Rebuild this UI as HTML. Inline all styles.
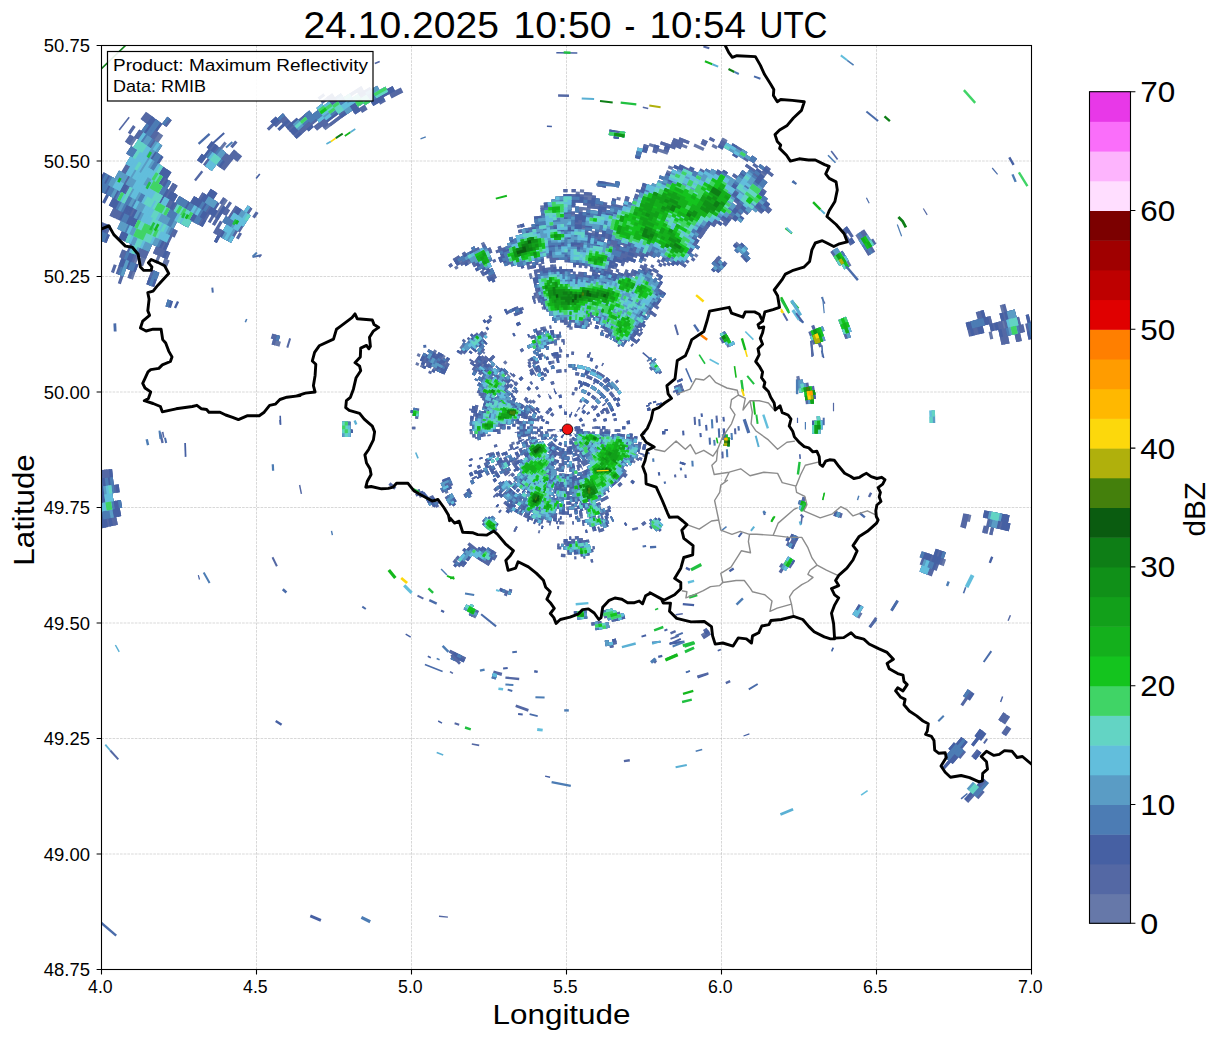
<!DOCTYPE html>
<html><head><meta charset="utf-8"><title>Radar</title>
<style>html,body{margin:0;padding:0;background:#fff;overflow:hidden}body{width:1219px;height:1040px;position:relative}</style></head>
<body>
<svg width="1219" height="1040" viewBox="0 0 1219 1040" style="position:absolute;left:0;top:0;display:block" font-family="Liberation Sans, sans-serif">
<rect x="0" y="0" width="1219" height="1040" fill="#fff"/>
<clipPath id="ax"><rect x="101.5" y="45.5" width="930.0" height="924.0"/></clipPath>
<g clip-path="url(#ax)">
<path d="M256.5,45.5V969.5M411.5,45.5V969.5M566.5,45.5V969.5M721.5,45.5V969.5M876.5,45.5V969.5M101.5,854.0H1031.5M101.5,738.5H1031.5M101.5,623.0H1031.5M101.5,507.5H1031.5M101.5,392.0H1031.5M101.5,276.5H1031.5M101.5,161.0H1031.5" stroke="#b0b0b0" stroke-opacity="0.7" stroke-width="0.7" stroke-dasharray="2.6,1.1" fill="none"/>
<g transform="translate(567.5,429.3)" fill="none" stroke-width="3.2">
<g stroke="#6678A9"><circle r="11.25" pathLength="360" stroke-dasharray="0 0 42 9 13 2 14 265 15 0"/><circle r="21.25" pathLength="360" stroke-dasharray="0 6 69 3 14 7 6 1 37 9 1 6 15 21 7 18 8 69 2 61"/><circle r="26.25" pathLength="360" stroke-dasharray="0 5 57 6 10 14 45 20 18 6 5 12 5 14 7 1 7 73 2 13 4 30 5 1"/><circle r="28.75" pathLength="360" stroke-dasharray="0 10 60 10 1 5 21 6 41 11 5 5 6 21 6 96 3 31 6 10 5 1"/><circle r="36.25" pathLength="360" stroke-dasharray="0 4 52 2 10 2 4 5 12 4 9 4 60 5 35 3 5 24 3 34 4 39 4 31 5 0"/><circle r="38.75" pathLength="360" stroke-dasharray="0 0 67 2 7 3 8 8 8 8 52 2 19 4 12 7 6 28 1 9 2 78 5 8 4 12"/><circle r="41.25" pathLength="360" stroke-dasharray="0 0 57 12 1 3 3 4 7 8 11 3 48 7 2 4 10 8 3 4 4 4 3 1 6 38 1 28 4 6 7 2 4 3 7 1 7 9 3 27"/><circle r="43.75" pathLength="360" stroke-dasharray="0 10 53 14 7 21 50 1 9 5 21 3 19 4 4 7 3 55 1 38 2 4 8 21"/><circle r="46.25" pathLength="360" stroke-dasharray="0 6 65 1 6 3 20 3 50 3 7 2 1 4 19 4 17 4 4 67 3 27 1 8 1 34"/><circle r="48.75" pathLength="360" stroke-dasharray="0 0 3 3 69 4 12 1 63 2 1 7 2 1 9 3 3 3 4 6 7 3 3 4 3 34 4 29 4 1 9 2 7 2 3 1 8 2 3 2 11 3 3 3 3 10"/><circle r="51.25" pathLength="360" stroke-dasharray="0 0 3 2 141 4 8 5 3 10 1 9 23 5 4 14 3 125"/><circle r="56.25" pathLength="360" stroke-dasharray="0 5 142 3 6 3 1 4 3 19 22 17 3 14 3 33 4 2 4 2 6 2 6 1 4 1 7 2 6 1 3 3 4 21 3 0"/><circle r="58.75" pathLength="360" stroke-dasharray="0 10 78 3 53 1 3 1 2 9 5 15 3 2 22 24 2 13 3 10 5 3 2 18 3 21 3 14 3 29"/><circle r="61.25" pathLength="360" stroke-dasharray="0 5 83 3 12 1 37 4 7 8 1 24 26 30 6 3 2 23 4 8 4 1 6 1 5 2 4 1 7 34 3 5"/><circle r="63.75" pathLength="360" stroke-dasharray="0 4 99 2 33 2 16 24 27 3 2 3 3 21 1 3 2 3 3 4 3 13 6 2 7 1 4 1 4 1 8 2 4 2 9 1 3 34"/><circle r="68.75" pathLength="360" stroke-dasharray="0 6 5 2 16 2 1 3 64 2 1 2 33 11 8 2 2 16 4 2 31 7 3 3 3 8 3 1 5 8 5 2 2 31 2 19 2 43"/><circle r="71.25" pathLength="360" stroke-dasharray="0 12 18 5 18 2 33 5 45 1 3 2 3 1 6 24 2 2 31 3 3 2 1 19 2 18 2 97"/><circle r="73.75" pathLength="360" stroke-dasharray="0 10 8 2 3 2 2 10 3 16 1 2 21 2 2 3 4 2 2 2 26 2 8 2 1 5 1 1 14 1 4 4 2 10 40 3 1 16 2 2 5 6 2 4 6 4 2 17 2 8 1 61"/><circle r="76.25" pathLength="360" stroke-dasharray="0 2 2 2 2 10 1 3 2 21 3 16 9 2 6 2 4 5 30 2 2 5 4 8 15 20 38 1 4 3 2 13 2 2 4 1 2 2 1 5 5 10 2 10 2 73"/><circle r="78.75" pathLength="360" stroke-dasharray="0 11 4 3 1 2 2 36 6 4 14 2 6 1 28 1 4 3 2 1 8 7 2 5 1 5 4 12 1 2 26 2 17 1 1 15 6 2 4 12 2 20 1 73"/><circle r="81.25" pathLength="360" stroke-dasharray="0 18 2 46 12 1 2 2 2 4 1 2 4 2 29 8 5 16 2 1 4 14 43 2 1 24 2 15 1 95"/><circle r="83.75" pathLength="360" stroke-dasharray="0 16 1 21 2 27 10 3 2 1 2 4 7 2 24 1 18 4 5 1 3 4 2 2 1 12 49 22 2 1 2 4 2 86 1 1 2 13"/><circle r="86.25" pathLength="360" stroke-dasharray="0 67 10 3 2 5 2 8 38 1 6 5 1 1 6 1 4 15 17 1 31 24 8 5 2 4 1 74 1 17"/><circle r="88.75" pathLength="360" stroke-dasharray="0 61 2 2 3 1 8 3 2 1 2 9 1 2 38 1 5 3 2 8 4 15 19 7 19 2 3 24 16 3 2 92"/><circle r="91.25" pathLength="360" stroke-dasharray="0 62 8 2 4 6 2 11 1 1 2 1 12 2 8 3 10 1 2 1 2 9 5 6 1 12 1 2 13 10 15 1 6 4 2 11 2 3 17 2 2 77 1 17"/><circle r="93.75" pathLength="360" stroke-dasharray="0 64 2 2 1 1 1 1 9 5 1 5 3 1 1 3 3 2 8 1 3 1 2 1 1 2 4 1 1 4 3 2 2 12 1 21 2 2 6 3 7 6 19 1 1 26 18 78 1 15"/><circle r="96.25" pathLength="360" stroke-dasharray="0 1 2 62 2 1 10 2 1 19 1 4 5 1 6 1 13 5 2 15 2 1 2 19 3 2 6 2 4 8 17 31 12 3 1 78 1 15"/><circle r="98.75" pathLength="360" stroke-dasharray="0 0 1 62 1 2 11 18 1 10 1 2 1 3 1 10 4 9 1 13 4 36 1 14 2 1 13 26 3 1 4 1 2 1 2 39 1 58"/><circle r="101.25" pathLength="360" stroke-dasharray="0 63 1 2 5 3 2 28 1 20 2 24 1 2 2 6 1 46 2 2 7 1 1 25 1 4 3 1 2 13 2 16 2 1 2 1 1 1 7 56"/><circle r="103.75" pathLength="360" stroke-dasharray="0 67 3 2 1 1 2 3 1 52 1 19 1 6 1 48 1 3 7 2 4 26 2 2 3 2 1 9 2 2 7 8 1 3 9 1 1 19 2 35"/><circle r="106.25" pathLength="360" stroke-dasharray="0 70 3 32 1 23 1 22 1 1 2 57 9 46 4 2 8 3 2 3 14 3 1 11 1 1 7 32"/><circle r="108.75" pathLength="360" stroke-dasharray="0 84 2 2 1 61 2 58 12 18 1 22 1 2 4 1 10 1 1 5 17 14 1 1 8 31"/><circle r="111.25" pathLength="360" stroke-dasharray="0 58 1 23 3 1 2 2 2 25 1 94 9 41 20 3 24 12 1 38"/><circle r="113.75" pathLength="360" stroke-dasharray="0 79 13 25 1 96 1 1 4 2 1 40 19 1 23 2 1 31 1 19"/><circle r="116.25" pathLength="360" stroke-dasharray="0 80 11 1 1 1 1 34 2 15 3 65 2 4 4 20 2 15 22 1 22 32 5 17"/><circle r="121.25" pathLength="360" stroke-dasharray="0 16 1 33 2 25 1 1 11 36 7 13 2 72 1 2 4 33 46 1 1 28 1 1 4 18"/><circle r="123.75" pathLength="360" stroke-dasharray="0 47 1 30 9 1 2 35 8 85 1 1 7 1 1 29 47 1 1 29 1 23"/><circle r="126.25" pathLength="360" stroke-dasharray="0 45 4 31 4 7 2 34 5 88 10 15 4 10 47 54"/><circle r="133.75" pathLength="360" stroke-dasharray="0 45 4 30 1 67 4 2 5 57 1 1 3 2 1 1 1 8 2 7 1 12 1 1 48 55"/><circle r="136.25" pathLength="360" stroke-dasharray="0 47 1 98 5 1 5 47 5 11 1 11 1 2 1 19 51 54"/><circle r="138.75" pathLength="360" stroke-dasharray="0 147 4 2 2 49 7 45 48 1 1 54"/><circle r="141.25" pathLength="360" stroke-dasharray="0 204 6 47 49 54"/><circle r="143.75" pathLength="360" stroke-dasharray="0 120 4 80 7 46 51 52"/><circle r="146.25" pathLength="360" stroke-dasharray="0 119 7 77 8 46 48 55"/><circle r="153.75" pathLength="360" stroke-dasharray="0 120 10 20 4 26 1 4 3 16 7 46 49 54"/><circle r="156.25" pathLength="360" stroke-dasharray="0 2 2 116 10 21 3 32 1 16 1 1 5 46 1 1 13 1 1 1 3 2 27 54"/><circle r="158.75" pathLength="360" stroke-dasharray="0 2 4 121 4 24 2 46 5 1 1 46 1 1 1 1 12 7 2 1 24 54"/><circle r="161.25" pathLength="360" stroke-dasharray="0 3 3 121 3 25 1 1 1 47 3 50 8 1 1 10 27 55"/><circle r="163.75" pathLength="360" stroke-dasharray="0 127 3 26 1 46 1 56 2 2 2 6 1 1 1 1 1 1 8 2 18 54"/><circle r="166.25" pathLength="360" stroke-dasharray="0 128 2 76 1 36 1 12 3 1 1 11 13 2 1 2 3 1 12 54"/><circle r="168.75" pathLength="360" stroke-dasharray="0 127 4 111 3 9 1 1 1 1 2 1 1 2 2 3 18 3 1 1 11 57"/><circle r="171.25" pathLength="360" stroke-dasharray="0 109 1 17 2 1 1 111 3 8 5 1 3 2 23 5 11 57"/><circle r="178.75" pathLength="360" stroke-dasharray="0 241 1 1 1 5 41 4 4 2 2 27 2 29"/><circle r="181.25" pathLength="360" stroke-dasharray="0 242 3 3 44 3 1 2 2 28 5 27"/><circle r="186.25" pathLength="360" stroke-dasharray="0 76 3 5 3 154 5 3 43 1 2 37 1 27"/><circle r="188.75" pathLength="360" stroke-dasharray="0 75 4 5 3 153 6 3 45 5 1 60"/><circle r="193.75" pathLength="360" stroke-dasharray="0 73 5 160 9 2 1 2 29 1 15 2 1 1 1 58"/><circle r="196.25" pathLength="360" stroke-dasharray="0 73 4 3 3 152 1 1 10 6 45 1 2 1 1 57"/><circle r="198.75" pathLength="360" stroke-dasharray="0 78 4 154 10 7 1 1 21 1 2 1 24 56"/><circle r="201.25" pathLength="360" stroke-dasharray="0 78 4 36 1 115 1 1 8 1 1 11 20 1 28 54"/><circle r="203.75" pathLength="360" stroke-dasharray="0 116 4 116 2 1 1 2 1 2 1 10 49 55"/><circle r="208.75" pathLength="360" stroke-dasharray="0 116 2 138 2 3 44 55"/><circle r="213.75" pathLength="360" stroke-dasharray="0 261 45 54"/><circle r="216.25" pathLength="360" stroke-dasharray="0 77 1 1 1 99 1 83 9 1 32 1 1 5 1 47"/><circle r="218.75" pathLength="360" stroke-dasharray="0 77 3 98 4 81 8 1 2 1 30 7 2 46"/><circle r="221.25" pathLength="360" stroke-dasharray="0 78 1 99 4 81 8 1 4 2 27 6 3 46"/><circle r="223.75" pathLength="360" stroke-dasharray="0 178 4 81 9 3 5 1 25 5 3 46"/><circle r="226.25" pathLength="360" stroke-dasharray="0 264 8 2 31 6 3 46"/><circle r="231.25" pathLength="360" stroke-dasharray="0 267 11 3 1 2 20 56"/><circle r="233.75" pathLength="360" stroke-dasharray="0 269 8 4 1 2 21 55"/><circle r="236.25" pathLength="360" stroke-dasharray="0 272 1 1 2 6 1 1 1 1 19 42 4 9"/><circle r="238.75" pathLength="360" stroke-dasharray="0 269 1 1 1 1 1 10 1 1 19 43 3 9"/><circle r="246.25" pathLength="360" stroke-dasharray="0 0 1 15 3 7 1 28 2 220 2 8 18 8 1 1 2 33 4 4 2 0"/><circle r="251.25" pathLength="360" stroke-dasharray="0 0 1 24 3 86 4 163 1 5 19 6 4 41 3 0"/><circle r="268.75" pathLength="360" stroke-dasharray="0 290 19 29 3 19"/><circle r="276.25" pathLength="360" stroke-dasharray="0 291 18 51"/><circle r="281.25" pathLength="360" stroke-dasharray="0 17 1 266 1 6 1 1 13 1 3 50"/><circle r="293.75" pathLength="360" stroke-dasharray="0 285 1 1 3 8 14 26 4 18"/><circle r="296.25" pathLength="360" stroke-dasharray="0 279 1 6 2 1 1 9 14 25 4 18"/><circle r="301.25" pathLength="360" stroke-dasharray="0 196 1 81 3 7 3 10 1 2 8 48"/><circle r="303.75" pathLength="360" stroke-dasharray="0 196 2 92 2 11 8 49"/><circle r="306.25" pathLength="360" stroke-dasharray="0 196 2 92 3 11 6 50"/><circle r="311.25" pathLength="360" stroke-dasharray="0 291 2 1 2 8 5 51"/><circle r="318.75" pathLength="360" stroke-dasharray="0 295 1 1 1 6 4 18 3 31"/><circle r="321.25" pathLength="360" stroke-dasharray="0 298 1 2 1 4 2 18 4 30"/><circle r="326.25" pathLength="360" stroke-dasharray="0 298 7 1 3 18 3 30"/><circle r="328.75" pathLength="360" stroke-dasharray="0 298 1 1 3 1 1 2 1 52"/><circle r="346.25" pathLength="360" stroke-dasharray="0 32 1 327"/><circle r="348.75" pathLength="360" stroke-dasharray="0 326 4 30"/><circle r="386.25" pathLength="360" stroke-dasharray="0 19 3 187 6 16 11 118"/><circle r="398.75" pathLength="360" stroke-dasharray="0 19 1 188 2 1 3 13 12 121"/><circle r="408.75" pathLength="360" stroke-dasharray="0 12 2 196 3 14 4 2 2 125"/><circle r="411.25" pathLength="360" stroke-dasharray="0 12 1 198 3 13 2 131"/><circle r="433.75" pathLength="360" stroke-dasharray="0 11 2 189 1 5 5 4 3 125 1 1 1 12"/><circle r="436.25" pathLength="360" stroke-dasharray="0 11 3 188 2 4 4 5 2 126 2 13"/><circle r="443.75" pathLength="360" stroke-dasharray="0 11 2 186 2 1 9 5 3 127 3 11"/><circle r="446.25" pathLength="360" stroke-dasharray="0 11 2 190 8 5 4 126 3 11"/><circle r="448.75" pathLength="360" stroke-dasharray="0 11 2 190 8 5 3 126 4 11"/><circle r="451.25" pathLength="360" stroke-dasharray="0 12 1 191 7 6 2 125 4 12"/><circle r="456.25" pathLength="360" stroke-dasharray="0 169 2 1 1 28 10 5 1 1 1 126 3 12"/><circle r="458.75" pathLength="360" stroke-dasharray="0 169 2 1 3 26 10 134 4 11"/><circle r="461.25" pathLength="360" stroke-dasharray="0 168 7 24 2 1 10 133 4 11"/><circle r="463.75" pathLength="360" stroke-dasharray="0 168 7 24 13 134 2 12"/><circle r="501.25" pathLength="360" stroke-dasharray="0 38 3 161 2 1 11 144"/><circle r="503.75" pathLength="360" stroke-dasharray="0 38 3 161 2 1 11 1 1 142"/><circle r="521.25" pathLength="360" stroke-dasharray="0 33 1 4 1 168 2 4 2 1 1 143"/></g>
<g stroke="#5468A4"><circle r="1.25" pathLength="360" stroke-dasharray="0 124 70 166"/><circle r="3.75" pathLength="360" stroke-dasharray="0 142 10 208"/><circle r="6.25" pathLength="360" stroke-dasharray="0 52 20 50 6 33 22 177"/><circle r="8.75" pathLength="360" stroke-dasharray="0 0 15 19 2 85 11 33 1 175 19 0"/><circle r="11.25" pathLength="360" stroke-dasharray="0 0 42 9 13 281 15 0"/><circle r="13.75" pathLength="360" stroke-dasharray="0 0 45 2 12 8 15 11 11 40 15 16 6 97 7 74 1 0"/><circle r="16.25" pathLength="360" stroke-dasharray="0 8 66 18 10 9 11 11 14 6 9 10 9 77 10 14 4 10 9 14 11 10 10 10"/><circle r="18.75" pathLength="360" stroke-dasharray="0 7 85 58 6 17 8 79 1 99"/><circle r="21.25" pathLength="360" stroke-dasharray="0 6 57 7 5 3 14 7 6 1 37 9 1 6 15 21 7 18 8 69 2 61"/><circle r="23.75" pathLength="360" stroke-dasharray="0 8 65 4 34 7 25 12 13 81 7 41 4 8 8 43"/><circle r="26.25" pathLength="360" stroke-dasharray="0 7 55 6 10 14 45 20 18 6 5 12 5 14 7 1 7 73 2 13 4 36"/><circle r="28.75" pathLength="360" stroke-dasharray="0 10 60 10 1 5 16 11 41 21 6 21 6 96 3 31 6 10 5 1"/><circle r="31.25" pathLength="360" stroke-dasharray="0 9 56 2 14 6 4 5 5 14 12 5 24 4 1 10 5 5 4 10 10 88 5 57 4 1"/><circle r="33.75" pathLength="360" stroke-dasharray="0 0 57 2 5 2 7 10 4 4 9 5 62 5 4 5 4 9 5 11 3 42 5 35 4 1 8 8 5 1 3 7 6 21 1 0"/><circle r="36.25" pathLength="360" stroke-dasharray="0 4 52 2 10 11 12 4 9 4 60 5 14 2 19 3 5 24 3 34 4 39 4 31 5 0"/><circle r="38.75" pathLength="360" stroke-dasharray="0 0 67 2 7 3 8 8 8 8 52 2 4 2 13 4 8 1 3 7 2 32 1 9 2 78 5 8 4 12"/><circle r="41.25" pathLength="360" stroke-dasharray="0 3 54 12 1 3 3 4 7 8 11 3 48 7 2 5 9 8 3 4 1 7 3 1 6 38 1 28 4 6 7 2 4 3 7 1 7 9 3 27"/><circle r="43.75" pathLength="360" stroke-dasharray="0 10 53 14 7 21 50 1 9 5 21 3 19 5 3 7 3 55 1 38 2 4 8 21"/><circle r="46.25" pathLength="360" stroke-dasharray="0 6 65 1 6 6 16 4 50 3 7 2 1 4 19 4 17 4 2 69 3 27 1 8 1 34"/><circle r="48.75" pathLength="360" stroke-dasharray="0 0 3 3 69 4 12 1 63 2 1 7 2 1 9 3 3 3 4 6 7 10 3 34 4 29 4 1 9 2 7 2 3 1 8 2 3 2 11 3 3 3 3 10"/><circle r="51.25" pathLength="360" stroke-dasharray="0 0 3 2 141 4 8 5 3 23 20 5 4 14 3 125"/><circle r="53.75" pathLength="360" stroke-dasharray="0 5 140 6 1 7 2 22 3 3 20 90 2 59"/><circle r="56.25" pathLength="360" stroke-dasharray="0 5 142 3 6 3 1 26 22 17 3 14 3 33 4 2 4 2 6 2 6 1 4 1 7 2 6 1 3 3 4 21 3 0"/><circle r="58.75" pathLength="360" stroke-dasharray="0 10 78 3 2 3 48 1 3 1 2 9 5 15 3 2 22 24 2 13 3 10 5 3 2 18 3 21 3 14 3 29"/><circle r="61.25" pathLength="360" stroke-dasharray="0 5 83 3 2 1 9 1 37 4 4 1 2 8 1 24 26 30 6 3 2 23 4 8 4 1 6 1 5 2 4 1 7 34 3 5"/><circle r="63.75" pathLength="360" stroke-dasharray="0 4 99 2 33 2 8 2 6 24 27 3 2 3 3 21 1 3 2 3 3 4 3 13 6 2 7 1 4 1 4 1 8 2 4 2 9 1 3 34"/><circle r="66.25" pathLength="360" stroke-dasharray="0 7 79 2 12 2 36 3 2 7 2 3 1 1 3 20 29 2 2 1 2 1 2 17 4 1 5 114"/><circle r="68.75" pathLength="360" stroke-dasharray="0 6 5 2 16 2 1 3 64 2 1 4 31 11 8 2 2 16 4 5 28 7 3 3 3 8 3 1 5 8 2 5 2 31 2 19 2 43"/><circle r="71.25" pathLength="360" stroke-dasharray="0 12 18 8 15 2 33 5 45 1 2 3 3 1 6 24 2 2 31 3 3 2 1 19 2 18 2 97"/><circle r="73.75" pathLength="360" stroke-dasharray="0 10 8 2 3 14 3 16 1 2 21 2 2 3 4 2 2 2 26 2 8 2 1 7 3 2 9 3 2 4 2 10 39 4 1 16 2 2 5 6 2 4 6 4 2 17 2 8 1 61"/><circle r="76.25" pathLength="360" stroke-dasharray="0 2 2 2 2 10 1 3 2 21 3 16 9 2 6 2 4 5 30 2 2 5 4 8 15 20 38 2 3 3 2 13 2 2 4 1 2 2 1 5 5 10 2 10 2 73"/><circle r="78.75" pathLength="360" stroke-dasharray="0 11 4 3 1 2 2 36 6 4 14 2 4 3 28 1 4 3 2 1 7 8 2 5 1 5 3 13 1 2 26 2 16 2 1 17 4 2 4 12 2 20 1 73"/><circle r="81.25" pathLength="360" stroke-dasharray="0 66 11 2 2 2 2 4 1 2 4 2 29 8 5 16 2 1 4 14 43 27 2 15 1 95"/><circle r="83.75" pathLength="360" stroke-dasharray="0 16 1 21 2 27 9 4 2 1 2 4 7 2 24 1 18 4 5 1 3 4 2 2 1 12 49 22 2 1 2 4 2 86 1 1 2 13"/><circle r="86.25" pathLength="360" stroke-dasharray="0 67 10 3 2 5 2 8 38 1 6 5 1 1 6 1 4 15 17 1 31 24 8 11 1 74 1 17"/><circle r="88.75" pathLength="360" stroke-dasharray="0 61 2 2 3 1 8 6 2 9 1 2 28 1 9 1 4 4 2 8 4 15 19 7 19 2 3 24 16 3 2 92"/><circle r="91.25" pathLength="360" stroke-dasharray="0 62 3 2 3 2 4 6 2 11 1 1 2 1 4 1 7 2 8 3 10 1 2 1 2 9 5 6 1 12 1 2 13 10 15 1 6 17 2 3 17 81 1 17"/><circle r="93.75" pathLength="360" stroke-dasharray="0 64 2 2 1 1 1 1 9 5 1 7 1 1 1 3 2 3 8 1 3 1 2 1 1 2 4 1 1 4 3 2 2 12 1 21 2 2 6 3 7 6 19 1 1 26 18 78 1 15"/><circle r="96.25" pathLength="360" stroke-dasharray="0 1 2 62 2 1 10 2 1 24 5 1 6 1 13 5 2 15 2 1 2 21 1 3 5 2 4 8 17 31 12 3 1 78 1 15"/><circle r="98.75" pathLength="360" stroke-dasharray="0 0 1 62 1 2 11 18 1 10 1 2 1 3 1 10 2 11 1 13 4 36 1 14 2 1 6 1 6 26 3 1 4 1 2 1 2 39 1 58"/><circle r="101.25" pathLength="360" stroke-dasharray="0 63 1 2 5 3 2 28 1 20 2 24 1 2 2 6 1 46 2 2 7 1 1 25 1 4 3 1 2 31 2 1 2 1 1 1 7 56"/><circle r="103.75" pathLength="360" stroke-dasharray="0 67 3 2 1 1 2 3 1 52 1 19 1 6 1 48 1 3 7 2 4 26 2 2 2 3 1 9 2 2 7 8 1 3 8 2 1 19 2 35"/><circle r="106.25" pathLength="360" stroke-dasharray="0 70 3 56 1 22 1 1 2 57 3 2 4 46 2 1 1 2 8 3 2 4 13 3 1 14 6 32"/><circle r="108.75" pathLength="360" stroke-dasharray="0 84 2 2 1 61 2 58 4 1 7 18 1 22 1 2 4 1 5 2 3 7 17 14 1 1 8 31"/><circle r="111.25" pathLength="360" stroke-dasharray="0 58 1 23 3 1 2 2 2 25 1 94 9 41 20 3 1 1 22 12 1 38"/><circle r="113.75" pathLength="360" stroke-dasharray="0 79 13 25 1 96 1 1 4 43 19 1 23 2 1 31 1 19"/><circle r="116.25" pathLength="360" stroke-dasharray="0 80 11 1 1 1 1 34 2 15 3 65 2 4 4 20 2 15 22 1 22 32 4 18"/><circle r="118.75" pathLength="360" stroke-dasharray="0 16 1 62 13 1 2 31 6 13 3 67 1 5 4 1 1 34 47 30 4 18"/><circle r="121.25" pathLength="360" stroke-dasharray="0 16 1 33 2 25 1 1 11 36 7 13 2 72 1 2 4 33 46 1 1 28 1 1 2 1 1 18"/><circle r="123.75" pathLength="360" stroke-dasharray="0 47 1 30 9 1 2 35 8 85 1 1 7 1 1 30 46 1 1 29 1 23"/><circle r="126.25" pathLength="360" stroke-dasharray="0 45 4 31 4 7 2 34 5 88 9 16 4 10 47 54"/><circle r="128.75" pathLength="360" stroke-dasharray="0 44 6 32 1 3 1 67 4 58 13 2 1 14 4 8 49 53"/><circle r="131.25" pathLength="360" stroke-dasharray="0 45 4 104 5 57 12 15 6 7 1 1 49 54"/><circle r="133.75" pathLength="360" stroke-dasharray="0 45 4 30 1 67 4 2 5 57 1 3 1 2 1 1 1 8 2 7 1 12 1 1 48 55"/><circle r="136.25" pathLength="360" stroke-dasharray="0 47 1 98 5 2 4 47 5 11 1 11 1 2 1 19 1 2 48 54"/><circle r="138.75" pathLength="360" stroke-dasharray="0 147 4 2 2 49 4 1 2 45 1 1 46 1 1 54"/><circle r="141.25" pathLength="360" stroke-dasharray="0 204 6 47 47 56"/><circle r="143.75" pathLength="360" stroke-dasharray="0 120 4 80 5 48 47 1 3 52"/><circle r="146.25" pathLength="360" stroke-dasharray="0 119 7 77 1 1 6 46 48 55"/><circle r="148.75" pathLength="360" stroke-dasharray="0 119 8 23 1 51 1 2 6 46 1 1 46 55"/><circle r="151.25" pathLength="360" stroke-dasharray="0 120 11 18 5 30 4 16 6 47 50 53"/><circle r="153.75" pathLength="360" stroke-dasharray="0 120 10 20 3 27 1 4 3 16 6 47 49 54"/><circle r="156.25" pathLength="360" stroke-dasharray="0 2 1 117 10 21 3 32 1 16 1 1 5 48 13 1 1 1 3 2 27 54"/><circle r="158.75" pathLength="360" stroke-dasharray="0 2 4 121 4 24 2 47 4 1 1 48 1 1 12 7 2 1 24 54"/><circle r="161.25" pathLength="360" stroke-dasharray="0 3 3 121 3 27 1 47 3 50 8 1 1 10 27 55"/><circle r="163.75" pathLength="360" stroke-dasharray="0 127 3 26 1 103 2 2 1 7 1 1 1 1 1 1 5 1 2 2 2 1 15 54"/><circle r="166.25" pathLength="360" stroke-dasharray="0 128 2 113 1 12 3 1 1 11 13 2 1 2 3 1 12 54"/><circle r="168.75" pathLength="360" stroke-dasharray="0 127 4 111 3 9 1 1 1 1 2 1 1 2 2 3 17 4 1 1 11 57"/><circle r="171.25" pathLength="360" stroke-dasharray="0 109 1 17 2 113 3 8 5 1 3 2 23 5 11 57"/><circle r="173.75" pathLength="360" stroke-dasharray="0 109 4 15 3 112 2 6 11 1 23 2 1 5 5 1 1 1 1 57"/><circle r="176.25" pathLength="360" stroke-dasharray="0 110 1 18 1 111 4 4 40 6 4 2 1 58"/><circle r="178.75" pathLength="360" stroke-dasharray="0 241 1 1 1 5 41 4 2 1 1 2 2 27 2 29"/><circle r="181.25" pathLength="360" stroke-dasharray="0 242 3 3 44 3 1 2 2 28 4 28"/><circle r="183.75" pathLength="360" stroke-dasharray="0 84 4 152 5 1 1 1 43 2 1 3 1 30 5 27"/><circle r="186.25" pathLength="360" stroke-dasharray="0 76 3 5 3 154 5 3 43 1 1 38 1 27"/><circle r="188.75" pathLength="360" stroke-dasharray="0 75 4 5 3 153 6 3 34 1 10 5 1 60"/><circle r="191.25" pathLength="360" stroke-dasharray="0 74 5 161 6 2 33 1 4 1 8 3 1 1 1 59"/><circle r="193.75" pathLength="360" stroke-dasharray="0 73 5 160 1 1 7 2 1 2 29 1 15 2 1 1 1 58"/><circle r="196.25" pathLength="360" stroke-dasharray="0 73 4 3 3 154 10 6 45 1 2 1 1 57"/><circle r="198.75" pathLength="360" stroke-dasharray="0 78 4 154 1 1 8 7 1 1 21 2 1 1 24 56"/><circle r="201.25" pathLength="360" stroke-dasharray="0 78 4 36 1 115 1 1 8 1 1 11 17 1 2 1 1 1 26 54"/><circle r="203.75" pathLength="360" stroke-dasharray="0 116 4 116 2 1 1 2 1 13 49 55"/><circle r="206.25" pathLength="360" stroke-dasharray="0 116 4 140 46 54"/><circle r="208.75" pathLength="360" stroke-dasharray="0 117 1 139 1 3 44 55"/><circle r="211.25" pathLength="360" stroke-dasharray="0 261 44 1 1 53"/><circle r="216.25" pathLength="360" stroke-dasharray="0 77 1 1 1 99 1 83 9 1 32 7 1 47"/><circle r="218.75" pathLength="360" stroke-dasharray="0 77 3 98 4 81 8 1 1 2 30 7 2 46"/><circle r="221.25" pathLength="360" stroke-dasharray="0 78 1 99 4 81 8 1 1 5 27 6 3 46"/><circle r="223.75" pathLength="360" stroke-dasharray="0 178 4 82 8 3 5 1 25 5 3 46"/><circle r="226.25" pathLength="360" stroke-dasharray="0 264 8 2 3 1 27 6 3 46"/><circle r="228.75" pathLength="360" stroke-dasharray="0 266 14 1 24 6 1 1 1 46"/><circle r="231.25" pathLength="360" stroke-dasharray="0 267 8 1 2 3 1 2 20 56"/><circle r="233.75" pathLength="360" stroke-dasharray="0 269 5 2 1 4 1 2 21 55"/><circle r="236.25" pathLength="360" stroke-dasharray="0 274 2 8 1 1 19 43 3 9"/><circle r="238.75" pathLength="360" stroke-dasharray="0 269 1 1 1 12 1 1 19 43 3 9"/><circle r="241.25" pathLength="360" stroke-dasharray="0 286 19 44 5 6"/><circle r="243.75" pathLength="360" stroke-dasharray="0 17 1 37 1 230 19 44 5 6"/><circle r="246.25" pathLength="360" stroke-dasharray="0 0 1 15 3 7 1 28 1 221 2 8 18 8 1 1 2 33 4 4 2 0"/><circle r="248.75" pathLength="360" stroke-dasharray="0 0 1 16 2 6 1 1 1 27 2 220 5 4 19 7 5 33 3 5 2 0"/><circle r="251.25" pathLength="360" stroke-dasharray="0 0 1 24 3 86 4 163 1 5 19 7 3 41 3 0"/><circle r="253.75" pathLength="360" stroke-dasharray="0 25 3 4 1 72 2 7 3 170 19 7 2 43 2 0"/><circle r="256.25" pathLength="360" stroke-dasharray="0 30 4 72 1 8 2 170 20 53"/><circle r="258.75" pathLength="360" stroke-dasharray="0 30 3 73 1 182 17 1 1 52"/><circle r="261.25" pathLength="360" stroke-dasharray="0 30 2 258 18 30 3 19"/><circle r="266.25" pathLength="360" stroke-dasharray="0 291 17 29 5 18"/><circle r="276.25" pathLength="360" stroke-dasharray="0 292 17 51"/><circle r="278.75" pathLength="360" stroke-dasharray="0 292 17 51"/><circle r="281.25" pathLength="360" stroke-dasharray="0 17 1 266 1 8 13 1 3 50"/><circle r="283.75" pathLength="360" stroke-dasharray="0 17 1 266 1 7 18 50"/><circle r="286.25" pathLength="360" stroke-dasharray="0 17 1 266 1 8 17 50"/><circle r="291.25" pathLength="360" stroke-dasharray="0 285 1 1 1 9 15 48"/><circle r="293.75" pathLength="360" stroke-dasharray="0 285 1 1 1 10 14 26 4 18"/><circle r="296.25" pathLength="360" stroke-dasharray="0 279 1 7 1 1 1 9 14 25 4 18"/><circle r="298.75" pathLength="360" stroke-dasharray="0 278 3 8 1 10 13 25 3 19"/><circle r="301.25" pathLength="360" stroke-dasharray="0 278 3 7 3 10 1 2 8 48"/><circle r="303.75" pathLength="360" stroke-dasharray="0 197 1 92 2 11 8 49"/><circle r="306.25" pathLength="360" stroke-dasharray="0 196 2 92 2 12 6 50"/><circle r="308.75" pathLength="360" stroke-dasharray="0 197 1 92 2 12 6 50"/><circle r="311.25" pathLength="360" stroke-dasharray="0 291 2 11 5 51"/><circle r="316.25" pathLength="360" stroke-dasharray="0 295 1 9 4 51"/><circle r="318.75" pathLength="360" stroke-dasharray="0 295 1 8 4 18 3 31"/><circle r="323.75" pathLength="360" stroke-dasharray="0 296 1 1 6 1 1 1 1 18 4 30"/><circle r="326.25" pathLength="360" stroke-dasharray="0 298 7 1 3 18 2 31"/><circle r="328.75" pathLength="360" stroke-dasharray="0 300 3 1 1 2 1 52"/><circle r="338.75" pathLength="360" stroke-dasharray="0 325 2 33"/><circle r="341.25" pathLength="360" stroke-dasharray="0 31 2 291 1 1 1 33"/><circle r="343.75" pathLength="360" stroke-dasharray="0 31 2 291 2 34"/><circle r="348.75" pathLength="360" stroke-dasharray="0 327 3 30"/><circle r="353.75" pathLength="360" stroke-dasharray="0 326 4 30"/><circle r="356.25" pathLength="360" stroke-dasharray="0 326 3 31"/><circle r="358.75" pathLength="360" stroke-dasharray="0 328 1 31"/><circle r="376.25" pathLength="360" stroke-dasharray="0 19 1 220 1 1 2 116"/><circle r="378.75" pathLength="360" stroke-dasharray="0 19 2 193 1 22 1 1 2 1 2 116"/><circle r="381.25" pathLength="360" stroke-dasharray="0 19 3 188 1 25 2 1 4 117"/><circle r="383.75" pathLength="360" stroke-dasharray="0 19 3 189 3 22 1 1 5 117"/><circle r="386.25" pathLength="360" stroke-dasharray="0 19 3 187 6 17 10 118"/><circle r="388.75" pathLength="360" stroke-dasharray="0 18 4 187 6 16 1 2 7 119"/><circle r="391.25" pathLength="360" stroke-dasharray="0 18 4 187 5 16 11 119"/><circle r="393.75" pathLength="360" stroke-dasharray="0 18 3 188 5 16 10 120"/><circle r="396.25" pathLength="360" stroke-dasharray="0 18 2 189 5 15 1 1 6 1 1 121"/><circle r="398.75" pathLength="360" stroke-dasharray="0 208 2 1 3 13 12 121"/><circle r="401.25" pathLength="360" stroke-dasharray="0 209 1 1 1 15 9 124"/><circle r="403.75" pathLength="360" stroke-dasharray="0 209 2 1 1 14 9 124"/><circle r="406.25" pathLength="360" stroke-dasharray="0 12 2 198 2 13 4 1 1 1 1 125"/><circle r="408.75" pathLength="360" stroke-dasharray="0 12 2 196 3 14 4 3 1 125"/><circle r="413.75" pathLength="360" stroke-dasharray="0 210 2 1 1 13 1 5 1 111 2 13"/><circle r="418.75" pathLength="360" stroke-dasharray="0 197 1 11 4 14 1 117 2 13"/><circle r="421.25" pathLength="360" stroke-dasharray="0 209 4 13 2 117 2 13"/><circle r="423.75" pathLength="360" stroke-dasharray="0 209 5 11 3 117 2 13"/><circle r="426.25" pathLength="360" stroke-dasharray="0 11 1 197 5 5 1 6 1 117 3 13"/><circle r="428.75" pathLength="360" stroke-dasharray="0 11 1 1 1 195 5 5 1 124 2 14"/><circle r="431.25" pathLength="360" stroke-dasharray="0 11 3 194 5 4 3 124 2 14"/><circle r="433.75" pathLength="360" stroke-dasharray="0 11 2 195 5 4 3 125 1 14"/><circle r="436.25" pathLength="360" stroke-dasharray="0 11 3 189 1 4 4 5 2 126 2 13"/><circle r="438.75" pathLength="360" stroke-dasharray="0 11 2 186 2 2 1 2 1 1 4 5 2 1 1 125 1 13"/><circle r="441.25" pathLength="360" stroke-dasharray="0 11 2 186 2 2 4 1 3 5 3 127 1 13"/><circle r="443.75" pathLength="360" stroke-dasharray="0 11 2 186 2 2 8 5 3 127 3 11"/><circle r="446.25" pathLength="360" stroke-dasharray="0 11 2 190 8 5 3 127 3 11"/><circle r="448.75" pathLength="360" stroke-dasharray="0 11 2 190 8 5 3 126 1 1 2 11"/><circle r="451.25" pathLength="360" stroke-dasharray="0 12 1 191 7 6 2 126 3 12"/><circle r="453.75" pathLength="360" stroke-dasharray="0 170 1 1 1 31 6 6 3 125 4 12"/><circle r="456.25" pathLength="360" stroke-dasharray="0 169 2 1 1 29 9 5 1 1 1 126 3 12"/><circle r="458.75" pathLength="360" stroke-dasharray="0 169 2 1 3 27 9 134 4 11"/><circle r="461.25" pathLength="360" stroke-dasharray="0 168 7 25 1 1 10 133 4 11"/><circle r="463.75" pathLength="360" stroke-dasharray="0 168 7 24 2 1 10 134 2 12"/><circle r="466.25" pathLength="360" stroke-dasharray="0 168 7 25 11 136 1 12"/><circle r="468.75" pathLength="360" stroke-dasharray="0 168 7 25 12 148"/><circle r="471.25" pathLength="360" stroke-dasharray="0 168 5 25 14 135 2 11"/><circle r="473.75" pathLength="360" stroke-dasharray="0 168 3 28 14 133 3 11"/><circle r="476.25" pathLength="360" stroke-dasharray="0 168 1 30 3 1 10 134 1 12"/><circle r="478.75" pathLength="360" stroke-dasharray="0 33 1 167 1 1 10 147"/><circle r="481.25" pathLength="360" stroke-dasharray="0 33 2 164 1 3 10 147"/><circle r="486.25" pathLength="360" stroke-dasharray="0 203 10 147"/><circle r="496.25" pathLength="360" stroke-dasharray="0 205 10 145"/><circle r="498.75" pathLength="360" stroke-dasharray="0 39 1 162 1 2 10 145"/><circle r="501.25" pathLength="360" stroke-dasharray="0 38 3 161 2 1 10 145"/><circle r="503.75" pathLength="360" stroke-dasharray="0 38 3 161 2 1 10 2 1 142"/><circle r="506.25" pathLength="360" stroke-dasharray="0 38 4 161 1 2 10 1 1 142"/><circle r="508.75" pathLength="360" stroke-dasharray="0 39 2 162 1 2 11 143"/><circle r="511.25" pathLength="360" stroke-dasharray="0 36 1 2 1 167 10 143"/><circle r="513.75" pathLength="360" stroke-dasharray="0 36 2 169 10 143"/><circle r="518.75" pathLength="360" stroke-dasharray="0 207 2 3 1 1 3 143"/><circle r="521.25" pathLength="360" stroke-dasharray="0 33 1 4 1 168 2 5 1 1 1 143"/><circle r="523.75" pathLength="360" stroke-dasharray="0 33 1 4 1 168 2 4 1 2 1 143"/><circle r="526.25" pathLength="360" stroke-dasharray="0 33 1 173 2 4 1 2 1 143"/><circle r="528.75" pathLength="360" stroke-dasharray="0 208 1 5 1 145"/><circle r="531.25" pathLength="360" stroke-dasharray="0 34 1 325"/><circle r="533.75" pathLength="360" stroke-dasharray="0 34 1 325"/><circle r="546.25" pathLength="360" stroke-dasharray="0 40 3 317"/><circle r="551.25" pathLength="360" stroke-dasharray="0 41 1 318"/></g>
<g stroke="#4660A3"><circle r="6.25" pathLength="360" stroke-dasharray="0 122 6 33 22 177"/><circle r="8.75" pathLength="360" stroke-dasharray="0 34 2 85 11 33 1 175 17 2"/><circle r="11.25" pathLength="360" stroke-dasharray="0 0 42 9 13 294 2 0"/><circle r="13.75" pathLength="360" stroke-dasharray="0 0 45 2 12 8 15 11 11 40 3 131 7 74 1 0"/><circle r="16.25" pathLength="360" stroke-dasharray="0 8 62 41 11 11 14 111 10 14 4 33 11 30"/><circle r="18.75" pathLength="360" stroke-dasharray="0 7 52 14 11 66 6 104 1 99"/><circle r="21.25" pathLength="360" stroke-dasharray="0 11 52 7 5 3 14 7 6 1 17 7 4 6 3 9 1 6 8 28 7 158"/><circle r="23.75" pathLength="360" stroke-dasharray="0 10 50 17 8 7 6 5 1 14 25 12 13 81 7 53 8 43"/><circle r="26.25" pathLength="360" stroke-dasharray="0 9 53 12 4 19 5 16 10 1 8 20 6 18 5 12 5 22 7 88 4 36"/><circle r="28.75" pathLength="360" stroke-dasharray="0 10 49 4 2 21 11 3 2 11 4 8 2 4 23 21 6 179"/><circle r="31.25" pathLength="360" stroke-dasharray="0 9 56 2 10 10 4 24 12 5 24 4 1 194 4 1"/><circle r="33.75" pathLength="360" stroke-dasharray="0 8 24 2 23 2 5 19 4 4 5 9 4 5 49 9 4 22 1 11 3 42 5 35 4 1 8 14 3 7 6 22"/><circle r="36.25" pathLength="360" stroke-dasharray="0 4 17 3 9 1 22 27 2 2 4 17 49 2 9 8 9 4 4 5 10 3 5 139 5 0"/><circle r="38.75" pathLength="360" stroke-dasharray="0 3 56 20 4 12 4 12 46 4 2 2 4 3 12 4 8 11 2 42 2 91 4 12"/><circle r="41.25" pathLength="360" stroke-dasharray="0 3 54 23 7 8 7 7 47 15 9 15 1 15 2 38 1 38 7 2 4 11 7 9 3 27"/><circle r="43.75" pathLength="360" stroke-dasharray="0 10 52 15 7 21 50 5 3 9 2 3 3 4 7 4 3 3 8 3 1 73 1 73"/><circle r="46.25" pathLength="360" stroke-dasharray="0 6 55 2 5 4 6 6 7 1 5 7 50 3 7 2 1 4 16 10 14 75 3 27 1 43"/><circle r="48.75" pathLength="360" stroke-dasharray="0 6 63 3 1 6 12 2 12 1 4 6 34 2 3 10 2 4 6 3 3 3 4 6 7 80 4 1 9 2 7 2 3 1 8 2 3 2 11 3 3 16"/><circle r="51.25" pathLength="360" stroke-dasharray="0 5 74 3 23 1 40 5 2 36 6 3 3 1 7 151"/><circle r="53.75" pathLength="360" stroke-dasharray="0 5 77 3 15 2 6 3 34 6 1 7 2 22 3 3 20 151"/><circle r="56.25" pathLength="360" stroke-dasharray="0 8 75 2 62 6 3 3 1 26 22 17 3 14 3 39 4 10 6 1 4 1 7 9 3 3 4 21 3 0"/><circle r="58.75" pathLength="360" stroke-dasharray="0 10 76 5 2 3 2 5 41 1 3 32 3 2 22 80 3 38 3 29"/><circle r="61.25" pathLength="360" stroke-dasharray="0 5 83 3 2 1 3 1 3 3 37 4 2 3 2 33 18 2 6 30 6 3 2 23 4 8 4 1 6 1 5 7 7 34 3 5"/><circle r="63.75" pathLength="360" stroke-dasharray="0 4 3 2 75 2 17 2 33 2 3 7 6 24 3 2 22 3 2 32 1 5 1 4 3 13 6 2 7 1 4 1 4 11 4 2 9 1 3 34"/><circle r="66.25" pathLength="360" stroke-dasharray="0 9 77 5 9 2 36 3 2 7 1 4 1 1 3 23 26 2 2 4 2 17 3 5 2 114"/><circle r="68.75" pathLength="360" stroke-dasharray="0 6 5 2 16 2 1 3 64 2 1 4 31 11 3 7 2 25 28 13 3 13 4 8 2 5 2 97"/><circle r="71.25" pathLength="360" stroke-dasharray="0 13 17 14 9 2 33 5 6 2 29 2 3 1 2 7 2 1 4 26 2 2 20 1 8 1 1 29 1 18 1 98"/><circle r="73.75" pathLength="360" stroke-dasharray="0 14 4 2 3 16 1 16 1 4 19 2 2 3 2 4 2 2 26 2 8 15 9 3 2 16 24 1 8 4 2 36 2 7 1 25 2 70"/><circle r="76.25" pathLength="360" stroke-dasharray="0 64 9 2 2 2 2 2 2 7 30 2 2 5 4 11 1 2 1 4 4 20 36 4 3 24 2 1 2 2 1 5 5 97"/><circle r="78.75" pathLength="360" stroke-dasharray="0 11 4 54 4 2 8 2 4 3 4 2 22 1 4 3 2 1 1 1 2 2 1 8 2 11 3 16 10 2 14 2 11 2 3 20 4 2 2 110"/><circle r="81.25" pathLength="360" stroke-dasharray="0 68 9 2 2 2 2 7 4 2 29 8 5 16 2 1 1 17 39 2 2 27 2 111"/><circle r="83.75" pathLength="360" stroke-dasharray="0 16 1 21 2 27 9 7 2 4 1 2 2 4 24 3 16 4 3 3 3 4 2 17 44 2 1 22 2 1 2 4 2 86 1 1 2 13"/><circle r="86.25" pathLength="360" stroke-dasharray="0 67 10 22 27 2 4 2 1 1 6 5 1 1 4 3 1 2 1 15 17 1 1 2 19 3 6 24 8 86 1 17"/><circle r="88.75" pathLength="360" stroke-dasharray="0 65 3 1 8 6 1 10 1 6 19 2 3 1 7 3 2 1 1 4 2 8 2 17 19 9 2 1 12 4 3 24 13 1 2 97"/><circle r="91.25" pathLength="360" stroke-dasharray="0 62 1 6 1 4 1 7 2 13 2 1 4 1 7 2 5 2 1 3 9 2 1 2 2 10 4 6 1 15 10 1 2 14 9 4 5 22 17 81 1 17"/><circle r="93.75" pathLength="360" stroke-dasharray="0 64 2 6 7 28 6 1 1 3 2 1 1 2 3 2 1 4 3 16 1 25 6 5 2 11 17 1 1 26 18 78 1 15"/><circle r="96.25" pathLength="360" stroke-dasharray="0 1 2 63 1 2 9 28 2 1 1 3 1 6 5 1 3 24 1 25 1 3 2 1 2 2 1 1 2 10 15 32 11 82 1 15"/><circle r="98.75" pathLength="360" stroke-dasharray="0 0 1 62 1 2 11 32 1 3 1 10 2 25 4 51 2 1 1 2 3 1 3 1 2 30 1 1 2 1 2 1 2 98"/><circle r="101.25" pathLength="360" stroke-dasharray="0 63 1 2 5 3 2 28 1 20 2 24 1 2 1 7 1 46 2 3 3 1 1 2 1 25 1 4 1 3 2 31 2 4 1 1 7 56"/><circle r="103.75" pathLength="360" stroke-dasharray="0 67 3 4 1 4 1 52 1 26 1 48 1 5 5 2 2 28 2 17 1 3 6 13 8 2 1 56"/><circle r="106.25" pathLength="360" stroke-dasharray="0 154 2 57 3 2 2 51 1 3 2 1 3 4 2 6 11 18 6 32"/><circle r="108.75" pathLength="360" stroke-dasharray="0 88 1 61 2 58 2 1 1 1 2 23 1 22 1 3 1 3 1 2 2 3 2 7 3 1 13 14 1 1 7 32"/><circle r="111.25" pathLength="360" stroke-dasharray="0 58 1 25 1 5 2 125 2 43 6 2 12 3 1 1 20 14 1 38"/><circle r="113.75" pathLength="360" stroke-dasharray="0 80 1 2 4 1 2 124 1 3 2 43 19 1 3 1 17 4 1 51"/><circle r="116.25" pathLength="360" stroke-dasharray="0 80 10 2 1 36 2 15 1 1 1 72 1 22 2 15 22 1 1 2 17 1 1 33 3 18"/><circle r="118.75" pathLength="360" stroke-dasharray="0 16 1 62 13 34 6 13 3 73 4 1 1 34 45 33 3 18"/><circle r="121.25" pathLength="360" stroke-dasharray="0 16 1 62 11 36 7 13 1 73 1 2 4 33 46 30 1 4 1 18"/><circle r="123.75" pathLength="360" stroke-dasharray="0 47 1 31 8 1 1 37 6 86 1 1 4 1 2 1 1 30 44 1 1 31 1 23"/><circle r="126.25" pathLength="360" stroke-dasharray="0 45 4 31 4 43 4 89 7 19 1 1 1 10 47 54"/><circle r="128.75" pathLength="360" stroke-dasharray="0 44 6 105 3 59 10 1 1 2 1 14 3 10 45 1 2 53"/><circle r="131.25" pathLength="360" stroke-dasharray="0 45 4 104 1 2 2 59 9 16 1 1 3 11 48 54"/><circle r="133.75" pathLength="360" stroke-dasharray="0 45 4 98 4 2 2 1 2 57 1 3 1 4 1 8 1 8 1 15 47 55"/><circle r="136.25" pathLength="360" stroke-dasharray="0 47 1 98 5 2 4 47 3 25 1 25 48 54"/><circle r="138.75" pathLength="360" stroke-dasharray="0 147 3 4 1 49 3 3 1 47 46 1 1 54"/><circle r="141.25" pathLength="360" stroke-dasharray="0 204 1 1 1 1 2 49 45 56"/><circle r="143.75" pathLength="360" stroke-dasharray="0 121 1 1 1 81 4 49 46 1 1 54"/><circle r="146.25" pathLength="360" stroke-dasharray="0 120 6 77 1 1 2 1 1 1 1 46 16 1 31 55"/><circle r="148.75" pathLength="360" stroke-dasharray="0 120 7 78 6 46 1 1 14 1 3 1 27 55"/><circle r="151.25" pathLength="360" stroke-dasharray="0 120 7 23 1 1 1 32 2 17 5 48 48 55"/><circle r="153.75" pathLength="360" stroke-dasharray="0 122 7 22 2 32 3 18 1 1 2 47 16 3 1 1 27 55"/><circle r="156.25" pathLength="360" stroke-dasharray="0 2 1 120 7 21 3 32 1 16 1 2 4 49 9 1 2 5 1 2 27 54"/><circle r="158.75" pathLength="360" stroke-dasharray="0 2 4 121 4 25 1 47 1 2 1 1 1 50 10 1 1 10 23 55"/><circle r="161.25" pathLength="360" stroke-dasharray="0 3 3 121 3 75 3 53 1 3 1 13 7 1 18 55"/><circle r="163.75" pathLength="360" stroke-dasharray="0 127 3 148 5 6 1 1 15 54"/><circle r="166.25" pathLength="360" stroke-dasharray="0 128 2 113 1 14 1 13 2 1 9 7 1 2 9 2 1 54"/><circle r="168.75" pathLength="360" stroke-dasharray="0 127 3 112 2 10 1 3 1 11 16 8 9 57"/><circle r="171.25" pathLength="360" stroke-dasharray="0 128 1 124 4 2 3 5 3 1 14 1 1 6 1 1 7 58"/><circle r="173.75" pathLength="360" stroke-dasharray="0 109 1 1 2 16 1 113 2 6 11 3 21 8 5 1 1 1 1 57"/><circle r="176.25" pathLength="360" stroke-dasharray="0 129 1 112 3 4 1 2 36 7 1 1 1 62"/><circle r="178.75" pathLength="360" stroke-dasharray="0 243 1 5 37 2 1 8 1 3 1 58"/><circle r="181.25" pathLength="360" stroke-dasharray="0 242 3 3 39 2 3 36 4 28"/><circle r="183.75" pathLength="360" stroke-dasharray="0 84 4 152 5 3 20 1 3 3 12 6 1 34 5 27"/><circle r="186.25" pathLength="360" stroke-dasharray="0 76 3 5 3 154 5 3 25 1 10 2 1 1 2 2 1 38 1 27"/><circle r="188.75" pathLength="360" stroke-dasharray="0 75 4 5 3 154 5 3 33 4 3 4 1 66"/><circle r="191.25" pathLength="360" stroke-dasharray="0 75 3 163 5 5 30 1 1 2 1 2 2 1 1 2 1 65"/><circle r="193.75" pathLength="360" stroke-dasharray="0 73 5 160 1 1 6 6 26 2 1 1 1 2 1 2 2 1 3 2 1 63"/><circle r="196.25" pathLength="360" stroke-dasharray="0 73 3 5 1 158 6 7 24 1 1 1 1 1 6 1 6 1 2 1 2 1 1 57"/><circle r="198.75" pathLength="360" stroke-dasharray="0 78 4 154 1 1 8 7 1 1 20 3 1 1 1 1 18 1 3 56"/><circle r="201.25" pathLength="360" stroke-dasharray="0 78 4 36 1 117 6 15 17 1 2 1 1 1 23 57"/><circle r="203.75" pathLength="360" stroke-dasharray="0 117 3 122 1 14 2 1 6 1 7 1 30 55"/><circle r="206.25" pathLength="360" stroke-dasharray="0 116 4 140 12 2 31 55"/><circle r="208.75" pathLength="360" stroke-dasharray="0 117 1 139 1 3 12 1 31 55"/><circle r="211.25" pathLength="360" stroke-dasharray="0 261 44 55"/><circle r="213.75" pathLength="360" stroke-dasharray="0 261 10 1 34 54"/><circle r="216.25" pathLength="360" stroke-dasharray="0 77 1 1 1 99 1 84 6 3 32 7 1 47"/><circle r="218.75" pathLength="360" stroke-dasharray="0 78 2 98 4 81 8 1 1 2 30 7 2 46"/><circle r="221.25" pathLength="360" stroke-dasharray="0 178 4 82 7 1 1 5 1 1 25 6 3 46"/><circle r="223.75" pathLength="360" stroke-dasharray="0 178 4 82 8 6 2 1 23 1 1 6 2 46"/><circle r="226.25" pathLength="360" stroke-dasharray="0 264 8 4 1 4 23 8 2 46"/><circle r="228.75" pathLength="360" stroke-dasharray="0 266 13 5 19 1 1 55"/><circle r="231.25" pathLength="360" stroke-dasharray="0 267 7 2 2 3 1 3 19 56"/><circle r="233.75" pathLength="360" stroke-dasharray="0 269 2 1 1 8 1 2 20 56"/><circle r="238.75" pathLength="360" stroke-dasharray="0 286 18 44 3 9"/><circle r="241.25" pathLength="360" stroke-dasharray="0 287 17 45 4 7"/><circle r="246.25" pathLength="360" stroke-dasharray="0 0 1 16 2 7 1 28 1 222 1 8 17 9 1 2 1 33 4 4 2 0"/><circle r="248.75" pathLength="360" stroke-dasharray="0 0 1 16 2 6 1 251 2 2 1 5 18 7 5 34 2 5 2 0"/><circle r="251.25" pathLength="360" stroke-dasharray="0 0 1 24 1 1 1 87 2 164 1 5 18 8 3 41 3 0"/><circle r="253.75" pathLength="360" stroke-dasharray="0 25 1 1 1 86 3 171 17 8 2 43 2 0"/><circle r="256.25" pathLength="360" stroke-dasharray="0 30 3 73 1 9 1 170 18 1 1 53"/><circle r="261.25" pathLength="360" stroke-dasharray="0 30 1 259 16 33 1 20"/><circle r="263.75" pathLength="360" stroke-dasharray="0 290 18 30 3 19"/><circle r="268.75" pathLength="360" stroke-dasharray="0 290 17 1 1 29 3 19"/><circle r="271.25" pathLength="360" stroke-dasharray="0 291 19 28 3 19"/><circle r="273.75" pathLength="360" stroke-dasharray="0 291 19 28 1 21"/><circle r="276.25" pathLength="360" stroke-dasharray="0 292 16 52"/><circle r="281.25" pathLength="360" stroke-dasharray="0 17 1 266 1 8 13 2 1 51"/><circle r="283.75" pathLength="360" stroke-dasharray="0 17 1 266 1 7 14 2 2 50"/><circle r="286.25" pathLength="360" stroke-dasharray="0 284 1 8 1 2 9 1 4 50"/><circle r="288.75" pathLength="360" stroke-dasharray="0 284 2 9 1 1 14 49"/><circle r="291.25" pathLength="360" stroke-dasharray="0 285 1 12 7 1 4 50"/><circle r="293.75" pathLength="360" stroke-dasharray="0 298 14 26 3 19"/><circle r="296.25" pathLength="360" stroke-dasharray="0 279 1 7 1 11 1 1 9 1 1 26 4 18"/><circle r="298.75" pathLength="360" stroke-dasharray="0 278 3 8 1 10 12 26 3 19"/><circle r="301.25" pathLength="360" stroke-dasharray="0 278 1 1 1 20 1 2 8 48"/><circle r="303.75" pathLength="360" stroke-dasharray="0 197 1 106 7 49"/><circle r="306.25" pathLength="360" stroke-dasharray="0 304 6 50"/><circle r="308.75" pathLength="360" stroke-dasharray="0 304 5 51"/><circle r="311.25" pathLength="360" stroke-dasharray="0 304 5 51"/><circle r="313.75" pathLength="360" stroke-dasharray="0 305 4 51"/><circle r="316.25" pathLength="360" stroke-dasharray="0 305 1 1 2 51"/><circle r="318.75" pathLength="360" stroke-dasharray="0 306 2 19 2 31"/><circle r="321.25" pathLength="360" stroke-dasharray="0 298 1 2 1 4 1 19 4 30"/><circle r="326.25" pathLength="360" stroke-dasharray="0 299 6 1 2 19 2 31"/><circle r="328.75" pathLength="360" stroke-dasharray="0 300 1 1 1 1 1 55"/><circle r="341.25" pathLength="360" stroke-dasharray="0 31 2 293 1 33"/><circle r="343.75" pathLength="360" stroke-dasharray="0 31 2 291 1 35"/><circle r="378.75" pathLength="360" stroke-dasharray="0 19 1 219 2 119"/><circle r="381.25" pathLength="360" stroke-dasharray="0 19 3 214 1 2 4 117"/><circle r="383.75" pathLength="360" stroke-dasharray="0 19 3 190 2 22 1 1 5 117"/><circle r="386.25" pathLength="360" stroke-dasharray="0 20 2 187 1 1 3 20 8 118"/><circle r="388.75" pathLength="360" stroke-dasharray="0 18 3 188 6 20 6 119"/><circle r="391.25" pathLength="360" stroke-dasharray="0 19 2 188 5 18 6 1 2 119"/><circle r="393.75" pathLength="360" stroke-dasharray="0 18 2 189 5 18 8 120"/><circle r="396.25" pathLength="360" stroke-dasharray="0 18 1 190 5 15 1 1 6 123"/><circle r="398.75" pathLength="360" stroke-dasharray="0 208 1 2 1 15 1 3 6 123"/><circle r="403.75" pathLength="360" stroke-dasharray="0 227 7 1 1 124"/><circle r="406.25" pathLength="360" stroke-dasharray="0 227 4 1 1 127"/><circle r="408.75" pathLength="360" stroke-dasharray="0 211 2 15 1 1 1 129"/><circle r="411.25" pathLength="360" stroke-dasharray="0 227 2 131"/><circle r="413.75" pathLength="360" stroke-dasharray="0 211 1 133 1 14"/><circle r="416.25" pathLength="360" stroke-dasharray="0 197 1 13 2 13 2 117 2 13"/><circle r="418.75" pathLength="360" stroke-dasharray="0 197 1 11 1 1 2 132 1 14"/><circle r="421.25" pathLength="360" stroke-dasharray="0 210 1 1 1 132 1 14"/><circle r="423.75" pathLength="360" stroke-dasharray="0 209 5 12 2 117 2 13"/><circle r="426.25" pathLength="360" stroke-dasharray="0 11 1 197 5 12 1 118 2 13"/><circle r="428.75" pathLength="360" stroke-dasharray="0 11 1 197 5 131 1 14"/><circle r="431.25" pathLength="360" stroke-dasharray="0 11 1 196 5 131 2 14"/><circle r="433.75" pathLength="360" stroke-dasharray="0 11 2 195 4 133 1 14"/><circle r="436.25" pathLength="360" stroke-dasharray="0 11 2 195 4 5 1 128 1 13"/><circle r="438.75" pathLength="360" stroke-dasharray="0 11 2 186 2 2 1 4 4 5 1 142"/><circle r="441.25" pathLength="360" stroke-dasharray="0 11 2 186 2 3 1 3 3 5 3 127 1 13"/><circle r="443.75" pathLength="360" stroke-dasharray="0 11 1 187 1 5 6 5 3 128 1 12"/><circle r="446.25" pathLength="360" stroke-dasharray="0 11 2 191 7 5 3 141"/><circle r="448.75" pathLength="360" stroke-dasharray="0 11 2 191 7 6 1 127 1 14"/><circle r="451.25" pathLength="360" stroke-dasharray="0 12 1 191 5 1 1 6 2 128 1 12"/><circle r="453.75" pathLength="360" stroke-dasharray="0 170 1 1 1 31 6 6 2 127 3 12"/><circle r="456.25" pathLength="360" stroke-dasharray="0 169 2 32 6 1 1 5 1 1 1 126 3 12"/><circle r="458.75" pathLength="360" stroke-dasharray="0 169 2 1 3 28 6 1 1 134 3 12"/><circle r="461.25" pathLength="360" stroke-dasharray="0 169 5 26 1 2 8 134 3 12"/><circle r="466.25" pathLength="360" stroke-dasharray="0 168 6 26 1 1 9 149"/><circle r="468.75" pathLength="360" stroke-dasharray="0 169 4 27 12 148"/><circle r="471.25" pathLength="360" stroke-dasharray="0 168 5 26 13 136 1 11"/><circle r="473.75" pathLength="360" stroke-dasharray="0 168 3 28 3 1 8 1 1 133 3 11"/><circle r="476.25" pathLength="360" stroke-dasharray="0 168 1 31 1 2 10 147"/><circle r="478.75" pathLength="360" stroke-dasharray="0 33 1 169 10 147"/><circle r="481.25" pathLength="360" stroke-dasharray="0 203 10 147"/><circle r="483.75" pathLength="360" stroke-dasharray="0 33 1 169 10 147"/><circle r="486.25" pathLength="360" stroke-dasharray="0 203 3 1 6 147"/><circle r="488.75" pathLength="360" stroke-dasharray="0 204 10 146"/><circle r="491.25" pathLength="360" stroke-dasharray="0 204 10 146"/><circle r="493.75" pathLength="360" stroke-dasharray="0 205 9 146"/><circle r="496.25" pathLength="360" stroke-dasharray="0 206 9 145"/><circle r="498.75" pathLength="360" stroke-dasharray="0 39 1 162 1 3 9 145"/><circle r="501.25" pathLength="360" stroke-dasharray="0 38 3 161 1 3 2 1 6 145"/><circle r="503.75" pathLength="360" stroke-dasharray="0 38 3 161 2 2 8 146"/><circle r="506.25" pathLength="360" stroke-dasharray="0 38 4 164 3 1 5 2 1 142"/><circle r="508.75" pathLength="360" stroke-dasharray="0 39 2 165 9 1 1 143"/><circle r="511.25" pathLength="360" stroke-dasharray="0 36 1 170 3 1 6 143"/><circle r="513.75" pathLength="360" stroke-dasharray="0 36 2 169 3 1 6 143"/><circle r="516.25" pathLength="360" stroke-dasharray="0 36 1 169 4 2 5 143"/><circle r="518.75" pathLength="360" stroke-dasharray="0 207 2 3 1 2 2 143"/><circle r="523.75" pathLength="360" stroke-dasharray="0 38 1 168 2 151"/><circle r="528.75" pathLength="360" stroke-dasharray="0 208 1 151"/><circle r="543.75" pathLength="360" stroke-dasharray="0 40 3 317"/></g>
<g stroke="#4C7CB4"><circle r="8.75" pathLength="360" stroke-dasharray="0 34 2 324"/><circle r="11.25" pathLength="360" stroke-dasharray="0 26 16 318"/><circle r="13.75" pathLength="360" stroke-dasharray="0 10 35 2 12 34 11 40 3 213"/><circle r="18.75" pathLength="360" stroke-dasharray="0 7 48 18 3 74 6 204"/><circle r="21.25" pathLength="360" stroke-dasharray="0 13 42 2 6 7 5 31 8 7 2 17 3 9 1 6 8 193"/><circle r="23.75" pathLength="360" stroke-dasharray="0 10 50 17 2 13 6 22 11 9 3 19 6 192"/><circle r="26.25" pathLength="360" stroke-dasharray="0 9 46 19 4 19 5 34 1 20 6 197"/><circle r="28.75" pathLength="360" stroke-dasharray="0 10 18 4 7 6 14 4 2 21 11 3 2 23 2 4 23 206"/><circle r="31.25" pathLength="360" stroke-dasharray="0 9 47 6 3 51 5 4 2 5 24 4 1 199"/><circle r="33.75" pathLength="360" stroke-dasharray="0 11 2 4 15 2 23 2 5 19 4 4 5 18 9 1 33 1 5 9 4 22 1 96 4 1 8 52"/><circle r="36.25" pathLength="360" stroke-dasharray="0 8 2 2 9 3 9 1 22 27 2 2 4 17 4 5 39 3 5 12 9 4 4 5 8 154"/><circle r="38.75" pathLength="360" stroke-dasharray="0 7 52 36 4 16 42 4 2 2 4 4 7 8 4 168"/><circle r="41.25" pathLength="360" stroke-dasharray="0 7 50 23 7 11 4 7 45 19 4 34 2 77 7 17 7 39"/><circle r="43.75" pathLength="360" stroke-dasharray="0 10 52 15 7 21 50 32 4 10 8 3 1 147"/><circle r="46.25" pathLength="360" stroke-dasharray="0 9 52 2 1 8 6 6 4 6 3 7 7 3 32 4 4 3 7 9 4 3 7 17 7 149"/><circle r="48.75" pathLength="360" stroke-dasharray="0 6 60 6 1 15 3 2 1 3 7 2 4 6 24 1 4 7 3 16 3 28 1 96 7 2 3 1 8 2 3 2 7 26"/><circle r="51.25" pathLength="360" stroke-dasharray="0 8 65 12 20 2 33 1 5 5 2 39 3 3 3 1 2 156"/><circle r="53.75" pathLength="360" stroke-dasharray="0 8 74 3 9 4 1 3 4 5 34 6 1 37 13 1 5 152"/><circle r="56.25" pathLength="360" stroke-dasharray="0 8 69 3 3 2 3 3 2 6 2 3 43 39 17 2 3 34 3 39 4 17 4 1 7 43"/><circle r="58.75" pathLength="360" stroke-dasharray="0 10 73 8 2 10 41 41 19 2 1 153"/><circle r="61.25" pathLength="360" stroke-dasharray="0 5 2 2 3 2 74 16 37 9 2 33 18 2 3 33 3 31 4 13 6 1 5 7 7 42"/><circle r="63.75" pathLength="360" stroke-dasharray="0 9 7 3 10 3 52 2 2 4 8 2 1 2 15 2 7 1 8 13 5 24 3 2 22 37 1 10 3 13 6 2 7 1 4 1 4 17 9 1 3 34"/><circle r="66.25" pathLength="360" stroke-dasharray="0 9 77 5 9 2 22 1 4 1 8 17 1 29 24 8 2 25 1 115"/><circle r="68.75" pathLength="360" stroke-dasharray="0 8 3 2 9 2 5 2 1 3 49 2 2 3 7 3 1 4 18 1 6 3 3 48 28 147"/><circle r="71.25" pathLength="360" stroke-dasharray="0 13 13 2 2 14 3 5 1 2 25 2 2 2 2 5 6 2 26 5 3 1 2 7 2 1 4 30 20 1 8 1 1 29 1 117"/><circle r="73.75" pathLength="360" stroke-dasharray="0 14 2 4 3 38 2 3 6 2 5 14 2 2 23 6 7 15 5 27 22 1 8 149"/><circle r="76.25" pathLength="360" stroke-dasharray="0 64 9 2 2 3 1 2 2 9 28 2 1 6 4 11 1 2 1 6 2 20 36 31 2 5 1 107"/><circle r="78.75" pathLength="360" stroke-dasharray="0 69 4 2 2 2 2 4 4 3 4 2 22 1 4 6 1 2 1 11 2 11 2 17 10 2 14 2 11 2 3 22 2 114"/><circle r="81.25" pathLength="360" stroke-dasharray="0 69 8 17 2 2 29 8 5 16 2 1 1 17 16 1 7 2 13 2 2 27 2 111"/><circle r="83.75" pathLength="360" stroke-dasharray="0 67 9 7 2 13 12 2 10 3 4 2 1 2 6 12 2 5 1 18 13 2 1 2 2 2 21 2 1 22 2 1 2 4 2 103"/><circle r="86.25" pathLength="360" stroke-dasharray="0 67 10 22 12 1 5 2 7 2 4 2 1 1 6 5 1 8 1 20 14 2 1 4 17 3 4 1 1 24 6 106"/><circle r="88.75" pathLength="360" stroke-dasharray="0 65 3 1 8 6 1 17 17 4 2 2 7 3 2 35 16 1 2 9 2 1 12 31 2 1 7 1 1 2 2 97"/><circle r="91.25" pathLength="360" stroke-dasharray="0 69 1 4 1 7 2 16 4 1 7 3 3 3 1 3 2 2 5 5 2 10 4 22 10 17 9 4 5 22 17 99"/><circle r="93.75" pathLength="360" stroke-dasharray="0 72 7 29 5 5 1 2 1 7 1 49 6 18 13 2 2 1 1 26 13 1 1 2 1 94"/><circle r="96.25" pathLength="360" stroke-dasharray="0 69 9 28 2 12 1 2 2 58 2 19 15 32 9 100"/><circle r="98.75" pathLength="360" stroke-dasharray="0 63 1 3 2 1 7 47 2 80 1 2 1 2 3 2 2 1 2 32 2 1 2 101"/><circle r="101.25" pathLength="360" stroke-dasharray="0 63 1 2 1 1 3 138 2 3 1 1 1 4 1 67 2 4 1 1 2 1 4 56"/><circle r="103.75" pathLength="360" stroke-dasharray="0 68 2 138 1 6 2 34 1 26 2 15 5 60"/><circle r="106.25" pathLength="360" stroke-dasharray="0 214 2 55 1 3 2 2 2 12 1 1 8 19 6 32"/><circle r="108.75" pathLength="360" stroke-dasharray="0 150 2 58 2 1 1 49 1 10 2 3 2 7 1 3 13 14 1 1 7 32"/><circle r="111.25" pathLength="360" stroke-dasharray="0 84 1 132 1 44 6 2 10 7 17 17 1 38"/><circle r="113.75" pathLength="360" stroke-dasharray="0 84 2 177 19 1 3 1 3 1 13 56"/><circle r="116.25" pathLength="360" stroke-dasharray="0 80 9 3 1 36 2 90 1 39 20 6 17 35 1 20"/><circle r="118.75" pathLength="360" stroke-dasharray="0 79 13 35 4 14 3 73 4 36 20 1 22 35 3 18"/><circle r="121.25" pathLength="360" stroke-dasharray="0 79 7 1 2 37 7 13 1 78 1 34 45 55"/><circle r="123.75" pathLength="360" stroke-dasharray="0 47 1 31 6 3 1 37 6 89 3 2 1 1 1 31 43 57"/><circle r="126.25" pathLength="360" stroke-dasharray="0 46 3 32 2 44 4 89 7 33 44 56"/><circle r="128.75" pathLength="360" stroke-dasharray="0 45 4 106 2 61 9 19 2 11 45 56"/><circle r="131.25" pathLength="360" stroke-dasharray="0 45 4 107 1 60 6 1 1 19 1 13 1 2 44 55"/><circle r="133.75" pathLength="360" stroke-dasharray="0 45 4 100 2 3 1 1 1 62 1 40 45 55"/><circle r="136.25" pathLength="360" stroke-dasharray="0 147 4 2 4 102 43 3 1 54"/><circle r="138.75" pathLength="360" stroke-dasharray="0 148 2 4 1 51 1 51 44 1 1 1 1 54"/><circle r="141.25" pathLength="360" stroke-dasharray="0 204 1 1 1 2 1 49 45 56"/><circle r="143.75" pathLength="360" stroke-dasharray="0 123 1 82 1 52 45 56"/><circle r="146.25" pathLength="360" stroke-dasharray="0 120 1 1 2 81 2 1 1 48 16 1 30 56"/><circle r="148.75" pathLength="360" stroke-dasharray="0 121 4 80 3 51 12 1 1 1 3 1 27 55"/><circle r="151.25" pathLength="360" stroke-dasharray="0 121 6 23 1 34 2 19 2 51 14 1 10 1 19 56"/><circle r="153.75" pathLength="360" stroke-dasharray="0 122 7 22 2 32 3 18 1 52 14 6 1 1 23 56"/><circle r="156.25" pathLength="360" stroke-dasharray="0 2 1 122 4 22 1 1 1 53 3 49 8 2 2 5 1 5 3 1 1 1 17 55"/><circle r="158.75" pathLength="360" stroke-dasharray="0 2 4 121 3 79 1 50 1 2 1 20 2 2 17 55"/><circle r="161.25" pathLength="360" stroke-dasharray="0 3 3 122 2 77 1 72 1 1 1 5 15 1 1 55"/><circle r="163.75" pathLength="360" stroke-dasharray="0 128 2 149 1 1 1 10 12 1 1 54"/><circle r="166.25" pathLength="360" stroke-dasharray="0 128 2 146 8 10 9 57"/><circle r="168.75" pathLength="360" stroke-dasharray="0 129 1 128 1 12 13 10 8 58"/><circle r="171.25" pathLength="360" stroke-dasharray="0 253 3 3 2 6 3 1 13 11 7 58"/><circle r="173.75" pathLength="360" stroke-dasharray="0 109 1 1 1 17 1 113 2 6 11 3 4 1 13 11 2 1 2 1 1 59"/><circle r="176.25" pathLength="360" stroke-dasharray="0 244 1 4 1 2 12 1 20 12 1 62"/><circle r="178.75" pathLength="360" stroke-dasharray="0 250 14 1 20 75"/><circle r="181.25" pathLength="360" stroke-dasharray="0 243 2 4 24 1 13 41 4 28"/><circle r="183.75" pathLength="360" stroke-dasharray="0 84 3 154 4 5 14 2 1 2 2 4 12 6 1 34 5 27"/><circle r="186.25" pathLength="360" stroke-dasharray="0 76 3 5 3 155 4 4 18 1 2 4 4 1 5 47 1 27"/><circle r="188.75" pathLength="360" stroke-dasharray="0 75 4 5 3 155 4 3 1 2 24 1 1 1 3 4 3 71"/><circle r="191.25" pathLength="360" stroke-dasharray="0 75 3 163 5 5 19 1 5 1 2 3 1 5 1 2 1 68"/><circle r="193.75" pathLength="360" stroke-dasharray="0 73 5 162 6 6 24 1 1 2 1 4 1 3 1 1 3 2 1 63"/><circle r="196.25" pathLength="360" stroke-dasharray="0 74 1 6 1 158 6 8 21 8 5 1 6 1 2 2 1 59"/><circle r="198.75" pathLength="360" stroke-dasharray="0 78 4 156 8 7 1 1 13 1 1 2 3 8 17 1 1 58"/><circle r="201.25" pathLength="360" stroke-dasharray="0 78 4 36 1 118 2 1 1 16 1 1 7 1 3 1 1 3 2 1 1 2 22 57"/><circle r="203.75" pathLength="360" stroke-dasharray="0 117 3 122 1 14 2 2 5 1 5 5 28 55"/><circle r="206.25" pathLength="360" stroke-dasharray="0 116 4 140 1 1 10 2 31 55"/><circle r="208.75" pathLength="360" stroke-dasharray="0 117 1 143 11 3 30 55"/><circle r="211.25" pathLength="360" stroke-dasharray="0 261 8 1 2 3 30 55"/><circle r="213.75" pathLength="360" stroke-dasharray="0 263 8 4 29 1 1 54"/><circle r="216.25" pathLength="360" stroke-dasharray="0 79 1 184 5 5 1 1 2 1 25 56"/><circle r="218.75" pathLength="360" stroke-dasharray="0 78 2 98 4 81 8 1 1 2 3 1 1 2 22 8 1 47"/><circle r="221.25" pathLength="360" stroke-dasharray="0 178 4 82 7 1 1 7 2 1 22 6 3 46"/><circle r="223.75" pathLength="360" stroke-dasharray="0 178 4 83 6 10 23 1 1 7 1 46"/><circle r="226.25" pathLength="360" stroke-dasharray="0 265 6 10 23 8 1 47"/><circle r="228.75" pathLength="360" stroke-dasharray="0 266 5 3 1 2 2 5 19 57"/><circle r="231.25" pathLength="360" stroke-dasharray="0 267 6 4 1 3 1 3 19 56"/><circle r="233.75" pathLength="360" stroke-dasharray="0 284 20 56"/><circle r="236.25" pathLength="360" stroke-dasharray="0 286 17 45 3 9"/><circle r="243.75" pathLength="360" stroke-dasharray="0 17 1 269 17 46 4 6"/><circle r="246.25" pathLength="360" stroke-dasharray="0 0 1 16 2 268 17 9 1 36 4 5 1 0"/><circle r="248.75" pathLength="360" stroke-dasharray="0 0 1 16 2 262 1 6 16 9 4 34 1 6 2 0"/><circle r="251.25" pathLength="360" stroke-dasharray="0 0 1 24 1 1 1 87 1 165 1 6 16 9 3 41 3 0"/><circle r="256.25" pathLength="360" stroke-dasharray="0 30 3 73 1 9 1 171 17 55"/><circle r="258.75" pathLength="360" stroke-dasharray="0 30 3 73 1 182 17 54"/><circle r="261.25" pathLength="360" stroke-dasharray="0 290 16 33 1 20"/><circle r="263.75" pathLength="360" stroke-dasharray="0 290 16 32 3 19"/><circle r="266.25" pathLength="360" stroke-dasharray="0 291 16 31 3 19"/><circle r="268.75" pathLength="360" stroke-dasharray="0 290 2 1 14 31 3 19"/><circle r="271.25" pathLength="360" stroke-dasharray="0 291 17 1 1 28 3 19"/><circle r="273.75" pathLength="360" stroke-dasharray="0 292 15 1 1 29 1 21"/><circle r="278.75" pathLength="360" stroke-dasharray="0 292 15 1 1 51"/><circle r="283.75" pathLength="360" stroke-dasharray="0 17 1 266 1 9 12 3 1 50"/><circle r="286.25" pathLength="360" stroke-dasharray="0 284 1 11 9 2 3 50"/><circle r="293.75" pathLength="360" stroke-dasharray="0 298 6 1 5 28 3 19"/><circle r="296.25" pathLength="360" stroke-dasharray="0 299 1 1 3 1 5 1 1 26 4 18"/><circle r="298.75" pathLength="360" stroke-dasharray="0 278 3 20 10 27 3 19"/><circle r="301.25" pathLength="360" stroke-dasharray="0 280 1 23 7 49"/><circle r="303.75" pathLength="360" stroke-dasharray="0 197 1 106 5 1 1 49"/><circle r="306.25" pathLength="360" stroke-dasharray="0 304 5 51"/><circle r="308.75" pathLength="360" stroke-dasharray="0 305 4 51"/><circle r="311.25" pathLength="360" stroke-dasharray="0 304 3 1 1 51"/><circle r="313.75" pathLength="360" stroke-dasharray="0 305 2 1 1 51"/><circle r="316.25" pathLength="360" stroke-dasharray="0 305 1 2 1 51"/><circle r="318.75" pathLength="360" stroke-dasharray="0 306 1 20 2 31"/><circle r="326.25" pathLength="360" stroke-dasharray="0 299 6 1 1 20 2 31"/><circle r="328.75" pathLength="360" stroke-dasharray="0 302 1 1 1 55"/><circle r="348.75" pathLength="360" stroke-dasharray="0 327 2 31"/><circle r="351.25" pathLength="360" stroke-dasharray="0 326 4 30"/><circle r="376.25" pathLength="360" stroke-dasharray="0 19 1 340"/><circle r="383.75" pathLength="360" stroke-dasharray="0 20 2 190 2 24 4 118"/><circle r="386.25" pathLength="360" stroke-dasharray="0 20 2 187 1 1 3 21 1 1 5 118"/><circle r="388.75" pathLength="360" stroke-dasharray="0 20 1 188 6 20 1 1 4 119"/><circle r="393.75" pathLength="360" stroke-dasharray="0 209 4 19 6 122"/><circle r="396.25" pathLength="360" stroke-dasharray="0 18 1 191 3 18 6 123"/><circle r="398.75" pathLength="360" stroke-dasharray="0 211 1 19 6 123"/><circle r="401.25" pathLength="360" stroke-dasharray="0 211 1 18 4 1 1 124"/><circle r="403.75" pathLength="360" stroke-dasharray="0 228 6 1 1 124"/><circle r="406.25" pathLength="360" stroke-dasharray="0 228 3 1 1 127"/><circle r="408.75" pathLength="360" stroke-dasharray="0 228 1 1 1 129"/><circle r="418.75" pathLength="360" stroke-dasharray="0 197 1 14 1 132 1 14"/><circle r="421.25" pathLength="360" stroke-dasharray="0 212 1 132 1 14"/><circle r="423.75" pathLength="360" stroke-dasharray="0 209 1 1 2 14 1 117 1 14"/><circle r="426.25" pathLength="360" stroke-dasharray="0 209 2 1 1 132 1 14"/><circle r="428.75" pathLength="360" stroke-dasharray="0 210 2 133 1 14"/><circle r="433.75" pathLength="360" stroke-dasharray="0 11 2 195 3 149"/><circle r="436.25" pathLength="360" stroke-dasharray="0 11 2 195 3 149"/><circle r="438.75" pathLength="360" stroke-dasharray="0 11 2 187 1 7 3 6 1 142"/><circle r="441.25" pathLength="360" stroke-dasharray="0 11 1 187 2 7 2 6 3 141"/><circle r="443.75" pathLength="360" stroke-dasharray="0 205 6 5 3 141"/><circle r="446.25" pathLength="360" stroke-dasharray="0 205 6 5 3 141"/><circle r="448.75" pathLength="360" stroke-dasharray="0 204 7 6 1 142"/><circle r="451.25" pathLength="360" stroke-dasharray="0 204 5 1 1 6 1 129 1 12"/><circle r="453.75" pathLength="360" stroke-dasharray="0 170 1 33 5 137 2 12"/><circle r="458.75" pathLength="360" stroke-dasharray="0 172 2 29 6 136 3 12"/><circle r="461.25" pathLength="360" stroke-dasharray="0 170 3 30 7 135 3 12"/><circle r="463.75" pathLength="360" stroke-dasharray="0 169 5 26 1 2 7 150"/><circle r="466.25" pathLength="360" stroke-dasharray="0 169 4 27 1 1 7 151"/><circle r="468.75" pathLength="360" stroke-dasharray="0 169 2 31 10 148"/><circle r="471.25" pathLength="360" stroke-dasharray="0 169 2 28 2 1 9 149"/><circle r="473.75" pathLength="360" stroke-dasharray="0 170 1 28 1 1 1 1 8 136 2 11"/><circle r="478.75" pathLength="360" stroke-dasharray="0 33 1 169 2 1 6 148"/><circle r="483.75" pathLength="360" stroke-dasharray="0 204 1 2 6 147"/><circle r="486.25" pathLength="360" stroke-dasharray="0 204 1 2 6 147"/><circle r="488.75" pathLength="360" stroke-dasharray="0 204 2 1 6 147"/><circle r="491.25" pathLength="360" stroke-dasharray="0 204 2 1 7 146"/><circle r="493.75" pathLength="360" stroke-dasharray="0 207 7 146"/><circle r="496.25" pathLength="360" stroke-dasharray="0 206 7 1 1 145"/><circle r="501.25" pathLength="360" stroke-dasharray="0 39 2 161 1 3 2 1 6 145"/><circle r="503.75" pathLength="360" stroke-dasharray="0 38 3 161 1 4 1 1 5 146"/><circle r="506.25" pathLength="360" stroke-dasharray="0 39 1 167 1 2 5 2 1 142"/><circle r="508.75" pathLength="360" stroke-dasharray="0 39 1 168 7 145"/><circle r="511.25" pathLength="360" stroke-dasharray="0 207 3 1 6 143"/><circle r="513.75" pathLength="360" stroke-dasharray="0 207 3 1 6 143"/><circle r="516.25" pathLength="360" stroke-dasharray="0 207 3 2 3 145"/><circle r="518.75" pathLength="360" stroke-dasharray="0 208 1 3 1 2 1 144"/><circle r="521.25" pathLength="360" stroke-dasharray="0 207 2 151"/><circle r="523.75" pathLength="360" stroke-dasharray="0 207 1 152"/><circle r="526.25" pathLength="360" stroke-dasharray="0 207 2 151"/><circle r="546.25" pathLength="360" stroke-dasharray="0 41 1 318"/><circle r="548.75" pathLength="360" stroke-dasharray="0 40 2 318"/></g>
<g stroke="#5A9CC5"><circle r="13.75" pathLength="360" stroke-dasharray="0 21 24 48 11 40 3 213"/><circle r="16.25" pathLength="360" stroke-dasharray="0 18 46 78 5 213"/><circle r="18.75" pathLength="360" stroke-dasharray="0 7 48 305"/><circle r="21.25" pathLength="360" stroke-dasharray="0 13 42 2 6 96 8 193"/><circle r="23.75" pathLength="360" stroke-dasharray="0 12 48 65 6 31 6 192"/><circle r="26.25" pathLength="360" stroke-dasharray="0 11 18 1 25 81 1 223"/><circle r="28.75" pathLength="360" stroke-dasharray="0 10 18 4 7 7 13 4 2 60 2 4 23 206"/><circle r="31.25" pathLength="360" stroke-dasharray="0 9 34 19 3 51 5 4 2 5 23 205"/><circle r="33.75" pathLength="360" stroke-dasharray="0 11 2 4 15 2 14 35 4 27 5 5 33 4 2 35 1 96 4 61"/><circle r="36.25" pathLength="360" stroke-dasharray="0 12 4 8 9 1 22 27 2 2 4 26 39 3 5 16 5 4 4 5 8 154"/><circle r="38.75" pathLength="360" stroke-dasharray="0 7 2 2 43 41 4 20 38 4 2 11 6 8 4 168"/><circle r="41.25" pathLength="360" stroke-dasharray="0 7 15 4 31 23 4 25 8 2 14 2 19 20 3 34 2 77 7 17 7 39"/><circle r="43.75" pathLength="360" stroke-dasharray="0 10 52 15 4 24 7 7 36 32 4 14 4 3 1 147"/><circle r="46.25" pathLength="360" stroke-dasharray="0 13 48 23 4 6 3 7 7 3 3 1 28 11 4 19 4 176"/><circle r="48.75" pathLength="360" stroke-dasharray="0 6 56 26 3 6 6 3 4 6 24 32 2 28 1 96 7 2 3 49"/><circle r="51.25" pathLength="360" stroke-dasharray="0 8 56 1 2 18 3 3 13 3 2 3 28 1 5 46 3 3 3 1 2 156"/><circle r="53.75" pathLength="360" stroke-dasharray="0 8 69 3 2 6 6 4 1 3 4 5 34 46 10 2 5 152"/><circle r="56.25" pathLength="360" stroke-dasharray="0 8 69 3 3 8 2 11 3 3 32 44 2 3 11 3 3 152"/><circle r="58.75" pathLength="360" stroke-dasharray="0 10 68 2 3 20 14 1 26 41 16 5 1 153"/><circle r="61.25" pathLength="360" stroke-dasharray="0 5 2 2 3 2 64 3 5 18 4 3 7 1 11 1 10 46 16 38 3 48 6 1 5 56"/><circle r="63.75" pathLength="360" stroke-dasharray="0 9 7 3 7 2 1 3 52 8 8 2 1 2 15 2 7 3 1 2 1 19 1 29 19 70 2 3 7 1 4 22 9 1 3 34"/><circle r="66.25" pathLength="360" stroke-dasharray="0 11 2 1 13 1 2 1 2 3 50 5 9 2 22 1 4 3 6 17 1 29 19 2 3 151"/><circle r="68.75" pathLength="360" stroke-dasharray="0 8 3 4 7 4 3 9 42 11 2 4 1 8 18 1 6 3 3 48 22 1 2 2 1 147"/><circle r="71.25" pathLength="360" stroke-dasharray="0 13 10 5 2 15 2 5 1 2 25 2 2 2 2 7 2 6 24 5 3 13 4 30 20 1 5 1 2 1 1 29 1 117"/><circle r="73.75" pathLength="360" stroke-dasharray="0 20 3 38 2 3 6 2 5 14 2 2 23 6 7 15 3 29 22 1 8 149"/><circle r="76.25" pathLength="360" stroke-dasharray="0 64 9 7 1 2 2 9 2 2 10 2 12 2 1 9 1 14 1 6 2 20 26 2 1 2 5 31 2 5 1 107"/><circle r="78.75" pathLength="360" stroke-dasharray="0 69 3 3 2 2 2 4 4 5 2 2 22 1 4 9 1 43 10 4 6 2 2 4 11 3 2 22 2 114"/><circle r="81.25" pathLength="360" stroke-dasharray="0 69 6 23 22 6 1 8 5 16 2 1 1 17 16 1 5 4 13 2 1 141"/><circle r="83.75" pathLength="360" stroke-dasharray="0 67 1 1 7 22 12 2 8 7 2 5 6 19 1 18 13 2 1 2 2 2 2 2 10 1 6 139"/><circle r="86.25" pathLength="360" stroke-dasharray="0 68 9 26 5 4 5 4 2 11 1 1 3 38 7 1 2 6 1 6 15 3 4 28 4 106"/><circle r="88.75" pathLength="360" stroke-dasharray="0 65 1 1 1 1 8 24 12 2 3 4 2 2 2 1 4 46 8 17 12 31 2 2 5 104"/><circle r="91.25" pathLength="360" stroke-dasharray="0 69 1 4 1 25 4 3 5 3 3 12 4 19 2 22 8 19 9 4 4 23 6 1 4 1 5 99"/><circle r="93.75" pathLength="360" stroke-dasharray="0 72 7 29 5 5 1 60 1 3 2 18 2 2 6 5 2 28 13 1 1 97"/><circle r="96.25" pathLength="360" stroke-dasharray="0 69 9 28 2 12 1 2 2 79 2 2 3 1 5 1 1 32 9 100"/><circle r="98.75" pathLength="360" stroke-dasharray="0 67 2 1 7 137 1 5 2 33 1 1 1 102"/><circle r="101.25" pathLength="360" stroke-dasharray="0 68 3 143 1 6 1 73 1 4 2 58"/><circle r="103.75" pathLength="360" stroke-dasharray="0 68 2 145 1 62 2 15 1 1 3 60"/><circle r="106.25" pathLength="360" stroke-dasharray="0 214 2 59 2 2 2 14 8 19 3 1 1 33"/><circle r="108.75" pathLength="360" stroke-dasharray="0 274 2 3 2 13 11 14 1 1 7 32"/><circle r="111.25" pathLength="360" stroke-dasharray="0 264 2 1 1 2 8 9 2 1 14 56"/><circle r="113.75" pathLength="360" stroke-dasharray="0 85 1 177 1 2 14 4 2 1 3 1 12 57"/><circle r="116.25" pathLength="360" stroke-dasharray="0 80 9 3 1 36 1 131 20 6 1 1 15 35 1 20"/><circle r="118.75" pathLength="360" stroke-dasharray="0 79 3 2 8 35 4 90 2 38 20 1 5 2 14 36 3 18"/><circle r="121.25" pathLength="360" stroke-dasharray="0 79 6 2 2 37 7 92 1 35 34 1 8 56"/><circle r="123.75" pathLength="360" stroke-dasharray="0 79 6 41 6 89 1 1 1 4 1 31 43 57"/><circle r="126.25" pathLength="360" stroke-dasharray="0 46 3 32 2 44 4 90 6 33 44 56"/><circle r="128.75" pathLength="360" stroke-dasharray="0 45 4 169 9 33 42 1 1 56"/><circle r="131.25" pathLength="360" stroke-dasharray="0 45 4 107 1 60 4 1 1 38 44 55"/><circle r="133.75" pathLength="360" stroke-dasharray="0 45 4 100 2 3 1 1 1 103 41 2 2 55"/><circle r="136.25" pathLength="360" stroke-dasharray="0 147 1 1 1 4 3 102 39 1 3 58"/><circle r="138.75" pathLength="360" stroke-dasharray="0 148 2 108 1 1 39 1 2 1 1 1 1 54"/><circle r="141.25" pathLength="360" stroke-dasharray="0 206 1 52 45 56"/><circle r="143.75" pathLength="360" stroke-dasharray="0 206 1 52 36 2 2 1 4 56"/><circle r="146.25" pathLength="360" stroke-dasharray="0 122 2 81 2 51 15 1 25 1 2 58"/><circle r="148.75" pathLength="360" stroke-dasharray="0 122 2 81 1 53 10 3 1 1 1 1 1 2 25 56"/><circle r="151.25" pathLength="360" stroke-dasharray="0 121 5 59 2 19 2 51 9 1 2 5 2 2 3 2 10 1 7 57"/><circle r="153.75" pathLength="360" stroke-dasharray="0 122 6 57 2 73 8 1 1 12 22 56"/><circle r="156.25" pathLength="360" stroke-dasharray="0 2 1 122 4 22 1 55 2 54 2 1 1 2 1 12 2 4 15 1 1 55"/><circle r="158.75" pathLength="360" stroke-dasharray="0 2 4 121 3 155 1 3 15 56"/><circle r="161.25" pathLength="360" stroke-dasharray="0 3 3 122 1 161 13 1 1 55"/><circle r="163.75" pathLength="360" stroke-dasharray="0 128 2 149 1 1 1 10 10 58"/><circle r="166.25" pathLength="360" stroke-dasharray="0 128 2 148 6 10 8 58"/><circle r="168.75" pathLength="360" stroke-dasharray="0 129 1 141 2 1 10 10 4 1 3 58"/><circle r="171.25" pathLength="360" stroke-dasharray="0 255 1 15 13 11 2 2 1 1 1 58"/><circle r="173.75" pathLength="360" stroke-dasharray="0 109 1 142 1 3 3 1 1 4 4 2 12 14 2 61"/><circle r="176.25" pathLength="360" stroke-dasharray="0 252 11 2 3 2 13 1 1 75"/><circle r="178.75" pathLength="360" stroke-dasharray="0 251 13 2 4 1 2 1 1 1 9 75"/><circle r="181.25" pathLength="360" stroke-dasharray="0 243 2 6 13 2 1 1 5 2 9 44 4 28"/><circle r="183.75" pathLength="360" stroke-dasharray="0 85 2 156 2 6 13 6 1 4 1 1 7 45 4 27"/><circle r="186.25" pathLength="360" stroke-dasharray="0 76 2 6 3 156 2 7 12 6 1 4 1 4 2 1 1 48 1 27"/><circle r="188.75" pathLength="360" stroke-dasharray="0 75 4 6 2 155 4 6 12 1 4 1 2 1 1 3 1 1 3 78"/><circle r="191.25" pathLength="360" stroke-dasharray="0 75 3 163 5 7 16 2 5 1 1 13 1 68"/><circle r="193.75" pathLength="360" stroke-dasharray="0 73 5 162 6 6 1 2 17 1 3 15 1 1 1 66"/><circle r="196.25" pathLength="360" stroke-dasharray="0 74 1 6 1 158 6 9 14 1 5 8 1 2 2 2 2 1 2 65"/><circle r="198.75" pathLength="360" stroke-dasharray="0 78 4 157 6 10 6 1 5 5 3 8 12 1 1 1 2 1 1 58"/><circle r="201.25" pathLength="360" stroke-dasharray="0 78 3 37 1 138 1 2 3 1 1 2 3 1 1 11 12 2 4 1 1 57"/><circle r="203.75" pathLength="360" stroke-dasharray="0 117 3 137 1 4 3 2 3 7 2 1 1 2 21 56"/><circle r="206.25" pathLength="360" stroke-dasharray="0 116 4 144 7 4 4 1 25 55"/><circle r="208.75" pathLength="360" stroke-dasharray="0 264 2 2 3 4 5 1 24 55"/><circle r="211.25" pathLength="360" stroke-dasharray="0 262 5 1 1 2 1 3 5 1 24 55"/><circle r="216.25" pathLength="360" stroke-dasharray="0 79 1 184 5 10 25 56"/><circle r="218.75" pathLength="360" stroke-dasharray="0 78 2 98 3 83 6 6 2 4 22 8 1 47"/><circle r="221.25" pathLength="360" stroke-dasharray="0 178 4 83 6 12 22 55"/><circle r="223.75" pathLength="360" stroke-dasharray="0 178 4 83 6 10 1 1 21 9 1 46"/><circle r="226.25" pathLength="360" stroke-dasharray="0 265 6 13 20 8 1 47"/><circle r="228.75" pathLength="360" stroke-dasharray="0 266 2 1 2 13 19 57"/><circle r="231.25" pathLength="360" stroke-dasharray="0 267 4 14 18 57"/><circle r="233.75" pathLength="360" stroke-dasharray="0 284 1 1 16 1 1 56"/><circle r="236.25" pathLength="360" stroke-dasharray="0 286 16 46 3 9"/><circle r="238.75" pathLength="360" stroke-dasharray="0 286 17 45 3 9"/><circle r="241.25" pathLength="360" stroke-dasharray="0 287 16 46 4 7"/><circle r="243.75" pathLength="360" stroke-dasharray="0 287 16 47 4 6"/><circle r="246.25" pathLength="360" stroke-dasharray="0 0 1 16 2 268 17 46 4 5 1 0"/><circle r="248.75" pathLength="360" stroke-dasharray="0 0 1 16 2 269 16 9 2 36 1 6 2 0"/><circle r="251.25" pathLength="360" stroke-dasharray="0 0 1 26 1 261 15 10 1 42 3 0"/><circle r="253.75" pathLength="360" stroke-dasharray="0 288 17 9 1 43 2 0"/><circle r="256.25" pathLength="360" stroke-dasharray="0 30 3 73 1 181 17 55"/><circle r="258.75" pathLength="360" stroke-dasharray="0 30 3 256 17 54"/><circle r="263.75" pathLength="360" stroke-dasharray="0 290 1 1 14 32 3 19"/><circle r="266.25" pathLength="360" stroke-dasharray="0 291 1 1 14 31 3 19"/><circle r="268.75" pathLength="360" stroke-dasharray="0 293 14 31 3 19"/><circle r="271.25" pathLength="360" stroke-dasharray="0 292 15 2 1 28 3 19"/><circle r="273.75" pathLength="360" stroke-dasharray="0 292 14 2 1 29 1 21"/><circle r="276.25" pathLength="360" stroke-dasharray="0 292 15 53"/><circle r="278.75" pathLength="360" stroke-dasharray="0 292 15 53"/><circle r="281.25" pathLength="360" stroke-dasharray="0 293 13 54"/><circle r="283.75" pathLength="360" stroke-dasharray="0 17 1 276 2 1 9 3 1 50"/><circle r="286.25" pathLength="360" stroke-dasharray="0 297 8 3 2 50"/><circle r="288.75" pathLength="360" stroke-dasharray="0 284 1 12 8 1 5 49"/><circle r="291.25" pathLength="360" stroke-dasharray="0 298 7 1 4 50"/><circle r="293.75" pathLength="360" stroke-dasharray="0 299 5 1 5 28 3 19"/><circle r="296.25" pathLength="360" stroke-dasharray="0 299 1 1 3 1 5 28 4 18"/><circle r="298.75" pathLength="360" stroke-dasharray="0 278 3 21 2 1 6 27 3 19"/><circle r="301.25" pathLength="360" stroke-dasharray="0 280 1 23 2 1 3 50"/><circle r="303.75" pathLength="360" stroke-dasharray="0 304 5 51"/><circle r="306.25" pathLength="360" stroke-dasharray="0 305 4 51"/><circle r="308.75" pathLength="360" stroke-dasharray="0 305 2 1 1 51"/><circle r="311.25" pathLength="360" stroke-dasharray="0 305 2 53"/><circle r="313.75" pathLength="360" stroke-dasharray="0 305 1 54"/><circle r="321.25" pathLength="360" stroke-dasharray="0 326 4 30"/><circle r="323.75" pathLength="360" stroke-dasharray="0 299 4 23 4 30"/><circle r="326.25" pathLength="360" stroke-dasharray="0 299 5 24 1 31"/><circle r="328.75" pathLength="360" stroke-dasharray="0 302 1 57"/><circle r="348.75" pathLength="360" stroke-dasharray="0 327 1 32"/><circle r="356.25" pathLength="360" stroke-dasharray="0 327 2 31"/><circle r="366.25" pathLength="360" stroke-dasharray="0 357 2 1"/><circle r="381.25" pathLength="360" stroke-dasharray="0 20 2 338"/><circle r="386.25" pathLength="360" stroke-dasharray="0 21 1 187 1 1 3 21 1 1 2 1 2 118"/><circle r="388.75" pathLength="360" stroke-dasharray="0 209 6 20 1 1 2 1 1 119"/><circle r="391.25" pathLength="360" stroke-dasharray="0 209 5 20 4 1 2 119"/><circle r="393.75" pathLength="360" stroke-dasharray="0 209 2 1 1 19 1 1 4 122"/><circle r="396.25" pathLength="360" stroke-dasharray="0 210 1 1 1 18 4 1 1 123"/><circle r="401.25" pathLength="360" stroke-dasharray="0 232 2 1 1 124"/><circle r="403.75" pathLength="360" stroke-dasharray="0 228 1 3 2 126"/><circle r="408.75" pathLength="360" stroke-dasharray="0 228 1 131"/><circle r="418.75" pathLength="360" stroke-dasharray="0 212 1 147"/><circle r="421.25" pathLength="360" stroke-dasharray="0 212 1 147"/><circle r="423.75" pathLength="360" stroke-dasharray="0 212 1 147"/><circle r="426.25" pathLength="360" stroke-dasharray="0 212 1 147"/><circle r="431.25" pathLength="360" stroke-dasharray="0 11 1 196 1 1 1 149"/><circle r="436.25" pathLength="360" stroke-dasharray="0 11 2 195 2 150"/><circle r="438.75" pathLength="360" stroke-dasharray="0 11 2 195 2 150"/><circle r="441.25" pathLength="360" stroke-dasharray="0 11 1 196 2 6 3 141"/><circle r="443.75" pathLength="360" stroke-dasharray="0 205 1 1 3 6 3 141"/><circle r="446.25" pathLength="360" stroke-dasharray="0 205 2 2 1 6 2 142"/><circle r="451.25" pathLength="360" stroke-dasharray="0 204 4 152"/><circle r="453.75" pathLength="360" stroke-dasharray="0 204 4 138 2 12"/><circle r="456.25" pathLength="360" stroke-dasharray="0 203 6 136 3 12"/><circle r="458.75" pathLength="360" stroke-dasharray="0 203 6 136 3 12"/><circle r="461.25" pathLength="360" stroke-dasharray="0 171 2 30 7 135 2 13"/><circle r="463.75" pathLength="360" stroke-dasharray="0 169 4 30 7 150"/><circle r="466.25" pathLength="360" stroke-dasharray="0 170 3 29 7 151"/><circle r="471.25" pathLength="360" stroke-dasharray="0 170 1 28 2 1 8 150"/><circle r="473.75" pathLength="360" stroke-dasharray="0 170 1 32 8 149"/><circle r="476.25" pathLength="360" stroke-dasharray="0 203 8 149"/><circle r="478.75" pathLength="360" stroke-dasharray="0 203 2 2 5 148"/><circle r="481.25" pathLength="360" stroke-dasharray="0 204 1 1 6 148"/><circle r="483.75" pathLength="360" stroke-dasharray="0 207 1 1 4 147"/><circle r="486.25" pathLength="360" stroke-dasharray="0 204 1 2 1 1 4 147"/><circle r="488.75" pathLength="360" stroke-dasharray="0 204 1 3 4 148"/><circle r="491.25" pathLength="360" stroke-dasharray="0 204 1 2 5 148"/><circle r="493.75" pathLength="360" stroke-dasharray="0 208 5 147"/><circle r="496.25" pathLength="360" stroke-dasharray="0 208 5 1 1 145"/><circle r="498.75" pathLength="360" stroke-dasharray="0 206 9 145"/><circle r="501.25" pathLength="360" stroke-dasharray="0 207 1 1 6 145"/><circle r="503.75" pathLength="360" stroke-dasharray="0 207 1 1 5 146"/><circle r="508.75" pathLength="360" stroke-dasharray="0 208 7 145"/><circle r="511.25" pathLength="360" stroke-dasharray="0 207 3 1 4 145"/><circle r="513.75" pathLength="360" stroke-dasharray="0 208 2 1 1 1 1 146"/><circle r="516.25" pathLength="360" stroke-dasharray="0 208 2 3 2 145"/><circle r="518.75" pathLength="360" stroke-dasharray="0 208 1 151"/><circle r="538.75" pathLength="360" stroke-dasharray="0 41 1 318"/></g>
<g stroke="#62BEDC"><circle r="16.25" pathLength="360" stroke-dasharray="0 18 33 2 11 296"/><circle r="18.75" pathLength="360" stroke-dasharray="0 15 34 311"/><circle r="21.25" pathLength="360" stroke-dasharray="0 13 42 2 6 297"/><circle r="23.75" pathLength="360" stroke-dasharray="0 12 28 9 11 65 6 229"/><circle r="26.25" pathLength="360" stroke-dasharray="0 11 17 2 6 7 8 85 1 223"/><circle r="28.75" pathLength="360" stroke-dasharray="0 13 15 18 13 72 22 207"/><circle r="31.25" pathLength="360" stroke-dasharray="0 9 4 1 21 1 7 89 21 207"/><circle r="33.75" pathLength="360" stroke-dasharray="0 11 2 4 8 2 5 5 6 40 4 27 5 5 31 6 2 132 4 61"/><circle r="36.25" pathLength="360" stroke-dasharray="0 12 4 8 9 7 6 37 2 32 5 4 29 4 3 27 4 167"/><circle r="38.75" pathLength="360" stroke-dasharray="0 11 8 4 26 4 1 65 12 2 24 20 3 180"/><circle r="41.25" pathLength="360" stroke-dasharray="0 10 12 4 31 62 14 3 18 206"/><circle r="43.75" pathLength="360" stroke-dasharray="0 10 52 15 4 39 15 2 16 207"/><circle r="46.25" pathLength="360" stroke-dasharray="0 13 48 53 3 2 19 222"/><circle r="48.75" pathLength="360" stroke-dasharray="0 9 53 26 3 6 2 1 3 3 1 9 24 62 1 157"/><circle r="51.25" pathLength="360" stroke-dasharray="0 8 56 1 2 25 11 4 2 3 3 3 22 3 3 46 3 3 3 1 2 156"/><circle r="53.75" pathLength="360" stroke-dasharray="0 8 69 14 3 8 3 6 14 1 15 1 3 46 10 159"/><circle r="56.25" pathLength="360" stroke-dasharray="0 10 67 14 2 11 1 5 30 53 9 158"/><circle r="58.75" pathLength="360" stroke-dasharray="0 10 68 2 3 20 6 2 6 1 26 41 16 159"/><circle r="61.25" pathLength="360" stroke-dasharray="0 5 2 2 3 3 63 26 1 6 7 1 11 2 5 1 1 50 14 38 3 48 6 1 5 56"/><circle r="63.75" pathLength="360" stroke-dasharray="0 11 3 5 7 2 1 5 47 11 8 7 13 2 7 56 19 75 7 1 4 32 3 34"/><circle r="66.25" pathLength="360" stroke-dasharray="0 18 7 3 2 1 2 3 42 1 3 9 5 1 2 5 20 1 4 4 2 1 2 47 16 2 1 156"/><circle r="68.75" pathLength="360" stroke-dasharray="0 8 3 4 7 5 2 9 8 2 29 1 2 26 11 1 6 1 6 55 19 155"/><circle r="71.25" pathLength="360" stroke-dasharray="0 15 4 1 3 5 2 22 1 7 20 25 19 2 1 21 4 32 2 1 15 1 1 2 2 152"/><circle r="73.75" pathLength="360" stroke-dasharray="0 61 2 3 6 2 5 14 2 2 2 4 17 6 7 15 1 31 8 4 5 2 2 4 6 149"/><circle r="76.25" pathLength="360" stroke-dasharray="0 69 4 7 1 13 2 2 10 2 9 15 1 21 2 20 14 3 7 4 1 2 4 32 2 113"/><circle r="78.75" pathLength="360" stroke-dasharray="0 69 3 3 2 2 2 13 2 2 22 2 3 9 1 43 10 4 3 1 2 3 1 6 5 1 3 143"/><circle r="81.25" pathLength="360" stroke-dasharray="0 70 4 25 20 16 5 16 2 1 1 17 9 2 5 1 1 2 2 4 8 2 3 144"/><circle r="83.75" pathLength="360" stroke-dasharray="0 69 7 23 8 2 1 2 8 7 2 8 2 20 1 18 7 1 5 5 2 2 2 4 8 1 1 3 2 139"/><circle r="86.25" pathLength="360" stroke-dasharray="0 68 8 27 5 4 5 20 2 41 4 16 4 1 10 5 2 30 2 106"/><circle r="88.75" pathLength="360" stroke-dasharray="0 69 8 25 2 5 4 2 2 5 2 7 2 46 8 17 12 31 2 2 1 2 2 104"/><circle r="91.25" pathLength="360" stroke-dasharray="0 69 1 30 2 5 5 65 2 1 5 19 3 2 4 4 2 27 2 3 2 5 3 99"/><circle r="93.75" pathLength="360" stroke-dasharray="0 73 6 31 2 6 1 60 1 3 2 22 5 6 2 28 2 1 9 100"/><circle r="96.25" pathLength="360" stroke-dasharray="0 70 6 30 2 15 2 83 1 6 2 34 4 2 3 100"/><circle r="98.75" pathLength="360" stroke-dasharray="0 68 1 1 6 138 1 42 1 102"/><circle r="101.25" pathLength="360" stroke-dasharray="0 214 1 85 2 58"/><circle r="103.75" pathLength="360" stroke-dasharray="0 215 1 62 2 18 2 60"/><circle r="106.25" pathLength="360" stroke-dasharray="0 215 1 79 7 20 2 2 1 33"/><circle r="108.75" pathLength="360" stroke-dasharray="0 274 2 19 9 15 1 3 4 33"/><circle r="111.25" pathLength="360" stroke-dasharray="0 270 8 9 2 1 14 56"/><circle r="113.75" pathLength="360" stroke-dasharray="0 85 1 177 1 8 7 5 2 1 3 1 1 2 1 1 7 57"/><circle r="116.25" pathLength="360" stroke-dasharray="0 80 1 1 7 174 16 1 1 6 1 2 14 35 1 20"/><circle r="118.75" pathLength="360" stroke-dasharray="0 79 3 2 4 1 2 36 4 132 15 1 1 2 4 4 13 57"/><circle r="121.25" pathLength="360" stroke-dasharray="0 79 5 4 1 37 6 129 18 1 5 2 8 1 7 57"/><circle r="123.75" pathLength="360" stroke-dasharray="0 79 5 42 6 89 1 1 1 4 1 31 16 1 7 2 7 1 9 57"/><circle r="126.25" pathLength="360" stroke-dasharray="0 46 2 34 1 44 4 90 6 33 18 1 12 2 10 57"/><circle r="128.75" pathLength="360" stroke-dasharray="0 45 4 171 3 1 2 34 31 1 1 1 1 1 1 1 3 59"/><circle r="131.25" pathLength="360" stroke-dasharray="0 45 4 168 1 4 1 38 34 2 4 1 3 55"/><circle r="133.75" pathLength="360" stroke-dasharray="0 45 3 106 1 105 36 1 2 4 1 56"/><circle r="136.25" pathLength="360" stroke-dasharray="0 147 1 6 1 105 34 2 1 2 2 59"/><circle r="138.75" pathLength="360" stroke-dasharray="0 258 1 1 38 2 1 2 1 56"/><circle r="141.25" pathLength="360" stroke-dasharray="0 260 32 2 8 58"/><circle r="143.75" pathLength="360" stroke-dasharray="0 260 32 1 2 2 1 3 2 57"/><circle r="146.25" pathLength="360" stroke-dasharray="0 259 11 1 2 1 18 4 3 1 2 58"/><circle r="148.75" pathLength="360" stroke-dasharray="0 122 2 135 8 1 1 3 1 1 1 1 1 2 1 1 2 1 7 1 1 2 4 1 3 57"/><circle r="151.25" pathLength="360" stroke-dasharray="0 121 3 1 1 59 2 72 9 1 1 11 1 3 1 1 1 1 6 1 7 57"/><circle r="153.75" pathLength="360" stroke-dasharray="0 123 5 57 2 73 1 2 3 1 1 19 1 1 14 57"/><circle r="156.25" pathLength="360" stroke-dasharray="0 125 3 135 1 2 1 15 1 5 15 57"/><circle r="158.75" pathLength="360" stroke-dasharray="0 2 4 121 1 157 1 3 15 56"/><circle r="161.25" pathLength="360" stroke-dasharray="0 3 3 284 6 1 5 58"/><circle r="163.75" pathLength="360" stroke-dasharray="0 129 1 163 8 59"/><circle r="166.25" pathLength="360" stroke-dasharray="0 129 1 148 5 11 5 1 2 58"/><circle r="168.75" pathLength="360" stroke-dasharray="0 129 1 145 1 1 6 12 2 63"/><circle r="171.25" pathLength="360" stroke-dasharray="0 271 13 11 1 64"/><circle r="173.75" pathLength="360" stroke-dasharray="0 252 1 3 3 12 12 77"/><circle r="176.25" pathLength="360" stroke-dasharray="0 252 2 1 8 3 2 3 12 77"/><circle r="178.75" pathLength="360" stroke-dasharray="0 251 10 2 1 4 2 1 2 3 6 1 1 76"/><circle r="181.25" pathLength="360" stroke-dasharray="0 244 1 6 13 4 2 6 5 1 2 44 4 28"/><circle r="183.75" pathLength="360" stroke-dasharray="0 85 2 156 2 6 12 7 1 4 1 2 3 1 2 45 4 27"/><circle r="186.25" pathLength="360" stroke-dasharray="0 76 2 7 2 156 2 7 12 19 1 48 1 27"/><circle r="188.75" pathLength="360" stroke-dasharray="0 75 4 6 1 156 3 7 12 3 1 9 1 1 2 79"/><circle r="191.25" pathLength="360" stroke-dasharray="0 75 3 164 4 7 11 1 4 4 3 1 1 82"/><circle r="193.75" pathLength="360" stroke-dasharray="0 73 4 165 4 9 7 2 7 2 2 18 1 66"/><circle r="196.25" pathLength="360" stroke-dasharray="0 74 1 167 3 10 1 1 5 2 4 3 4 11 2 2 2 1 1 66"/><circle r="198.75" pathLength="360" stroke-dasharray="0 79 3 158 2 2 1 10 6 2 4 5 1 1 1 9 10 4 1 61"/><circle r="201.25" pathLength="360" stroke-dasharray="0 79 2 37 1 141 1 3 1 2 3 13 11 5 2 1 1 57"/><circle r="203.75" pathLength="360" stroke-dasharray="0 117 3 142 2 3 2 11 1 2 11 1 3 1 5 56"/><circle r="206.25" pathLength="360" stroke-dasharray="0 117 2 145 2 4 1 9 1 1 23 55"/><circle r="208.75" pathLength="360" stroke-dasharray="0 264 2 10 4 1 24 55"/><circle r="211.25" pathLength="360" stroke-dasharray="0 264 3 8 5 1 24 55"/><circle r="213.75" pathLength="360" stroke-dasharray="0 264 5 8 27 56"/><circle r="216.25" pathLength="360" stroke-dasharray="0 264 5 10 25 56"/><circle r="218.75" pathLength="360" stroke-dasharray="0 78 1 99 3 83 6 13 21 56"/><circle r="221.25" pathLength="360" stroke-dasharray="0 178 4 83 5 13 22 55"/><circle r="223.75" pathLength="360" stroke-dasharray="0 179 3 84 4 13 20 57"/><circle r="226.25" pathLength="360" stroke-dasharray="0 265 6 13 20 56"/><circle r="228.75" pathLength="360" stroke-dasharray="0 269 2 13 18 58"/><circle r="231.25" pathLength="360" stroke-dasharray="0 267 1 1 2 15 9 1 7 57"/><circle r="233.75" pathLength="360" stroke-dasharray="0 284 1 2 15 58"/><circle r="238.75" pathLength="360" stroke-dasharray="0 287 16 46 2 9"/><circle r="243.75" pathLength="360" stroke-dasharray="0 288 15 47 3 7"/><circle r="246.25" pathLength="360" stroke-dasharray="0 0 1 16 2 269 15 47 4 5 1 0"/><circle r="248.75" pathLength="360" stroke-dasharray="0 0 1 16 2 269 15 48 1 6 2 0"/><circle r="251.25" pathLength="360" stroke-dasharray="0 0 1 288 15 10 1 42 3 0"/><circle r="253.75" pathLength="360" stroke-dasharray="0 288 17 53 2 0"/><circle r="256.25" pathLength="360" stroke-dasharray="0 30 2 74 1 181 17 55"/><circle r="258.75" pathLength="360" stroke-dasharray="0 30 3 257 16 54"/><circle r="261.25" pathLength="360" stroke-dasharray="0 290 15 34 1 20"/><circle r="266.25" pathLength="360" stroke-dasharray="0 293 13 32 3 19"/><circle r="271.25" pathLength="360" stroke-dasharray="0 292 3 1 1 1 9 31 2 20"/><circle r="273.75" pathLength="360" stroke-dasharray="0 292 14 54"/><circle r="276.25" pathLength="360" stroke-dasharray="0 293 13 54"/><circle r="278.75" pathLength="360" stroke-dasharray="0 292 3 1 9 55"/><circle r="281.25" pathLength="360" stroke-dasharray="0 294 12 54"/><circle r="283.75" pathLength="360" stroke-dasharray="0 294 2 1 1 1 6 55"/><circle r="286.25" pathLength="360" stroke-dasharray="0 299 5 4 1 51"/><circle r="288.75" pathLength="360" stroke-dasharray="0 284 1 12 1 1 6 1 4 50"/><circle r="291.25" pathLength="360" stroke-dasharray="0 298 7 1 3 51"/><circle r="293.75" pathLength="360" stroke-dasharray="0 300 3 4 3 28 3 19"/><circle r="296.25" pathLength="360" stroke-dasharray="0 301 2 2 5 28 3 19"/><circle r="298.75" pathLength="360" stroke-dasharray="0 278 3 24 5 28 3 19"/><circle r="301.25" pathLength="360" stroke-dasharray="0 280 1 24 1 1 3 50"/><circle r="303.75" pathLength="360" stroke-dasharray="0 305 4 51"/><circle r="306.25" pathLength="360" stroke-dasharray="0 305 1 1 2 51"/><circle r="311.25" pathLength="360" stroke-dasharray="0 305 1 54"/><circle r="323.75" pathLength="360" stroke-dasharray="0 299 1 1 1 25 3 30"/><circle r="326.25" pathLength="360" stroke-dasharray="0 299 2 1 1 25 1 31"/><circle r="341.25" pathLength="360" stroke-dasharray="0 32 1 327"/><circle r="343.75" pathLength="360" stroke-dasharray="0 31 2 327"/><circle r="363.75" pathLength="360" stroke-dasharray="0 357 2 1"/><circle r="381.25" pathLength="360" stroke-dasharray="0 21 1 338"/><circle r="383.75" pathLength="360" stroke-dasharray="0 20 2 190 2 24 1 1 2 118"/><circle r="386.25" pathLength="360" stroke-dasharray="0 21 1 187 1 1 3 23 2 1 2 118"/><circle r="388.75" pathLength="360" stroke-dasharray="0 211 2 1 1 22 2 121"/><circle r="391.25" pathLength="360" stroke-dasharray="0 209 2 1 1 21 4 122"/><circle r="393.75" pathLength="360" stroke-dasharray="0 210 1 1 1 19 1 1 2 1 1 122"/><circle r="396.25" pathLength="360" stroke-dasharray="0 210 1 1 1 18 1 1 2 1 1 123"/><circle r="398.75" pathLength="360" stroke-dasharray="0 232 3 1 1 123"/><circle r="403.75" pathLength="360" stroke-dasharray="0 232 2 126"/><circle r="406.25" pathLength="360" stroke-dasharray="0 228 2 2 1 127"/><circle r="428.75" pathLength="360" stroke-dasharray="0 210 1 149"/><circle r="433.75" pathLength="360" stroke-dasharray="0 11 1 196 3 149"/><circle r="438.75" pathLength="360" stroke-dasharray="0 11 1 196 2 150"/><circle r="441.25" pathLength="360" stroke-dasharray="0 208 2 6 2 142"/><circle r="443.75" pathLength="360" stroke-dasharray="0 205 1 2 2 6 2 142"/><circle r="446.25" pathLength="360" stroke-dasharray="0 205 1 3 1 6 2 142"/><circle r="448.75" pathLength="360" stroke-dasharray="0 205 2 2 1 7 1 142"/><circle r="451.25" pathLength="360" stroke-dasharray="0 205 2 153"/><circle r="453.75" pathLength="360" stroke-dasharray="0 205 2 139 1 13"/><circle r="456.25" pathLength="360" stroke-dasharray="0 204 3 1 1 137 2 12"/><circle r="461.25" pathLength="360" stroke-dasharray="0 171 2 31 6 136 1 13"/><circle r="463.75" pathLength="360" stroke-dasharray="0 170 3 30 7 150"/><circle r="466.25" pathLength="360" stroke-dasharray="0 170 2 31 6 151"/><circle r="468.75" pathLength="360" stroke-dasharray="0 170 1 31 8 150"/><circle r="471.25" pathLength="360" stroke-dasharray="0 170 1 31 1 1 6 150"/><circle r="473.75" pathLength="360" stroke-dasharray="0 170 1 33 7 149"/><circle r="476.25" pathLength="360" stroke-dasharray="0 203 1 1 1 1 4 149"/><circle r="478.75" pathLength="360" stroke-dasharray="0 203 1 4 4 148"/><circle r="481.25" pathLength="360" stroke-dasharray="0 204 1 3 4 148"/><circle r="483.75" pathLength="360" stroke-dasharray="0 209 4 147"/><circle r="486.25" pathLength="360" stroke-dasharray="0 207 1 1 1 1 2 147"/><circle r="488.75" pathLength="360" stroke-dasharray="0 209 1 1 1 148"/><circle r="491.25" pathLength="360" stroke-dasharray="0 208 4 148"/><circle r="493.75" pathLength="360" stroke-dasharray="0 208 4 148"/><circle r="496.25" pathLength="360" stroke-dasharray="0 209 4 147"/><circle r="498.75" pathLength="360" stroke-dasharray="0 207 2 1 1 3 1 145"/><circle r="501.25" pathLength="360" stroke-dasharray="0 207 1 2 3 147"/><circle r="503.75" pathLength="360" stroke-dasharray="0 207 1 3 3 146"/><circle r="506.25" pathLength="360" stroke-dasharray="0 210 4 146"/><circle r="508.75" pathLength="360" stroke-dasharray="0 208 1 1 4 146"/><circle r="511.25" pathLength="360" stroke-dasharray="0 208 1 2 3 146"/><circle r="513.75" pathLength="360" stroke-dasharray="0 208 1 2 1 1 1 146"/><circle r="516.25" pathLength="360" stroke-dasharray="0 213 2 145"/></g>
<g stroke="#63D4C4"><circle r="11.25" pathLength="360" stroke-dasharray="0 26 4 330"/><circle r="13.75" pathLength="360" stroke-dasharray="0 21 24 315"/><circle r="16.25" pathLength="360" stroke-dasharray="0 18 9 14 10 2 11 296"/><circle r="21.25" pathLength="360" stroke-dasharray="0 13 19 3 20 305"/><circle r="26.25" pathLength="360" stroke-dasharray="0 11 17 15 8 309"/><circle r="28.75" pathLength="360" stroke-dasharray="0 14 11 1 2 18 13 72 4 2 14 209"/><circle r="31.25" pathLength="360" stroke-dasharray="0 9 4 1 10 3 2 103 21 207"/><circle r="33.75" pathLength="360" stroke-dasharray="0 11 2 4 5 5 5 82 5 11 25 205"/><circle r="36.25" pathLength="360" stroke-dasharray="0 12 4 9 8 7 6 75 1 7 26 205"/><circle r="38.75" pathLength="360" stroke-dasharray="0 11 8 4 9 5 12 4 1 65 11 3 24 203"/><circle r="41.25" pathLength="360" stroke-dasharray="0 10 4 4 4 4 23 3 5 62 14 4 17 206"/><circle r="43.75" pathLength="360" stroke-dasharray="0 10 46 21 4 39 15 2 3 1 7 1 2 209"/><circle r="46.25" pathLength="360" stroke-dasharray="0 13 48 53 3 4 17 222"/><circle r="48.75" pathLength="360" stroke-dasharray="0 12 50 38 3 13 24 220"/><circle r="51.25" pathLength="360" stroke-dasharray="0 8 52 32 8 12 3 3 21 4 3 52 3 159"/><circle r="53.75" pathLength="360" stroke-dasharray="0 11 54 1 5 3 3 14 3 17 14 1 15 50 10 159"/><circle r="56.25" pathLength="360" stroke-dasharray="0 13 64 27 1 8 5 1 6 3 12 53 9 158"/><circle r="58.75" pathLength="360" stroke-dasharray="0 10 68 2 3 21 2 5 1 8 6 2 14 48 11 159"/><circle r="61.25" pathLength="360" stroke-dasharray="0 15 2 3 16 1 41 33 7 4 8 4 3 53 11 159"/><circle r="63.75" pathLength="360" stroke-dasharray="0 11 3 5 7 8 2 4 41 11 1 1 1 3 2 7 8 70 2 2 15 156"/><circle r="66.25" pathLength="360" stroke-dasharray="0 18 2 1 4 16 37 1 3 9 4 2 1 11 2 3 10 12 2 48 15 159"/><circle r="68.75" pathLength="360" stroke-dasharray="0 17 4 6 2 13 4 2 4 1 3 3 1 1 16 29 11 3 3 2 6 56 7 2 4 2 1 157"/><circle r="71.25" pathLength="360" stroke-dasharray="0 15 2 3 1 41 16 1 1 29 12 27 4 32 2 1 15 1 1 156"/><circle r="73.75" pathLength="360" stroke-dasharray="0 61 2 3 6 2 5 18 2 4 2 2 13 8 2 18 1 32 1 2 4 7 2 13 1 149"/><circle r="76.25" pathLength="360" stroke-dasharray="0 71 1 8 1 13 2 2 2 1 1 2 4 2 9 37 2 22 6 9 1 2 4 8 1 149"/><circle r="78.75" pathLength="360" stroke-dasharray="0 69 2 8 2 17 2 1 6 3 10 2 3 9 1 44 9 4 2 2 2 3 1 6 2 4 3 143"/><circle r="81.25" pathLength="360" stroke-dasharray="0 72 2 25 8 4 8 16 1 20 2 22 6 2 5 4 2 4 8 2 2 145"/><circle r="83.75" pathLength="360" stroke-dasharray="0 69 2 1 4 24 1 2 2 4 1 3 5 62 4 2 1 2 2 5 2 8 2 2 4 5 2 139"/><circle r="86.25" pathLength="360" stroke-dasharray="0 68 7 31 2 6 3 63 2 21 1 1 3 1 6 145"/><circle r="88.75" pathLength="360" stroke-dasharray="0 69 5 1 2 32 4 2 2 5 2 55 5 20 8 35 2 2 1 108"/><circle r="91.25" pathLength="360" stroke-dasharray="0 107 2 68 2 1 5 19 2 3 4 38 2 5 3 99"/><circle r="93.75" pathLength="360" stroke-dasharray="0 73 1 1 2 33 2 98 2 36 2 1 2 5 2 100"/><circle r="96.25" pathLength="360" stroke-dasharray="0 70 6 139 2 34 4 2 2 101"/><circle r="98.75" pathLength="360" stroke-dasharray="0 68 1 1 1 3 2 284"/><circle r="101.25" pathLength="360" stroke-dasharray="0 300 2 58"/><circle r="106.25" pathLength="360" stroke-dasharray="0 295 7 20 1 37"/><circle r="108.75" pathLength="360" stroke-dasharray="0 295 9 19 4 33"/><circle r="111.25" pathLength="360" stroke-dasharray="0 271 7 12 2 1 10 57"/><circle r="113.75" pathLength="360" stroke-dasharray="0 85 1 188 5 9 2 1 1 4 7 57"/><circle r="116.25" pathLength="360" stroke-dasharray="0 80 1 1 2 1 1 2 1 174 2 1 1 1 6 2 3 1 1 9 13 57"/><circle r="118.75" pathLength="360" stroke-dasharray="0 84 3 2 1 37 2 134 2 1 5 2 3 1 1 1 1 2 3 5 3 1 9 57"/><circle r="121.25" pathLength="360" stroke-dasharray="0 79 5 43 5 129 17 2 2 1 2 2 1 2 5 1 7 57"/><circle r="123.75" pathLength="360" stroke-dasharray="0 80 4 42 6 129 15 1 1 1 5 2 7 1 8 58"/><circle r="126.25" pathLength="360" stroke-dasharray="0 46 2 79 3 92 4 34 18 1 12 2 2 1 6 58"/><circle r="128.75" pathLength="360" stroke-dasharray="0 45 4 173 1 1 2 34 31 1 1 1 1 1 1 3 1 59"/><circle r="131.25" pathLength="360" stroke-dasharray="0 46 3 212 24 2 1 1 4 4 2 3 3 55"/><circle r="133.75" pathLength="360" stroke-dasharray="0 46 2 213 35 1 2 61"/><circle r="136.25" pathLength="360" stroke-dasharray="0 260 31 1 2 2 1 63"/><circle r="138.75" pathLength="360" stroke-dasharray="0 260 34 2 2 5 1 56"/><circle r="141.25" pathLength="360" stroke-dasharray="0 260 32 2 1 2 2 1 1 59"/><circle r="143.75" pathLength="360" stroke-dasharray="0 260 11 2 1 3 15 1 2 2 1 3 1 58"/><circle r="146.25" pathLength="360" stroke-dasharray="0 259 9 9 1 1 6 1 5 5 3 2 1 58"/><circle r="148.75" pathLength="360" stroke-dasharray="0 122 2 135 1 1 6 14 1 2 1 2 2 8 2 61"/><circle r="151.25" pathLength="360" stroke-dasharray="0 121 3 61 2 72 8 23 5 2 3 60"/><circle r="153.75" pathLength="360" stroke-dasharray="0 127 1 57 2 76 3 23 6 1 6 58"/><circle r="156.25" pathLength="360" stroke-dasharray="0 288 14 58"/><circle r="158.75" pathLength="360" stroke-dasharray="0 2 4 283 6 1 7 57"/><circle r="163.75" pathLength="360" stroke-dasharray="0 293 2 2 4 59"/><circle r="166.25" pathLength="360" stroke-dasharray="0 279 1 2 1 11 1 1 3 61"/><circle r="168.75" pathLength="360" stroke-dasharray="0 129 1 147 6 13 1 63"/><circle r="171.25" pathLength="360" stroke-dasharray="0 272 2 1 9 76"/><circle r="173.75" pathLength="360" stroke-dasharray="0 256 2 16 1 1 7 77"/><circle r="176.25" pathLength="360" stroke-dasharray="0 252 2 1 6 1 1 9 2 2 7 77"/><circle r="178.75" pathLength="360" stroke-dasharray="0 251 10 8 1 2 1 4 5 78"/><circle r="181.25" pathLength="360" stroke-dasharray="0 251 12 14 1 1 1 2 1 45 3 29"/><circle r="183.75" pathLength="360" stroke-dasharray="0 85 2 156 1 7 12 15 3 1 2 45 3 28"/><circle r="186.25" pathLength="360" stroke-dasharray="0 76 2 7 2 156 2 7 11 20 1 76"/><circle r="188.75" pathLength="360" stroke-dasharray="0 75 4 6 1 157 2 7 2 1 9 96"/><circle r="191.25" pathLength="360" stroke-dasharray="0 75 3 164 4 9 8 2 4 91"/><circle r="193.75" pathLength="360" stroke-dasharray="0 74 3 165 4 10 5 4 4 5 1 18 1 66"/><circle r="196.25" pathLength="360" stroke-dasharray="0 242 3 13 3 4 3 4 3 11 1 6 1 66"/><circle r="198.75" pathLength="360" stroke-dasharray="0 79 3 158 1 16 3 5 2 17 2 1 3 3 1 66"/><circle r="201.25" pathLength="360" stroke-dasharray="0 79 1 38 1 141 1 22 8 1 1 6 2 1 1 57"/><circle r="203.75" pathLength="360" stroke-dasharray="0 117 3 142 2 4 1 14 11 5 4 57"/><circle r="206.25" pathLength="360" stroke-dasharray="0 117 2 146 1 14 1 1 13 1 2 1 4 57"/><circle r="208.75" pathLength="360" stroke-dasharray="0 276 1 5 22 56"/><circle r="211.25" pathLength="360" stroke-dasharray="0 266 1 9 3 3 23 55"/><circle r="213.75" pathLength="360" stroke-dasharray="0 265 1 1 2 8 3 1 23 56"/><circle r="216.25" pathLength="360" stroke-dasharray="0 264 5 12 1 1 21 56"/><circle r="218.75" pathLength="360" stroke-dasharray="0 179 1 84 5 14 21 56"/><circle r="221.25" pathLength="360" stroke-dasharray="0 178 4 83 4 14 20 57"/><circle r="223.75" pathLength="360" stroke-dasharray="0 179 3 84 4 14 19 57"/><circle r="226.25" pathLength="360" stroke-dasharray="0 266 3 16 12 1 3 59"/><circle r="228.75" pathLength="360" stroke-dasharray="0 269 1 16 11 1 2 1 1 58"/><circle r="231.25" pathLength="360" stroke-dasharray="0 269 2 15 9 1 1 1 4 58"/><circle r="233.75" pathLength="360" stroke-dasharray="0 287 15 58"/><circle r="236.25" pathLength="360" stroke-dasharray="0 286 16 48 1 9"/><circle r="238.75" pathLength="360" stroke-dasharray="0 288 14 47 2 9"/><circle r="241.25" pathLength="360" stroke-dasharray="0 287 15 48 3 7"/><circle r="246.25" pathLength="360" stroke-dasharray="0 0 1 16 1 270 15 47 4 5 1 0"/><circle r="248.75" pathLength="360" stroke-dasharray="0 0 1 16 2 270 14 48 1 6 2 0"/><circle r="251.25" pathLength="360" stroke-dasharray="0 0 1 289 14 53 3 0"/><circle r="253.75" pathLength="360" stroke-dasharray="0 290 14 56"/><circle r="256.25" pathLength="360" stroke-dasharray="0 31 1 258 14 56"/><circle r="258.75" pathLength="360" stroke-dasharray="0 30 2 259 14 55"/><circle r="261.25" pathLength="360" stroke-dasharray="0 290 1 1 13 34 1 20"/><circle r="268.75" pathLength="360" stroke-dasharray="0 294 12 32 3 19"/><circle r="271.25" pathLength="360" stroke-dasharray="0 294 1 3 9 31 2 20"/><circle r="273.75" pathLength="360" stroke-dasharray="0 292 3 1 10 54"/><circle r="276.25" pathLength="360" stroke-dasharray="0 293 2 1 1 1 8 54"/><circle r="278.75" pathLength="360" stroke-dasharray="0 294 1 2 1 1 6 55"/><circle r="281.25" pathLength="360" stroke-dasharray="0 294 1 4 7 54"/><circle r="283.75" pathLength="360" stroke-dasharray="0 294 2 1 1 2 5 55"/><circle r="286.25" pathLength="360" stroke-dasharray="0 299 5 56"/><circle r="288.75" pathLength="360" stroke-dasharray="0 300 3 4 3 50"/><circle r="291.25" pathLength="360" stroke-dasharray="0 301 2 4 2 51"/><circle r="293.75" pathLength="360" stroke-dasharray="0 301 1 5 3 28 3 19"/><circle r="296.25" pathLength="360" stroke-dasharray="0 301 1 3 5 28 3 19"/><circle r="298.75" pathLength="360" stroke-dasharray="0 278 3 24 1 1 3 28 2 20"/><circle r="301.25" pathLength="360" stroke-dasharray="0 280 1 26 3 50"/><circle r="308.75" pathLength="360" stroke-dasharray="0 305 1 54"/><circle r="318.75" pathLength="360" stroke-dasharray="0 327 2 31"/><circle r="321.25" pathLength="360" stroke-dasharray="0 327 3 30"/><circle r="323.75" pathLength="360" stroke-dasharray="0 299 1 27 3 30"/><circle r="356.25" pathLength="360" stroke-dasharray="0 328 1 31"/><circle r="363.75" pathLength="360" stroke-dasharray="0 358 1 1"/><circle r="366.25" pathLength="360" stroke-dasharray="0 357 1 2"/><circle r="383.75" pathLength="360" stroke-dasharray="0 213 1 24 1 1 2 118"/><circle r="386.25" pathLength="360" stroke-dasharray="0 237 2 1 2 118"/><circle r="388.75" pathLength="360" stroke-dasharray="0 237 2 121"/><circle r="391.25" pathLength="360" stroke-dasharray="0 234 1 2 1 122"/><circle r="393.75" pathLength="360" stroke-dasharray="0 234 1 2 1 122"/><circle r="396.25" pathLength="360" stroke-dasharray="0 233 2 125"/><circle r="398.75" pathLength="360" stroke-dasharray="0 233 2 1 1 123"/><circle r="406.25" pathLength="360" stroke-dasharray="0 228 2 130"/><circle r="431.25" pathLength="360" stroke-dasharray="0 208 1 151"/><circle r="433.75" pathLength="360" stroke-dasharray="0 11 1 196 2 150"/><circle r="436.25" pathLength="360" stroke-dasharray="0 11 1 196 2 150"/><circle r="438.75" pathLength="360" stroke-dasharray="0 11 1 197 1 150"/><circle r="441.25" pathLength="360" stroke-dasharray="0 208 2 7 1 142"/><circle r="443.75" pathLength="360" stroke-dasharray="0 209 1 7 1 142"/><circle r="446.25" pathLength="360" stroke-dasharray="0 209 1 7 1 142"/><circle r="448.75" pathLength="360" stroke-dasharray="0 209 1 150"/><circle r="451.25" pathLength="360" stroke-dasharray="0 206 1 153"/><circle r="453.75" pathLength="360" stroke-dasharray="0 205 1 154"/><circle r="456.25" pathLength="360" stroke-dasharray="0 205 2 1 1 137 2 12"/><circle r="458.75" pathLength="360" stroke-dasharray="0 204 3 1 1 137 2 12"/><circle r="461.25" pathLength="360" stroke-dasharray="0 172 1 31 3 1 1 137 1 13"/><circle r="463.75" pathLength="360" stroke-dasharray="0 170 1 33 5 151"/><circle r="466.25" pathLength="360" stroke-dasharray="0 170 1 32 3 1 2 151"/><circle r="468.75" pathLength="360" stroke-dasharray="0 202 4 2 2 150"/><circle r="471.25" pathLength="360" stroke-dasharray="0 204 2 3 1 150"/><circle r="473.75" pathLength="360" stroke-dasharray="0 204 2 2 3 149"/><circle r="476.25" pathLength="360" stroke-dasharray="0 205 1 2 1 1 1 149"/><circle r="478.75" pathLength="360" stroke-dasharray="0 203 1 4 1 1 2 148"/><circle r="481.25" pathLength="360" stroke-dasharray="0 210 2 148"/><circle r="483.75" pathLength="360" stroke-dasharray="0 211 2 147"/><circle r="498.75" pathLength="360" stroke-dasharray="0 207 2 151"/><circle r="503.75" pathLength="360" stroke-dasharray="0 207 1 3 1 148"/><circle r="508.75" pathLength="360" stroke-dasharray="0 213 1 146"/><circle r="511.25" pathLength="360" stroke-dasharray="0 212 2 146"/><circle r="513.75" pathLength="360" stroke-dasharray="0 213 1 146"/><circle r="516.25" pathLength="360" stroke-dasharray="0 213 1 146"/><circle r="541.25" pathLength="360" stroke-dasharray="0 41 1 318"/><circle r="543.75" pathLength="360" stroke-dasharray="0 41 1 318"/></g>
<g stroke="#40D466"><circle r="16.25" pathLength="360" stroke-dasharray="0 24 3 26 11 296"/><circle r="18.75" pathLength="360" stroke-dasharray="0 21 16 6 6 311"/><circle r="21.25" pathLength="360" stroke-dasharray="0 14 18 3 20 305"/><circle r="23.75" pathLength="360" stroke-dasharray="0 12 28 9 2 309"/><circle r="26.25" pathLength="360" stroke-dasharray="0 13 12 18 8 309"/><circle r="28.75" pathLength="360" stroke-dasharray="0 14 11 1 2 18 7 87 8 212"/><circle r="31.25" pathLength="360" stroke-dasharray="0 11 2 2 8 110 18 209"/><circle r="33.75" pathLength="360" stroke-dasharray="0 136 17 207"/><circle r="36.25" pathLength="360" stroke-dasharray="0 12 4 14 3 12 1 83 3 4 18 206"/><circle r="38.75" pathLength="360" stroke-dasharray="0 23 5 3 1 5 5 2 5 70 10 5 23 203"/><circle r="41.25" pathLength="360" stroke-dasharray="0 10 4 12 16 1 6 70 10 1 1 6 17 206"/><circle r="43.75" pathLength="360" stroke-dasharray="0 17 29 31 4 40 13 8 6 212"/><circle r="46.25" pathLength="360" stroke-dasharray="0 13 48 61 14 224"/><circle r="48.75" pathLength="360" stroke-dasharray="0 15 44 41 3 13 6 1 17 220"/><circle r="51.25" pathLength="360" stroke-dasharray="0 8 52 33 1 3 3 12 3 3 21 221"/><circle r="53.75" pathLength="360" stroke-dasharray="0 11 54 3 3 40 6 9 15 50 3 2 5 159"/><circle r="56.25" pathLength="360" stroke-dasharray="0 13 53 1 5 3 2 27 1 8 2 6 3 4 12 53 8 159"/><circle r="58.75" pathLength="360" stroke-dasharray="0 15 63 2 3 21 2 5 1 8 3 8 10 49 11 159"/><circle r="61.25" pathLength="360" stroke-dasharray="0 15 2 3 10 3 3 3 9 3 27 33 2 9 2 10 3 53 10 160"/><circle r="63.75" pathLength="360" stroke-dasharray="0 19 2 1 4 8 2 5 6 6 24 21 1 11 2 78 10 160"/><circle r="66.25" pathLength="360" stroke-dasharray="0 23 2 17 6 1 3 3 4 1 17 2 3 9 2 17 1 3 5 68 12 161"/><circle r="68.75" pathLength="360" stroke-dasharray="0 20 1 21 4 3 3 12 13 31 2 1 6 3 3 2 3 59 7 2 2 4 1 157"/><circle r="71.25" pathLength="360" stroke-dasharray="0 20 1 41 3 2 9 33 9 71 2 4 2 6 1 156"/><circle r="73.75" pathLength="360" stroke-dasharray="0 66 6 2 4 19 2 4 2 2 2 1 10 8 2 54 1 10 2 13 1 149"/><circle r="76.25" pathLength="360" stroke-dasharray="0 71 1 22 2 2 2 4 4 2 9 62 5 9 1 14 1 149"/><circle r="78.75" pathLength="360" stroke-dasharray="0 99 1 1 6 3 10 60 7 21 2 150"/><circle r="81.25" pathLength="360" stroke-dasharray="0 72 2 26 2 1 4 4 8 61 5 3 1 2 2 12 4 4 2 145"/><circle r="83.75" pathLength="360" stroke-dasharray="0 72 1 1 2 27 2 4 1 3 5 62 4 2 1 19 2 2 4 5 2 139"/><circle r="86.25" pathLength="360" stroke-dasharray="0 71 2 1 1 39 2 89 2 2 2 1 3 145"/><circle r="88.75" pathLength="360" stroke-dasharray="0 69 4 2 1 39 2 62 3 22 2 2 3 36 2 111"/><circle r="91.25" pathLength="360" stroke-dasharray="0 177 2 25 2 4 3 38 2 7 1 99"/><circle r="93.75" pathLength="360" stroke-dasharray="0 73 1 136 2 36 2 1 1 6 2 100"/><circle r="96.25" pathLength="360" stroke-dasharray="0 70 3 142 2 35 2 3 2 101"/><circle r="98.75" pathLength="360" stroke-dasharray="0 70 1 3 2 284"/><circle r="106.25" pathLength="360" stroke-dasharray="0 296 2 1 2 59"/><circle r="108.75" pathLength="360" stroke-dasharray="0 295 6 23 1 35"/><circle r="111.25" pathLength="360" stroke-dasharray="0 271 1 2 1 1 2 15 7 1 2 57"/><circle r="113.75" pathLength="360" stroke-dasharray="0 85 1 188 1 3 1 9 2 6 7 57"/><circle r="116.25" pathLength="360" stroke-dasharray="0 85 1 2 1 179 2 1 1 8 1 9 1 1 11 57"/><circle r="118.75" pathLength="360" stroke-dasharray="0 84 1 4 1 176 4 3 2 4 1 2 3 5 3 1 9 57"/><circle r="121.25" pathLength="360" stroke-dasharray="0 81 3 43 4 130 15 1 1 2 1 2 2 5 4 2 7 57"/><circle r="123.75" pathLength="360" stroke-dasharray="0 81 3 42 5 130 15 3 5 2 7 1 1 1 6 58"/><circle r="126.25" pathLength="360" stroke-dasharray="0 47 1 80 2 130 18 2 2 1 1 2 4 3 2 2 5 58"/><circle r="128.75" pathLength="360" stroke-dasharray="0 48 1 176 1 34 19 1 11 3 1 65"/><circle r="131.25" pathLength="360" stroke-dasharray="0 47 2 213 19 1 3 2 1 1 2 6 2 61"/><circle r="133.75" pathLength="360" stroke-dasharray="0 46 2 213 27 1 6 65"/><circle r="136.25" pathLength="360" stroke-dasharray="0 260 31 1 1 67"/><circle r="138.75" pathLength="360" stroke-dasharray="0 260 32 68"/><circle r="141.25" pathLength="360" stroke-dasharray="0 261 9 1 1 3 16 69"/><circle r="143.75" pathLength="360" stroke-dasharray="0 260 11 7 14 1 1 66"/><circle r="146.25" pathLength="360" stroke-dasharray="0 261 6 12 1 1 3 2 2 1 2 7 1 61"/><circle r="148.75" pathLength="360" stroke-dasharray="0 123 1 137 6 14 1 6 1 71"/><circle r="151.25" pathLength="360" stroke-dasharray="0 123 1 62 1 73 2 1 3 24 4 4 2 60"/><circle r="153.75" pathLength="360" stroke-dasharray="0 127 1 57 2 103 5 1 5 59"/><circle r="158.75" pathLength="360" stroke-dasharray="0 2 4 283 6 1 6 58"/><circle r="161.25" pathLength="360" stroke-dasharray="0 3 3 285 4 2 5 58"/><circle r="163.75" pathLength="360" stroke-dasharray="0 298 3 59"/><circle r="166.25" pathLength="360" stroke-dasharray="0 294 1 2 2 61"/><circle r="168.75" pathLength="360" stroke-dasharray="0 277 6 77"/><circle r="171.25" pathLength="360" stroke-dasharray="0 276 6 78"/><circle r="173.75" pathLength="360" stroke-dasharray="0 257 1 18 7 77"/><circle r="176.25" pathLength="360" stroke-dasharray="0 253 1 1 3 1 2 16 6 77"/><circle r="178.75" pathLength="360" stroke-dasharray="0 251 3 1 6 16 1 1 1 1 1 78"/><circle r="181.25" pathLength="360" stroke-dasharray="0 252 8 1 1 67 2 29"/><circle r="183.75" pathLength="360" stroke-dasharray="0 85 2 156 1 7 12 19 2 45 3 28"/><circle r="186.25" pathLength="360" stroke-dasharray="0 85 2 156 2 7 11 20 1 76"/><circle r="188.75" pathLength="360" stroke-dasharray="0 76 3 164 2 7 2 1 8 97"/><circle r="191.25" pathLength="360" stroke-dasharray="0 75 3 164 3 10 8 3 2 92"/><circle r="193.75" pathLength="360" stroke-dasharray="0 74 3 165 3 11 5 4 4 91"/><circle r="196.25" pathLength="360" stroke-dasharray="0 242 3 20 2 93"/><circle r="198.75" pathLength="360" stroke-dasharray="0 80 2 202 2 2 1 71"/><circle r="201.25" pathLength="360" stroke-dasharray="0 79 1 203 8 1 1 6 2 59"/><circle r="203.75" pathLength="360" stroke-dasharray="0 117 2 165 7 1 2 6 2 58"/><circle r="206.25" pathLength="360" stroke-dasharray="0 117 2 146 1 16 13 2 1 1 4 57"/><circle r="208.75" pathLength="360" stroke-dasharray="0 282 17 1 4 56"/><circle r="211.25" pathLength="360" stroke-dasharray="0 276 2 4 22 56"/><circle r="213.75" pathLength="360" stroke-dasharray="0 267 2 13 22 56"/><circle r="216.25" pathLength="360" stroke-dasharray="0 267 1 13 1 2 20 56"/><circle r="218.75" pathLength="360" stroke-dasharray="0 264 5 14 20 57"/><circle r="221.25" pathLength="360" stroke-dasharray="0 179 1 1 1 83 4 16 17 58"/><circle r="223.75" pathLength="360" stroke-dasharray="0 180 1 85 3 15 16 1 2 57"/><circle r="226.25" pathLength="360" stroke-dasharray="0 266 1 19 11 1 2 60"/><circle r="228.75" pathLength="360" stroke-dasharray="0 286 10 2 1 61"/><circle r="231.25" pathLength="360" stroke-dasharray="0 286 9 3 4 58"/><circle r="233.75" pathLength="360" stroke-dasharray="0 288 7 2 1 1 1 60"/><circle r="236.25" pathLength="360" stroke-dasharray="0 286 1 1 8 1 4 59"/><circle r="238.75" pathLength="360" stroke-dasharray="0 288 7 1 1 1 3 49 1 9"/><circle r="241.25" pathLength="360" stroke-dasharray="0 288 10 1 3 48 3 7"/><circle r="243.75" pathLength="360" stroke-dasharray="0 288 14 48 3 7"/><circle r="246.25" pathLength="360" stroke-dasharray="0 17 1 270 14 48 4 6"/><circle r="248.75" pathLength="360" stroke-dasharray="0 0 1 16 2 270 13 49 1 6 2 0"/><circle r="251.25" pathLength="360" stroke-dasharray="0 290 12 56 2 0"/><circle r="253.75" pathLength="360" stroke-dasharray="0 291 12 57"/><circle r="256.25" pathLength="360" stroke-dasharray="0 31 1 259 13 56"/><circle r="258.75" pathLength="360" stroke-dasharray="0 30 2 260 12 56"/><circle r="263.75" pathLength="360" stroke-dasharray="0 292 13 33 3 19"/><circle r="266.25" pathLength="360" stroke-dasharray="0 293 12 33 3 19"/><circle r="268.75" pathLength="360" stroke-dasharray="0 294 2 1 1 1 7 32 3 19"/><circle r="271.25" pathLength="360" stroke-dasharray="0 298 9 31 2 20"/><circle r="273.75" pathLength="360" stroke-dasharray="0 296 1 1 7 55"/><circle r="276.25" pathLength="360" stroke-dasharray="0 293 1 2 1 1 2 1 5 54"/><circle r="278.75" pathLength="360" stroke-dasharray="0 299 6 55"/><circle r="281.25" pathLength="360" stroke-dasharray="0 294 1 4 6 55"/><circle r="283.75" pathLength="360" stroke-dasharray="0 297 1 2 5 55"/><circle r="286.25" pathLength="360" stroke-dasharray="0 300 4 56"/><circle r="291.25" pathLength="360" stroke-dasharray="0 301 2 5 1 51"/><circle r="293.75" pathLength="360" stroke-dasharray="0 301 1 6 1 29 2 20"/><circle r="296.25" pathLength="360" stroke-dasharray="0 301 1 5 3 28 3 19"/><circle r="298.75" pathLength="360" stroke-dasharray="0 278 3 28 1 28 2 20"/><circle r="301.25" pathLength="360" stroke-dasharray="0 280 1 28 1 50"/><circle r="303.75" pathLength="360" stroke-dasharray="0 307 2 51"/><circle r="306.25" pathLength="360" stroke-dasharray="0 307 2 51"/><circle r="318.75" pathLength="360" stroke-dasharray="0 327 1 32"/><circle r="326.25" pathLength="360" stroke-dasharray="0 302 1 57"/><circle r="383.75" pathLength="360" stroke-dasharray="0 238 1 121"/><circle r="386.25" pathLength="360" stroke-dasharray="0 237 1 2 2 118"/><circle r="388.75" pathLength="360" stroke-dasharray="0 237 1 122"/><circle r="396.25" pathLength="360" stroke-dasharray="0 233 1 126"/><circle r="398.75" pathLength="360" stroke-dasharray="0 234 1 125"/><circle r="401.25" pathLength="360" stroke-dasharray="0 232 2 126"/><circle r="403.75" pathLength="360" stroke-dasharray="0 232 1 127"/><circle r="406.25" pathLength="360" stroke-dasharray="0 229 1 130"/><circle r="433.75" pathLength="360" stroke-dasharray="0 209 1 150"/><circle r="441.25" pathLength="360" stroke-dasharray="0 209 1 150"/><circle r="446.25" pathLength="360" stroke-dasharray="0 209 1 150"/><circle r="456.25" pathLength="360" stroke-dasharray="0 205 1 2 1 138 1 12"/><circle r="458.75" pathLength="360" stroke-dasharray="0 347 1 12"/><circle r="461.25" pathLength="360" stroke-dasharray="0 205 1 2 1 151"/><circle r="463.75" pathLength="360" stroke-dasharray="0 170 1 34 1 2 1 151"/><circle r="466.25" pathLength="360" stroke-dasharray="0 170 1 33 2 2 1 151"/><circle r="468.75" pathLength="360" stroke-dasharray="0 204 2 154"/><circle r="471.25" pathLength="360" stroke-dasharray="0 204 1 155"/><circle r="473.75" pathLength="360" stroke-dasharray="0 204 1 5 1 149"/><circle r="476.25" pathLength="360" stroke-dasharray="0 205 1 4 1 149"/><circle r="478.75" pathLength="360" stroke-dasharray="0 210 2 148"/><circle r="481.25" pathLength="360" stroke-dasharray="0 210 1 149"/><circle r="483.75" pathLength="360" stroke-dasharray="0 211 1 148"/><circle r="503.75" pathLength="360" stroke-dasharray="0 207 1 152"/></g>
<g stroke="#14C41E"><circle r="13.75" pathLength="360" stroke-dasharray="0 21 6 333"/><circle r="16.25" pathLength="360" stroke-dasharray="0 24 3 333"/><circle r="18.75" pathLength="360" stroke-dasharray="0 24 9 10 6 311"/><circle r="21.25" pathLength="360" stroke-dasharray="0 17 11 17 1 314"/><circle r="23.75" pathLength="360" stroke-dasharray="0 12 19 1 8 320"/><circle r="26.25" pathLength="360" stroke-dasharray="0 13 10 337"/><circle r="28.75" pathLength="360" stroke-dasharray="0 15 8 120 5 212"/><circle r="31.25" pathLength="360" stroke-dasharray="0 16 5 1 1 110 6 1 11 209"/><circle r="36.25" pathLength="360" stroke-dasharray="0 30 3 12 1 90 1 1 14 208"/><circle r="38.75" pathLength="360" stroke-dasharray="0 23 5 3 1 5 1 6 3 76 1 3 1 6 18 1 3 204"/><circle r="41.25" pathLength="360" stroke-dasharray="0 26 16 78 1 1 4 4 1 7 16 206"/><circle r="43.75" pathLength="360" stroke-dasharray="0 20 25 78 9 12 4 212"/><circle r="46.25" pathLength="360" stroke-dasharray="0 19 25 5 8 66 13 224"/><circle r="48.75" pathLength="360" stroke-dasharray="0 15 32 1 11 61 2 2 10 1 4 221"/><circle r="51.25" pathLength="360" stroke-dasharray="0 11 49 64 1 1 12 222"/><circle r="53.75" pathLength="360" stroke-dasharray="0 11 3 3 25 2 21 3 3 40 6 9 15 51 2 3 2 161"/><circle r="56.25" pathLength="360" stroke-dasharray="0 13 4 2 2 3 30 3 9 1 5 32 1 8 2 6 3 4 1 1 1 2 7 54 7 159"/><circle r="58.75" pathLength="360" stroke-dasharray="0 15 8 3 6 2 7 1 7 4 3 6 13 1 2 2 3 21 2 5 1 8 3 10 7 51 9 160"/><circle r="61.25" pathLength="360" stroke-dasharray="0 15 2 3 2 1 7 9 2 3 1 8 4 5 11 38 2 9 2 11 2 53 9 161"/><circle r="63.75" pathLength="360" stroke-dasharray="0 19 2 3 2 8 2 6 5 6 1 2 7 1 12 34 2 78 8 162"/><circle r="66.25" pathLength="360" stroke-dasharray="0 23 2 17 5 8 4 5 13 2 3 10 1 17 1 3 5 69 11 161"/><circle r="68.75" pathLength="360" stroke-dasharray="0 42 4 3 2 13 13 37 1 73 6 2 2 4 1 157"/><circle r="71.25" pathLength="360" stroke-dasharray="0 67 7 36 8 85 1 156"/><circle r="73.75" pathLength="360" stroke-dasharray="0 66 5 3 4 19 2 8 2 1 10 240"/><circle r="76.25" pathLength="360" stroke-dasharray="0 94 2 2 2 4 2 4 9 62 5 174"/><circle r="78.75" pathLength="360" stroke-dasharray="0 99 1 2 4 4 9 61 6 22 2 150"/><circle r="81.25" pathLength="360" stroke-dasharray="0 73 1 27 1 1 4 4 8 61 4 21 2 153"/><circle r="83.75" pathLength="360" stroke-dasharray="0 72 1 1 2 28 1 4 1 3 5 63 3 2 1 19 2 2 4 146"/><circle r="86.25" pathLength="360" stroke-dasharray="0 71 2 41 2 89 2 6 2 145"/><circle r="88.75" pathLength="360" stroke-dasharray="0 69 3 43 2 62 3 22 2 4 1 149"/><circle r="93.75" pathLength="360" stroke-dasharray="0 73 1 136 2 36 2 8 2 100"/><circle r="96.25" pathLength="360" stroke-dasharray="0 70 2 143 2 35 2 106"/><circle r="98.75" pathLength="360" stroke-dasharray="0 70 1 289"/><circle r="103.75" pathLength="360" stroke-dasharray="0 298 2 60"/><circle r="108.75" pathLength="360" stroke-dasharray="0 297 1 1 2 23 1 35"/><circle r="111.25" pathLength="360" stroke-dasharray="0 271 1 4 2 15 1 2 4 1 2 57"/><circle r="113.75" pathLength="360" stroke-dasharray="0 297 6 57"/><circle r="116.25" pathLength="360" stroke-dasharray="0 85 1 2 1 182 1 8 1 9 1 4 3 1 2 59"/><circle r="118.75" pathLength="360" stroke-dasharray="0 266 1 6 2 4 1 4 1 10 7 58"/><circle r="121.25" pathLength="360" stroke-dasharray="0 83 1 43 4 131 14 14 4 2 5 59"/><circle r="123.75" pathLength="360" stroke-dasharray="0 81 1 1 1 42 5 131 9 1 4 3 2 5 1 2 2 3 1 1 2 1 1 60"/><circle r="126.25" pathLength="360" stroke-dasharray="0 261 17 11 1 8 1 61"/><circle r="128.75" pathLength="360" stroke-dasharray="0 225 1 36 17 2 3 5 2 69"/><circle r="131.25" pathLength="360" stroke-dasharray="0 262 19 2 2 2 1 1 2 69"/><circle r="133.75" pathLength="360" stroke-dasharray="0 46 1 215 22 1 3 3 2 67"/><circle r="136.25" pathLength="360" stroke-dasharray="0 261 29 70"/><circle r="138.75" pathLength="360" stroke-dasharray="0 260 1 1 29 69"/><circle r="141.25" pathLength="360" stroke-dasharray="0 261 9 5 16 69"/><circle r="143.75" pathLength="360" stroke-dasharray="0 260 6 1 1 1 1 10 11 69"/><circle r="146.25" pathLength="360" stroke-dasharray="0 261 2 1 3 16 1 2 2 72"/><circle r="148.75" pathLength="360" stroke-dasharray="0 262 2 1 2 93"/><circle r="151.25" pathLength="360" stroke-dasharray="0 123 1 139 2 25 2 1 1 4 1 61"/><circle r="153.75" pathLength="360" stroke-dasharray="0 185 2 103 4 2 1 1 3 59"/><circle r="156.25" pathLength="360" stroke-dasharray="0 289 6 1 5 59"/><circle r="158.75" pathLength="360" stroke-dasharray="0 2 4 284 5 1 4 1 1 58"/><circle r="161.25" pathLength="360" stroke-dasharray="0 3 3 285 2 4 4 59"/><circle r="166.25" pathLength="360" stroke-dasharray="0 298 1 61"/><circle r="168.75" pathLength="360" stroke-dasharray="0 279 3 78"/><circle r="173.75" pathLength="360" stroke-dasharray="0 277 6 77"/><circle r="176.25" pathLength="360" stroke-dasharray="0 253 1 1 2 2 2 16 1 1 4 77"/><circle r="178.75" pathLength="360" stroke-dasharray="0 252 2 1 6 18 1 80"/><circle r="181.25" pathLength="360" stroke-dasharray="0 252 8 69 2 29"/><circle r="183.75" pathLength="360" stroke-dasharray="0 85 1 165 10 1 1 20 1 45 3 28"/><circle r="186.25" pathLength="360" stroke-dasharray="0 85 2 156 2 8 10 97"/><circle r="191.25" pathLength="360" stroke-dasharray="0 75 2 165 3 10 7 4 2 92"/><circle r="193.75" pathLength="360" stroke-dasharray="0 242 3 11 1 1 2 5 4 91"/><circle r="196.25" pathLength="360" stroke-dasharray="0 242 3 21 1 93"/><circle r="198.75" pathLength="360" stroke-dasharray="0 80 1 279"/><circle r="201.25" pathLength="360" stroke-dasharray="0 285 3 12 1 59"/><circle r="203.75" pathLength="360" stroke-dasharray="0 117 2 165 4 1 2 2 1 7 1 58"/><circle r="206.25" pathLength="360" stroke-dasharray="0 117 2 164 12 2 1 2 1 59"/><circle r="208.75" pathLength="360" stroke-dasharray="0 283 4 1 11 1 2 1 1 56"/><circle r="211.25" pathLength="360" stroke-dasharray="0 277 1 5 1 1 10 1 7 57"/><circle r="213.75" pathLength="360" stroke-dasharray="0 268 1 14 1 1 1 2 16 56"/><circle r="216.25" pathLength="360" stroke-dasharray="0 284 2 1 17 56"/><circle r="218.75" pathLength="360" stroke-dasharray="0 266 2 16 10 1 6 59"/><circle r="221.25" pathLength="360" stroke-dasharray="0 265 3 17 3 1 12 59"/><circle r="223.75" pathLength="360" stroke-dasharray="0 286 14 60"/><circle r="226.25" pathLength="360" stroke-dasharray="0 287 9 2 1 61"/><circle r="228.75" pathLength="360" stroke-dasharray="0 287 6 1 1 3 1 61"/><circle r="231.25" pathLength="360" stroke-dasharray="0 287 8 3 3 59"/><circle r="233.75" pathLength="360" stroke-dasharray="0 288 7 65"/><circle r="236.25" pathLength="360" stroke-dasharray="0 288 7 2 1 62"/><circle r="238.75" pathLength="360" stroke-dasharray="0 288 7 1 1 1 1 1 1 59"/><circle r="241.25" pathLength="360" stroke-dasharray="0 288 8 1 1 1 1 50 3 7"/><circle r="243.75" pathLength="360" stroke-dasharray="0 288 13 49 3 7"/><circle r="246.25" pathLength="360" stroke-dasharray="0 17 1 271 13 48 4 6"/><circle r="248.75" pathLength="360" stroke-dasharray="0 0 1 16 2 270 13 49 1 7 1 0"/><circle r="256.25" pathLength="360" stroke-dasharray="0 292 11 57"/><circle r="258.75" pathLength="360" stroke-dasharray="0 30 2 260 11 57"/><circle r="261.25" pathLength="360" stroke-dasharray="0 293 12 55"/><circle r="263.75" pathLength="360" stroke-dasharray="0 293 11 34 3 19"/><circle r="266.25" pathLength="360" stroke-dasharray="0 293 1 2 1 1 1 1 5 33 3 19"/><circle r="268.75" pathLength="360" stroke-dasharray="0 294 1 5 6 32 3 19"/><circle r="271.25" pathLength="360" stroke-dasharray="0 300 5 33 2 20"/><circle r="273.75" pathLength="360" stroke-dasharray="0 300 5 55"/><circle r="276.25" pathLength="360" stroke-dasharray="0 299 1 1 4 55"/><circle r="278.75" pathLength="360" stroke-dasharray="0 300 5 55"/><circle r="281.25" pathLength="360" stroke-dasharray="0 299 6 55"/><circle r="283.75" pathLength="360" stroke-dasharray="0 301 4 55"/><circle r="286.25" pathLength="360" stroke-dasharray="0 301 2 57"/><circle r="288.75" pathLength="360" stroke-dasharray="0 300 3 57"/><circle r="291.25" pathLength="360" stroke-dasharray="0 301 1 6 1 51"/><circle r="293.75" pathLength="360" stroke-dasharray="0 301 1 6 1 30 1 20"/><circle r="296.25" pathLength="360" stroke-dasharray="0 301 1 36 3 19"/><circle r="298.75" pathLength="360" stroke-dasharray="0 279 2 58 1 20"/><circle r="301.25" pathLength="360" stroke-dasharray="0 309 1 50"/><circle r="323.75" pathLength="360" stroke-dasharray="0 327 3 30"/><circle r="351.25" pathLength="360" stroke-dasharray="0 327 2 31"/><circle r="353.75" pathLength="360" stroke-dasharray="0 327 2 31"/><circle r="401.25" pathLength="360" stroke-dasharray="0 232 1 127"/></g>
<g stroke="#14B01C"><circle r="21.25" pathLength="360" stroke-dasharray="0 21 7 332"/><circle r="23.75" pathLength="360" stroke-dasharray="0 15 3 7 3 4 8 320"/><circle r="26.25" pathLength="360" stroke-dasharray="0 15 8 337"/><circle r="31.25" pathLength="360" stroke-dasharray="0 137 2 1 11 209"/><circle r="33.75" pathLength="360" stroke-dasharray="0 137 16 207"/><circle r="38.75" pathLength="360" stroke-dasharray="0 123 1 12 2 1 13 1 2 205"/><circle r="41.25" pathLength="360" stroke-dasharray="0 26 4 4 3 93 1 8 15 206"/><circle r="43.75" pathLength="360" stroke-dasharray="0 28 1 3 9 83 8 228"/><circle r="46.25" pathLength="360" stroke-dasharray="0 23 11 4 6 316"/><circle r="48.75" pathLength="360" stroke-dasharray="0 18 1 6 22 1 10 73 1 228"/><circle r="51.25" pathLength="360" stroke-dasharray="0 14 31 1 3 1 8 70 7 1 1 223"/><circle r="53.75" pathLength="360" stroke-dasharray="0 11 3 3 2 3 14 4 2 3 9 1 1 12 3 40 3 14 12 58 1 161"/><circle r="56.25" pathLength="360" stroke-dasharray="0 16 1 2 2 3 15 4 7 1 1 11 3 1 2 44 2 18 7 54 6 160"/><circle r="58.75" pathLength="360" stroke-dasharray="0 16 4 6 6 2 1 7 6 16 11 1 2 2 3 50 3 3 1 52 8 160"/><circle r="61.25" pathLength="360" stroke-dasharray="0 23 2 3 2 9 2 3 1 19 9 117 9 161"/><circle r="63.75" pathLength="360" stroke-dasharray="0 24 2 18 1 11 2 6 12 34 1 79 6 1 1 162"/><circle r="66.25" pathLength="360" stroke-dasharray="0 42 5 17 13 15 1 17 1 3 2 73 5 2 3 161"/><circle r="68.75" pathLength="360" stroke-dasharray="0 43 2 4 2 13 13 111 3 169"/><circle r="71.25" pathLength="360" stroke-dasharray="0 67 7 36 2 1 4 243"/><circle r="73.75" pathLength="360" stroke-dasharray="0 74 4 32 8 1 1 240"/><circle r="76.25" pathLength="360" stroke-dasharray="0 104 1 5 8 64 3 175"/><circle r="78.75" pathLength="360" stroke-dasharray="0 102 4 5 6 1 1 61 5 175"/><circle r="81.25" pathLength="360" stroke-dasharray="0 103 4 4 7 62 4 176"/><circle r="83.75" pathLength="360" stroke-dasharray="0 114 2 66 2 22 2 2 2 148"/><circle r="86.25" pathLength="360" stroke-dasharray="0 205 2 153"/><circle r="88.75" pathLength="360" stroke-dasharray="0 69 1 110 2 28 1 149"/><circle r="91.25" pathLength="360" stroke-dasharray="0 204 2 4 1 149"/><circle r="93.75" pathLength="360" stroke-dasharray="0 73 1 175 1 8 2 100"/><circle r="96.25" pathLength="360" stroke-dasharray="0 71 1 288"/><circle r="103.75" pathLength="360" stroke-dasharray="0 299 1 60"/><circle r="111.25" pathLength="360" stroke-dasharray="0 271 1 25 2 61"/><circle r="113.75" pathLength="360" stroke-dasharray="0 297 1 2 1 59"/><circle r="116.25" pathLength="360" stroke-dasharray="0 88 1 182 1 24 2 62"/><circle r="118.75" pathLength="360" stroke-dasharray="0 295 2 1 2 60"/><circle r="121.25" pathLength="360" stroke-dasharray="0 127 1 1 1 134 2 2 3 2 2 16 3 4 3 59"/><circle r="123.75" pathLength="360" stroke-dasharray="0 81 1 1 1 42 4 134 7 1 1 1 2 10 1 9 2 1 1 60"/><circle r="126.25" pathLength="360" stroke-dasharray="0 261 13 15 1 8 1 61"/><circle r="128.75" pathLength="360" stroke-dasharray="0 225 1 36 15 4 2 77"/><circle r="131.25" pathLength="360" stroke-dasharray="0 262 19 6 1 72"/><circle r="133.75" pathLength="360" stroke-dasharray="0 262 22 1 3 72"/><circle r="136.25" pathLength="360" stroke-dasharray="0 262 25 2 1 70"/><circle r="138.75" pathLength="360" stroke-dasharray="0 262 9 5 14 70"/><circle r="141.25" pathLength="360" stroke-dasharray="0 261 9 6 13 71"/><circle r="143.75" pathLength="360" stroke-dasharray="0 260 6 1 1 15 6 1 1 69"/><circle r="148.75" pathLength="360" stroke-dasharray="0 262 2 96"/><circle r="151.25" pathLength="360" stroke-dasharray="0 263 1 26 2 1 1 66"/><circle r="153.75" pathLength="360" stroke-dasharray="0 185 1 105 2 5 1 61"/><circle r="156.25" pathLength="360" stroke-dasharray="0 289 6 2 2 61"/><circle r="158.75" pathLength="360" stroke-dasharray="0 3 3 284 1 1 3 1 2 62"/><circle r="161.25" pathLength="360" stroke-dasharray="0 3 3 286 1 4 2 61"/><circle r="171.25" pathLength="360" stroke-dasharray="0 277 5 78"/><circle r="173.75" pathLength="360" stroke-dasharray="0 278 4 78"/><circle r="176.25" pathLength="360" stroke-dasharray="0 253 1 5 1 21 2 77"/><circle r="178.75" pathLength="360" stroke-dasharray="0 252 2 1 1 2 2 100"/><circle r="181.25" pathLength="360" stroke-dasharray="0 252 6 71 2 29"/><circle r="183.75" pathLength="360" stroke-dasharray="0 253 8 22 1 45 2 29"/><circle r="186.25" pathLength="360" stroke-dasharray="0 85 1 157 2 8 9 98"/><circle r="188.75" pathLength="360" stroke-dasharray="0 243 2 8 1 1 7 98"/><circle r="191.25" pathLength="360" stroke-dasharray="0 242 3 10 7 4 2 92"/><circle r="193.75" pathLength="360" stroke-dasharray="0 242 3 11 1 1 2 5 3 92"/><circle r="196.25" pathLength="360" stroke-dasharray="0 244 1 115"/><circle r="201.25" pathLength="360" stroke-dasharray="0 287 1 72"/><circle r="203.75" pathLength="360" stroke-dasharray="0 284 4 1 2 2 1 66"/><circle r="206.25" pathLength="360" stroke-dasharray="0 117 1 166 2 3 3 1 1 3 1 2 1 59"/><circle r="208.75" pathLength="360" stroke-dasharray="0 284 3 2 1 1 4 1 3 1 2 58"/><circle r="211.25" pathLength="360" stroke-dasharray="0 286 1 3 5 3 5 57"/><circle r="213.75" pathLength="360" stroke-dasharray="0 290 13 57"/><circle r="216.25" pathLength="360" stroke-dasharray="0 284 1 3 1 2 3 1 6 59"/><circle r="218.75" pathLength="360" stroke-dasharray="0 266 1 17 1 4 4 2 6 59"/><circle r="221.25" pathLength="360" stroke-dasharray="0 266 2 17 1 1 1 1 4 2 4 61"/><circle r="223.75" pathLength="360" stroke-dasharray="0 289 5 3 2 61"/><circle r="226.25" pathLength="360" stroke-dasharray="0 287 6 2 1 64"/><circle r="228.75" pathLength="360" stroke-dasharray="0 287 6 67"/><circle r="231.25" pathLength="360" stroke-dasharray="0 287 6 1 1 3 1 61"/><circle r="233.75" pathLength="360" stroke-dasharray="0 288 5 1 1 65"/><circle r="236.25" pathLength="360" stroke-dasharray="0 288 7 65"/><circle r="238.75" pathLength="360" stroke-dasharray="0 288 3 1 2 66"/><circle r="241.25" pathLength="360" stroke-dasharray="0 288 7 4 1 50 1 1 1 7"/><circle r="243.75" pathLength="360" stroke-dasharray="0 288 8 1 4 49 3 7"/><circle r="246.25" pathLength="360" stroke-dasharray="0 17 1 272 6 3 2 50 3 6"/><circle r="248.75" pathLength="360" stroke-dasharray="0 0 1 289 7 2 3 49 1 7 1 0"/><circle r="251.25" pathLength="360" stroke-dasharray="0 290 8 1 3 56 2 0"/><circle r="253.75" pathLength="360" stroke-dasharray="0 292 6 1 4 57"/><circle r="256.25" pathLength="360" stroke-dasharray="0 293 5 1 4 57"/><circle r="258.75" pathLength="360" stroke-dasharray="0 31 1 260 5 3 3 57"/><circle r="261.25" pathLength="360" stroke-dasharray="0 300 5 55"/><circle r="263.75" pathLength="360" stroke-dasharray="0 294 2 2 1 1 4 35 2 19"/><circle r="268.75" pathLength="360" stroke-dasharray="0 294 1 5 5 33 3 19"/><circle r="271.25" pathLength="360" stroke-dasharray="0 300 5 55"/><circle r="273.75" pathLength="360" stroke-dasharray="0 301 4 55"/><circle r="276.25" pathLength="360" stroke-dasharray="0 301 4 55"/><circle r="278.75" pathLength="360" stroke-dasharray="0 301 4 55"/><circle r="281.25" pathLength="360" stroke-dasharray="0 300 5 55"/><circle r="283.75" pathLength="360" stroke-dasharray="0 302 3 55"/><circle r="286.25" pathLength="360" stroke-dasharray="0 302 1 57"/><circle r="288.75" pathLength="360" stroke-dasharray="0 302 1 57"/><circle r="296.25" pathLength="360" stroke-dasharray="0 339 2 19"/><circle r="323.75" pathLength="360" stroke-dasharray="0 328 1 31"/><circle r="351.25" pathLength="360" stroke-dasharray="0 327 1 32"/><circle r="353.75" pathLength="360" stroke-dasharray="0 328 1 31"/></g>
<g stroke="#12A01A"><circle r="18.75" pathLength="360" stroke-dasharray="0 24 1 335"/><circle r="21.25" pathLength="360" stroke-dasharray="0 21 6 333"/><circle r="23.75" pathLength="360" stroke-dasharray="0 25 1 6 8 320"/><circle r="31.25" pathLength="360" stroke-dasharray="0 140 5 215"/><circle r="33.75" pathLength="360" stroke-dasharray="0 138 15 207"/><circle r="38.75" pathLength="360" stroke-dasharray="0 141 11 1 1 206"/><circle r="41.25" pathLength="360" stroke-dasharray="0 26 4 112 6 1 2 209"/><circle r="43.75" pathLength="360" stroke-dasharray="0 28 1 11 1 319"/><circle r="46.25" pathLength="360" stroke-dasharray="0 28 6 4 4 318"/><circle r="48.75" pathLength="360" stroke-dasharray="0 28 5 2 4 4 4 6 4 303"/><circle r="51.25" pathLength="360" stroke-dasharray="0 24 2 1 7 3 4 7 1 1 8 302"/><circle r="53.75" pathLength="360" stroke-dasharray="0 11 3 8 13 10 1 1 7 306"/><circle r="56.25" pathLength="360" stroke-dasharray="0 16 1 2 2 6 8 8 7 17 2 125 6 160"/><circle r="58.75" pathLength="360" stroke-dasharray="0 16 4 14 1 8 5 16 1 2 1 2 5 1 2 115 7 160"/><circle r="61.25" pathLength="360" stroke-dasharray="0 64 9 118 8 161"/><circle r="63.75" pathLength="360" stroke-dasharray="0 64 12 34 1 79 4 3 1 162"/><circle r="66.25" pathLength="360" stroke-dasharray="0 42 4 18 11 35 1 78 5 166"/><circle r="68.75" pathLength="360" stroke-dasharray="0 64 8 1 4 112 2 169"/><circle r="71.25" pathLength="360" stroke-dasharray="0 69 5 40 2 244"/><circle r="76.25" pathLength="360" stroke-dasharray="0 111 7 64 2 176"/><circle r="78.75" pathLength="360" stroke-dasharray="0 104 1 6 6 63 4 176"/><circle r="81.25" pathLength="360" stroke-dasharray="0 112 5 65 2 176"/><circle r="83.75" pathLength="360" stroke-dasharray="0 114 2 90 2 152"/><circle r="111.25" pathLength="360" stroke-dasharray="0 298 1 61"/><circle r="113.75" pathLength="360" stroke-dasharray="0 297 1 62"/><circle r="121.25" pathLength="360" stroke-dasharray="0 127 1 137 1 2 2 90"/><circle r="123.75" pathLength="360" stroke-dasharray="0 83 1 44 1 135 2 1 3 16 1 73"/><circle r="126.25" pathLength="360" stroke-dasharray="0 264 10 24 1 61"/><circle r="128.75" pathLength="360" stroke-dasharray="0 263 12 85"/><circle r="131.25" pathLength="360" stroke-dasharray="0 263 15 1 2 79"/><circle r="133.75" pathLength="360" stroke-dasharray="0 262 20 3 2 73"/><circle r="136.25" pathLength="360" stroke-dasharray="0 262 25 73"/><circle r="138.75" pathLength="360" stroke-dasharray="0 262 9 5 11 1 2 70"/><circle r="141.25" pathLength="360" stroke-dasharray="0 262 3 11 1 3 1 1 6 72"/><circle r="143.75" pathLength="360" stroke-dasharray="0 261 1 3 1 20 1 1 1 71"/><circle r="146.25" pathLength="360" stroke-dasharray="0 262 1 1 2 94"/><circle r="148.75" pathLength="360" stroke-dasharray="0 263 1 96"/><circle r="151.25" pathLength="360" stroke-dasharray="0 263 1 96"/><circle r="156.25" pathLength="360" stroke-dasharray="0 289 1 2 1 1 1 65"/><circle r="158.75" pathLength="360" stroke-dasharray="0 3 3 288 1 2 1 62"/><circle r="161.25" pathLength="360" stroke-dasharray="0 4 2 286 1 67"/><circle r="168.75" pathLength="360" stroke-dasharray="0 279 1 80"/><circle r="171.25" pathLength="360" stroke-dasharray="0 277 1 1 1 1 1 78"/><circle r="173.75" pathLength="360" stroke-dasharray="0 280 2 78"/><circle r="176.25" pathLength="360" stroke-dasharray="0 259 1 100"/><circle r="181.25" pathLength="360" stroke-dasharray="0 253 4 72 1 30"/><circle r="186.25" pathLength="360" stroke-dasharray="0 85 1 157 1 9 8 99"/><circle r="188.75" pathLength="360" stroke-dasharray="0 256 5 99"/><circle r="191.25" pathLength="360" stroke-dasharray="0 243 1 12 5 99"/><circle r="193.75" pathLength="360" stroke-dasharray="0 244 1 13 2 6 2 92"/><circle r="203.75" pathLength="360" stroke-dasharray="0 284 1 75"/><circle r="206.25" pathLength="360" stroke-dasharray="0 284 1 8 1 66"/><circle r="208.75" pathLength="360" stroke-dasharray="0 284 1 6 3 4 1 1 2 58"/><circle r="211.25" pathLength="360" stroke-dasharray="0 291 3 5 4 57"/><circle r="213.75" pathLength="360" stroke-dasharray="0 290 5 1 1 2 4 57"/><circle r="216.25" pathLength="360" stroke-dasharray="0 284 1 6 3 4 2 60"/><circle r="218.75" pathLength="360" stroke-dasharray="0 284 1 5 1 4 1 2 3 59"/><circle r="221.25" pathLength="360" stroke-dasharray="0 290 3 2 1 1 2 61"/><circle r="223.75" pathLength="360" stroke-dasharray="0 289 2 6 1 62"/><circle r="226.25" pathLength="360" stroke-dasharray="0 287 1 3 1 68"/><circle r="228.75" pathLength="360" stroke-dasharray="0 289 3 68"/><circle r="231.25" pathLength="360" stroke-dasharray="0 288 1 1 3 67"/><circle r="233.75" pathLength="360" stroke-dasharray="0 289 2 1 1 67"/><circle r="236.25" pathLength="360" stroke-dasharray="0 288 3 69"/><circle r="238.75" pathLength="360" stroke-dasharray="0 289 2 2 1 66"/><circle r="241.25" pathLength="360" stroke-dasharray="0 290 1 2 2 55 1 1 1 7"/><circle r="243.75" pathLength="360" stroke-dasharray="0 289 2 3 2 4 1 49 3 7"/><circle r="246.25" pathLength="360" stroke-dasharray="0 290 1 1 1 1 2 3 1 51 3 6"/><circle r="248.75" pathLength="360" stroke-dasharray="0 0 1 289 7 2 2 50 1 7 1 0"/><circle r="251.25" pathLength="360" stroke-dasharray="0 290 1 1 4 4 1 58 1 0"/><circle r="253.75" pathLength="360" stroke-dasharray="0 292 1 1 1 65"/><circle r="256.25" pathLength="360" stroke-dasharray="0 293 3 64"/><circle r="258.75" pathLength="360" stroke-dasharray="0 292 1 1 1 6 2 57"/><circle r="261.25" pathLength="360" stroke-dasharray="0 301 3 56"/><circle r="266.25" pathLength="360" stroke-dasharray="0 300 5 33 3 19"/><circle r="268.75" pathLength="360" stroke-dasharray="0 300 5 34 1 20"/><circle r="271.25" pathLength="360" stroke-dasharray="0 301 4 55"/><circle r="276.25" pathLength="360" stroke-dasharray="0 301 2 57"/><circle r="281.25" pathLength="360" stroke-dasharray="0 301 2 1 1 55"/><circle r="283.75" pathLength="360" stroke-dasharray="0 302 1 57"/><circle r="321.25" pathLength="360" stroke-dasharray="0 327 2 31"/></g>
<g stroke="#109018"><circle r="28.75" pathLength="360" stroke-dasharray="0 15 6 339"/><circle r="33.75" pathLength="360" stroke-dasharray="0 140 2 1 10 207"/><circle r="36.25" pathLength="360" stroke-dasharray="0 140 12 208"/><circle r="38.75" pathLength="360" stroke-dasharray="0 141 11 208"/><circle r="41.25" pathLength="360" stroke-dasharray="0 142 1 1 4 2 1 209"/><circle r="46.25" pathLength="360" stroke-dasharray="0 38 1 321"/><circle r="48.75" pathLength="360" stroke-dasharray="0 28 4 6 1 16 2 303"/><circle r="51.25" pathLength="360" stroke-dasharray="0 50 6 304"/><circle r="53.75" pathLength="360" stroke-dasharray="0 47 5 308"/><circle r="56.25" pathLength="360" stroke-dasharray="0 33 2 9 5 145 6 160"/><circle r="58.75" pathLength="360" stroke-dasharray="0 34 1 8 3 27 2 1 2 116 5 161"/><circle r="61.25" pathLength="360" stroke-dasharray="0 68 5 122 3 162"/><circle r="63.75" pathLength="360" stroke-dasharray="0 64 12 114 1 169"/><circle r="66.25" pathLength="360" stroke-dasharray="0 43 3 18 11 285"/><circle r="68.75" pathLength="360" stroke-dasharray="0 66 6 3 2 112 2 169"/><circle r="71.25" pathLength="360" stroke-dasharray="0 70 4 286"/><circle r="73.75" pathLength="360" stroke-dasharray="0 111 7 242"/><circle r="76.25" pathLength="360" stroke-dasharray="0 111 7 242"/><circle r="78.75" pathLength="360" stroke-dasharray="0 112 5 243"/><circle r="81.25" pathLength="360" stroke-dasharray="0 114 1 67 2 176"/><circle r="83.75" pathLength="360" stroke-dasharray="0 206 2 152"/><circle r="126.25" pathLength="360" stroke-dasharray="0 267 4 2 1 86"/><circle r="128.75" pathLength="360" stroke-dasharray="0 264 1 4 6 85"/><circle r="131.25" pathLength="360" stroke-dasharray="0 265 1 1 10 2 1 80"/><circle r="133.75" pathLength="360" stroke-dasharray="0 262 1 2 14 81"/><circle r="136.25" pathLength="360" stroke-dasharray="0 262 10 1 1 1 8 3 1 73"/><circle r="138.75" pathLength="360" stroke-dasharray="0 262 7 7 11 73"/><circle r="141.25" pathLength="360" stroke-dasharray="0 264 1 17 5 73"/><circle r="143.75" pathLength="360" stroke-dasharray="0 261 1 3 1 94"/><circle r="146.25" pathLength="360" stroke-dasharray="0 265 1 94"/><circle r="178.75" pathLength="360" stroke-dasharray="0 259 1 100"/><circle r="181.25" pathLength="360" stroke-dasharray="0 253 2 74 1 30"/><circle r="183.75" pathLength="360" stroke-dasharray="0 253 7 100"/><circle r="186.25" pathLength="360" stroke-dasharray="0 254 5 1 1 99"/><circle r="188.75" pathLength="360" stroke-dasharray="0 256 3 101"/><circle r="191.25" pathLength="360" stroke-dasharray="0 257 4 99"/><circle r="193.75" pathLength="360" stroke-dasharray="0 258 2 6 1 93"/><circle r="208.75" pathLength="360" stroke-dasharray="0 291 3 4 1 61"/><circle r="211.25" pathLength="360" stroke-dasharray="0 291 3 5 2 59"/><circle r="213.75" pathLength="360" stroke-dasharray="0 291 3 6 2 58"/><circle r="216.25" pathLength="360" stroke-dasharray="0 291 2 5 2 60"/><circle r="218.75" pathLength="360" stroke-dasharray="0 300 1 59"/><circle r="223.75" pathLength="360" stroke-dasharray="0 297 1 62"/><circle r="228.75" pathLength="360" stroke-dasharray="0 290 1 69"/><circle r="241.25" pathLength="360" stroke-dasharray="0 293 1 66"/><circle r="243.75" pathLength="360" stroke-dasharray="0 294 2 54 3 7"/><circle r="248.75" pathLength="360" stroke-dasharray="0 293 1 2 1 2 2 50 1 8"/><circle r="251.25" pathLength="360" stroke-dasharray="0 290 1 3 2 4 1 58 1 0"/><circle r="258.75" pathLength="360" stroke-dasharray="0 301 2 57"/><circle r="261.25" pathLength="360" stroke-dasharray="0 302 1 57"/><circle r="263.75" pathLength="360" stroke-dasharray="0 301 3 35 2 19"/><circle r="266.25" pathLength="360" stroke-dasharray="0 301 3 34 3 19"/><circle r="271.25" pathLength="360" stroke-dasharray="0 301 1 1 1 56"/><circle r="273.75" pathLength="360" stroke-dasharray="0 302 1 1 1 55"/><circle r="298.75" pathLength="360" stroke-dasharray="0 279 2 79"/></g>
<g stroke="#0E7E16"><circle r="28.75" pathLength="360" stroke-dasharray="0 16 5 339"/><circle r="33.75" pathLength="360" stroke-dasharray="0 143 5 1 1 210"/><circle r="36.25" pathLength="360" stroke-dasharray="0 142 10 208"/><circle r="38.75" pathLength="360" stroke-dasharray="0 143 8 209"/><circle r="51.25" pathLength="360" stroke-dasharray="0 51 5 304"/><circle r="53.75" pathLength="360" stroke-dasharray="0 48 4 308"/><circle r="56.25" pathLength="360" stroke-dasharray="0 44 5 146 5 160"/><circle r="58.75" pathLength="360" stroke-dasharray="0 43 2 31 2 116 5 161"/><circle r="61.25" pathLength="360" stroke-dasharray="0 69 3 123 3 162"/><circle r="63.75" pathLength="360" stroke-dasharray="0 67 6 287"/><circle r="66.25" pathLength="360" stroke-dasharray="0 66 2 2 3 287"/><circle r="68.75" pathLength="360" stroke-dasharray="0 66 4 1 1 288"/><circle r="71.25" pathLength="360" stroke-dasharray="0 73 1 286"/><circle r="73.75" pathLength="360" stroke-dasharray="0 113 4 243"/><circle r="76.25" pathLength="360" stroke-dasharray="0 112 5 243"/><circle r="126.25" pathLength="360" stroke-dasharray="0 270 1 89"/><circle r="128.75" pathLength="360" stroke-dasharray="0 269 2 1 1 87"/><circle r="131.25" pathLength="360" stroke-dasharray="0 267 5 1 1 86"/><circle r="133.75" pathLength="360" stroke-dasharray="0 265 1 4 1 1 4 84"/><circle r="136.25" pathLength="360" stroke-dasharray="0 264 1 3 2 1 1 4 7 77"/><circle r="138.75" pathLength="360" stroke-dasharray="0 264 1 11 3 3 1 1 3 73"/><circle r="141.25" pathLength="360" stroke-dasharray="0 264 1 21 1 73"/><circle r="161.25" pathLength="360" stroke-dasharray="0 4 2 354"/><circle r="181.25" pathLength="360" stroke-dasharray="0 254 1 74 1 30"/><circle r="183.75" pathLength="360" stroke-dasharray="0 254 5 101"/><circle r="186.25" pathLength="360" stroke-dasharray="0 254 4 102"/><circle r="188.75" pathLength="360" stroke-dasharray="0 256 2 102"/><circle r="193.75" pathLength="360" stroke-dasharray="0 259 1 100"/><circle r="208.75" pathLength="360" stroke-dasharray="0 291 2 67"/><circle r="211.25" pathLength="360" stroke-dasharray="0 291 1 1 1 66"/><circle r="213.75" pathLength="360" stroke-dasharray="0 291 1 8 2 58"/><circle r="243.75" pathLength="360" stroke-dasharray="0 295 1 54 3 7"/><circle r="246.25" pathLength="360" stroke-dasharray="0 295 1 3 1 51 2 7"/><circle r="268.75" pathLength="360" stroke-dasharray="0 303 1 56"/><circle r="271.25" pathLength="360" stroke-dasharray="0 303 1 56"/><circle r="278.75" pathLength="360" stroke-dasharray="0 301 2 57"/><circle r="281.25" pathLength="360" stroke-dasharray="0 301 2 57"/></g>
<g stroke="#0A5C10"><circle r="33.75" pathLength="360" stroke-dasharray="0 146 2 212"/><circle r="36.25" pathLength="360" stroke-dasharray="0 144 4 212"/><circle r="38.75" pathLength="360" stroke-dasharray="0 143 5 212"/><circle r="56.25" pathLength="360" stroke-dasharray="0 45 2 148 4 161"/><circle r="58.75" pathLength="360" stroke-dasharray="0 44 1 150 3 162"/><circle r="63.75" pathLength="360" stroke-dasharray="0 69 3 288"/><circle r="73.75" pathLength="360" stroke-dasharray="0 113 1 246"/><circle r="76.25" pathLength="360" stroke-dasharray="0 112 3 245"/><circle r="78.75" pathLength="360" stroke-dasharray="0 113 3 244"/><circle r="128.75" pathLength="360" stroke-dasharray="0 272 1 87"/><circle r="131.25" pathLength="360" stroke-dasharray="0 273 1 86"/><circle r="133.75" pathLength="360" stroke-dasharray="0 265 1 7 1 1 1 84"/><circle r="136.25" pathLength="360" stroke-dasharray="0 276 1 1 2 80"/><circle r="138.75" pathLength="360" stroke-dasharray="0 278 1 6 1 74"/><circle r="161.25" pathLength="360" stroke-dasharray="0 4 1 355"/><circle r="183.75" pathLength="360" stroke-dasharray="0 254 3 103"/><circle r="186.25" pathLength="360" stroke-dasharray="0 256 1 103"/><circle r="191.25" pathLength="360" stroke-dasharray="0 258 1 101"/></g>
<g stroke="#44800C"><circle r="56.25" pathLength="360" stroke-dasharray="0 195 4 161"/><circle r="58.75" pathLength="360" stroke-dasharray="0 195 3 162"/><circle r="63.75" pathLength="360" stroke-dasharray="0 69 2 289"/><circle r="66.25" pathLength="360" stroke-dasharray="0 70 2 288"/><circle r="76.25" pathLength="360" stroke-dasharray="0 114 1 245"/><circle r="136.25" pathLength="360" stroke-dasharray="0 276 1 83"/><circle r="158.75" pathLength="360" stroke-dasharray="0 3 3 354"/><circle r="243.75" pathLength="360" stroke-dasharray="0 350 3 7"/></g>
<g stroke="#B0B00C"><circle r="158.75" pathLength="360" stroke-dasharray="0 3 1 1 1 354"/><circle r="246.25" pathLength="360" stroke-dasharray="0 351 2 7"/><circle r="263.75" pathLength="360" stroke-dasharray="0 339 2 19"/><circle r="266.25" pathLength="360" stroke-dasharray="0 339 2 19"/><circle r="321.25" pathLength="360" stroke-dasharray="0 328 1 31"/></g>
<g stroke="#FCD80C"><circle r="243.75" pathLength="360" stroke-dasharray="0 351 2 7"/><circle r="266.25" pathLength="360" stroke-dasharray="0 339 1 20"/></g>
<g stroke="#FFB800"><circle r="158.75" pathLength="360" stroke-dasharray="0 3 1 356"/><circle r="243.75" pathLength="360" stroke-dasharray="0 351 1 8"/></g>
<g stroke="#FF9C00"><circle r="246.25" pathLength="360" stroke-dasharray="0 351 1 8"/></g>
</g>
<path d="M495.8,198.6 L506.9,195.8" stroke="#14B81C" stroke-width="2" fill="none"/>
<path d="M596.2,184.4 L618.5,185.8" stroke="#4C7CB4" stroke-width="2.4" fill="none"/>
<path d="M696.1,295.1 L703.6,301.5" stroke="#FCD80C" stroke-width="2.4" fill="none"/>
<path d="M700.8,335 L707.2,339.8" stroke="#FF7F00" stroke-width="2.4" fill="none"/>
<path d="M785.4,228.2 L792,233.4" stroke="#14B81C" stroke-width="2" fill="none"/>
<path d="M792,181.7 L796.5,183.9" stroke="#4C7CB4" stroke-width="2" fill="none"/>
<path d="M119.2,130.1 L129.2,117.3" stroke="#5468A4" stroke-width="1.6" fill="none"/>
<path d="M198.6,143.8 L209.6,133.8" stroke="#4A6CAA" stroke-width="2.4" fill="none"/>
<path d="M213.2,142.9 L224.2,132.9" stroke="#4660A3" stroke-width="2" fill="none"/>
<path d="M226,147.5 L232.4,142" stroke="#4C7CB4" stroke-width="2" fill="none"/>
<path d="M195,180.4 L202.3,171.2" stroke="#5468A4" stroke-width="2.4" fill="none"/>
<path d="M252.5,257 L260.7,255.2" stroke="#4A6CAA" stroke-width="2" fill="none"/>
<path d="M256.1,178.5 L259.8,174" stroke="#4660A3" stroke-width="1.6" fill="none"/>
<path d="M326.4,144.1 L330.9,141.6" stroke="#5AB0D4" stroke-width="1.76" fill="none"/>
<path d="M330.9,141.6 L335.8,138.1" stroke="#FCD80C" stroke-width="1.76" fill="none"/>
<path d="M335.8,138.1 L342.7,133.6" stroke="#0E7E16" stroke-width="2" fill="none"/>
<path d="M344.8,136 L350.4,132.2" stroke="#14B81C" stroke-width="1.76" fill="none"/>
<path d="M350.4,132.2 L355.3,129" stroke="#5AB0D4" stroke-width="1.76" fill="none"/>
<path d="M374.8,63.5 L379.7,61.4" stroke="#5468A4" stroke-width="1.6" fill="none"/>
<path d="M100,70 L127,44" stroke="#0E7E16" stroke-width="1.6" fill="none"/>
<path d="M840.8,55.4 L847.2,60.3" stroke="#62BEDC" stroke-width="2" fill="none"/>
<path d="M847.2,60.3 L853.6,65.2" stroke="#4C7CB4" stroke-width="1.6" fill="none"/>
<path d="M963.9,90.1 L975.2,102.9" stroke="#40D466" stroke-width="2.4" fill="none"/>
<path d="M866.4,111.5 L878.1,121.1" stroke="#4A6CAA" stroke-width="2" fill="none"/>
<path d="M884.5,116.4 L889.9,121.1" stroke="#0E7E16" stroke-width="2.4" fill="none"/>
<path d="M828,155.2 L835.5,162.7" stroke="#4C7CB4" stroke-width="1.6" fill="none"/>
<path d="M831.2,150.9 L837.6,159.5" stroke="#5468A4" stroke-width="1.6" fill="none"/>
<path d="M792.8,180.8 L796,184" stroke="#4A6CAA" stroke-width="2" fill="none"/>
<path d="M813.1,202.1 L820.5,209.6" stroke="#14B81C" stroke-width="2.4" fill="none"/>
<path d="M820.5,209.6 L824.8,213.8" stroke="#5AB0D4" stroke-width="2" fill="none"/>
<path d="M786.4,227.7 L791.7,233" stroke="#62BEDC" stroke-width="2" fill="none"/>
<path d="M866.4,197.8 L869.2,203.2" stroke="#4A6CAA" stroke-width="1.2" fill="none"/>
<path d="M1009.3,157.3 L1013.6,164.8" stroke="#4660A3" stroke-width="2.4" fill="none"/>
<path d="M1012.5,174.4 L1015.7,181.9" stroke="#4C7CB4" stroke-width="2.4" fill="none"/>
<path d="M1018.9,172.3 L1027.4,186.1" stroke="#40D466" stroke-width="2.4" fill="none"/>
<path d="M992.2,168 L997.6,174.4" stroke="#4A6CAA" stroke-width="1.2" fill="none"/>
<path d="M898.4,217 L902.7,221.3 L905.9,227.3" stroke="#0E7E16" stroke-width="2.8" fill="none"/>
<path d="M897.3,224.5 L901.6,236.2" stroke="#4C7CB4" stroke-width="1.2" fill="none"/>
<path d="M923.3,208.5 L927.2,214.9" stroke="#5468A4" stroke-width="1.2" fill="none"/>
<path d="M846.1,266.3 L857.9,280.1" stroke="#4A6CAA" stroke-width="2.4" fill="none"/>
<path d="M781.1,297.2 L788.5,311.1" stroke="#14B81C" stroke-width="2.4" fill="none"/>
<path d="M781.1,308.9 L783.2,313.2" stroke="#FCD80C" stroke-width="1.6" fill="none"/>
<path d="M783.2,313.2 L787.5,320.7" stroke="#5468A4" stroke-width="2" fill="none"/>
<path d="M791.7,301.5 L798.1,308.9" stroke="#20C040" stroke-width="3.2" fill="none"/>
<path d="M792.8,310 L799.2,319.6" stroke="#62BEDC" stroke-width="3.2" fill="none"/>
<path d="M799.2,319.6 L803.5,322.8" stroke="#4C7CB4" stroke-width="2" fill="none"/>
<path d="M821.6,297.2 L824.8,303.6" stroke="#5468A4" stroke-width="1.6" fill="none"/>
<path d="M810.9,340.9 L813.1,355.9" stroke="#4A6CAA" stroke-width="2" fill="none"/>
<path d="M821.6,350.5 L823.7,358" stroke="#4660A3" stroke-width="1.6" fill="none"/>
<path d="M797.1,379.3 L797.1,394.2" stroke="#4C7CB4" stroke-width="2.4" fill="none"/>
<path d="M833.5,402.8 L833.5,411.3" stroke="#5468A4" stroke-width="1.2" fill="none"/>
<path d="M823.7,417.7 L823.7,425.2" stroke="#4A6CAA" stroke-width="2" fill="none"/>
<path d="M797.5,417.7 L797.5,423" stroke="#4660A3" stroke-width="1.2" fill="none"/>
<path d="M805.4,422 L805.4,429.4" stroke="#4C7CB4" stroke-width="1.2" fill="none"/>
<path d="M741.9,338.4 L745.3,350" stroke="#14B81C" stroke-width="2.4" fill="none"/>
<path d="M745.3,350 L747.2,356.9" stroke="#FCD80C" stroke-width="1.6" fill="none"/>
<path d="M745.3,331.5 L753.4,339.6" stroke="#62BEDC" stroke-width="1.6" fill="none"/>
<path d="M781.1,299.2 L789.2,313.1" stroke="#20C040" stroke-width="2.4" fill="none"/>
<path d="M781.1,310.3 L782.7,312.6" stroke="#FCD80C" stroke-width="2.4" fill="none"/>
<path d="M791.5,300.4 L800.7,315.4" stroke="#5AB0D4" stroke-width="3.2" fill="none"/>
<path d="M796.1,313.1 L803,322.3" stroke="#4660A3" stroke-width="2" fill="none"/>
<path d="M822.6,296.9 L824.2,313.1" stroke="#4C7CB4" stroke-width="1.2" fill="none"/>
<path d="M811.5,340.7 L812.2,356.9" stroke="#5468A4" stroke-width="2" fill="none"/>
<path d="M821.9,345.4 L822.6,356.9" stroke="#4A6CAA" stroke-width="1.6" fill="none"/>
<path d="M642.7,352.7 L653.1,361.5" stroke="#4660A3" stroke-width="1.6" fill="none"/>
<path d="M699.2,354.6 L705,363.8" stroke="#20C040" stroke-width="1.6" fill="none"/>
<path d="M709.6,359.2 L718.8,364.3" stroke="#62BEDC" stroke-width="1.6" fill="none"/>
<path d="M685.8,368.4 L691.8,382.3" stroke="#4A6CAA" stroke-width="1.6" fill="none"/>
<path d="M734.5,366.1 L736.1,377.7" stroke="#14B81C" stroke-width="1.6" fill="none"/>
<path d="M741.4,380 L743,391.5" stroke="#20C040" stroke-width="2.4" fill="none"/>
<path d="M741.9,389.2 L744,396.1" stroke="#FCD80C" stroke-width="2" fill="none"/>
<path d="M747.2,375.8 L754.1,384.1" stroke="#20C040" stroke-width="2" fill="none"/>
<path d="M753.4,400.7 L755,414.6" stroke="#14B81C" stroke-width="2" fill="none"/>
<path d="M756.4,414.6 L757.6,423.8" stroke="#20C040" stroke-width="2" fill="none"/>
<path d="M763.3,414.6 L767.9,428.4" stroke="#62BEDC" stroke-width="2.4" fill="none"/>
<path d="M744.2,419.2 L748.8,433" stroke="#4A6CAA" stroke-width="3.2" fill="none"/>
<path d="M723.7,428.4 L724.6,437.6" stroke="#4660A3" stroke-width="2.4" fill="none"/>
<path d="M755.7,435.8 L758.7,446.9" stroke="#5AB0D4" stroke-width="2" fill="none"/>
<path d="M694.6,416.9 L695.1,424.9" stroke="#5468A4" stroke-width="2.08" fill="none"/>
<path d="M699.2,419.2 L699.7,426.1" stroke="#4A6CAA" stroke-width="2.08" fill="none"/>
<path d="M706.1,424.9 L706.6,430.7" stroke="#4660A3" stroke-width="2.08" fill="none"/>
<path d="M711.9,419.2 L712.4,428.4" stroke="#4C7CB4" stroke-width="2.08" fill="none"/>
<path d="M716.5,415.7 L717,422.6" stroke="#5468A4" stroke-width="2.08" fill="none"/>
<path d="M718.8,428.4 L719.3,437.6" stroke="#4A6CAA" stroke-width="2.08" fill="none"/>
<path d="M723.4,416.9 L723.9,421.5" stroke="#4660A3" stroke-width="2.08" fill="none"/>
<path d="M731.5,433 L732,439.9" stroke="#4C7CB4" stroke-width="2.08" fill="none"/>
<path d="M735,428.4 L735.4,434.2" stroke="#5468A4" stroke-width="2.08" fill="none"/>
<path d="M738.4,426.1 L738.9,430.7" stroke="#4A6CAA" stroke-width="2.08" fill="none"/>
<path d="M701.5,413.4 L702,416.9" stroke="#4660A3" stroke-width="2.08" fill="none"/>
<path d="M726.9,449.2 L727.3,457.2" stroke="#4C7CB4" stroke-width="2.08" fill="none"/>
<path d="M722.3,451.5 L722.7,458.4" stroke="#5468A4" stroke-width="2.08" fill="none"/>
<path d="M709.6,437.6 L710,444.6" stroke="#4A6CAA" stroke-width="2.08" fill="none"/>
<path d="M683.1,430.7 L683.5,435.3" stroke="#4660A3" stroke-width="2.08" fill="none"/>
<path d="M692.3,460.7 L692.7,466.5" stroke="#4C7CB4" stroke-width="2.08" fill="none"/>
<path d="M685.4,474.5 L685.8,478" stroke="#5468A4" stroke-width="2.08" fill="none"/>
<path d="M680.7,467.6 L681.2,470.4" stroke="#4A6CAA" stroke-width="2.08" fill="none"/>
<path d="M658.8,472.2 L659.3,475.7" stroke="#4660A3" stroke-width="2.08" fill="none"/>
<path d="M653.1,458.4 L653.5,461.9" stroke="#4C7CB4" stroke-width="2.08" fill="none"/>
<path d="M675,474.5 L675.4,477.3" stroke="#5468A4" stroke-width="2.08" fill="none"/>
<path d="M664.6,481.5 L665.1,483.8" stroke="#4A6CAA" stroke-width="2.08" fill="none"/>
<path d="M700.4,433 L700.8,437.2" stroke="#4660A3" stroke-width="2.08" fill="none"/>
<path d="M714.2,439.9 L714.7,445.7" stroke="#4C7CB4" stroke-width="2.08" fill="none"/>
<path d="M716.5,437.6 L717.7,443.4" stroke="#14B81C" stroke-width="1.6" fill="none"/>
<path d="M799.6,461.9 L797.9,474.5" stroke="#20C040" stroke-width="2.4" fill="none"/>
<path d="M799.8,454.2 L800.2,458.9" stroke="#4660A3" stroke-width="1.6" fill="none"/>
<path d="M804.2,503.4 L801.2,511.5" stroke="#20C040" stroke-width="2.4" fill="none"/>
<path d="M801.9,517.2 L801.2,524.1" stroke="#5468A4" stroke-width="1.6" fill="none"/>
<path d="M824.2,493 L822.8,499.9" stroke="#20C040" stroke-width="1.2" fill="none"/>
<path d="M763.8,511.5 L764.7,514.9" stroke="#4660A3" stroke-width="2" fill="none"/>
<path d="M773.5,517.2 L771.2,521.8" stroke="#20C040" stroke-width="1.6" fill="none"/>
<path d="M675,324.6 L678,335" stroke="#5468A4" stroke-width="2" fill="none"/>
<path d="M694.1,324.6 L698.7,331.5" stroke="#4A6CAA" stroke-width="2.4" fill="none"/>
<path d="M450,578 L454.2,577.5" stroke="#14B81C" stroke-width="2.4" fill="none"/>
<path d="M465,593.4 L474.2,595" stroke="#4C7CB4" stroke-width="2" fill="none"/>
<path d="M496.1,590 L499.6,591.1" stroke="#62BEDC" stroke-width="2" fill="none"/>
<path d="M481.1,614.2 L496.1,626.4" stroke="#4A6CAA" stroke-width="2" fill="none"/>
<path d="M575.7,604.3 L588.4,603.1" stroke="#62BEDC" stroke-width="2.4" fill="none"/>
<path d="M621.9,647.2 L635.7,643.5" stroke="#5AB0D4" stroke-width="2.4" fill="none"/>
<path d="M632.2,529.5 L638,528.1" stroke="#5468A4" stroke-width="2.4" fill="none"/>
<path d="M642.6,546.6 L646.1,546.1" stroke="#4A6CAA" stroke-width="2" fill="none"/>
<path d="M641.5,636.6 L646.1,635.2" stroke="#4660A3" stroke-width="2" fill="none"/>
<path d="M480,670.7 L484.6,669.6" stroke="#4C7CB4" stroke-width="2.4" fill="none"/>
<path d="M505.4,677.6 L519.2,679" stroke="#5468A4" stroke-width="2.4" fill="none"/>
<path d="M512.3,652.2 L516.9,651.8" stroke="#4A6CAA" stroke-width="2" fill="none"/>
<path d="M503.1,668.4 L507.7,667.9" stroke="#4660A3" stroke-width="2" fill="none"/>
<path d="M505.4,684.5 L513.4,685" stroke="#4C7CB4" stroke-width="2" fill="none"/>
<path d="M498.4,688.7 L503.1,689.2" stroke="#62BEDC" stroke-width="2.4" fill="none"/>
<path d="M507.7,689.6 L512.3,691" stroke="#4A6CAA" stroke-width="2" fill="none"/>
<path d="M534.2,671.2 L537.7,671.9" stroke="#4660A3" stroke-width="2.4" fill="none"/>
<path d="M535.4,697.2 L544.6,697.5" stroke="#4C7CB4" stroke-width="2" fill="none"/>
<path d="M515.7,705.8 L528.4,710.4" stroke="#5468A4" stroke-width="2.8" fill="none"/>
<path d="M529.6,714.1 L537.7,716.1" stroke="#4A6CAA" stroke-width="1.6" fill="none"/>
<path d="M518.1,714.1 L522.7,714.5" stroke="#4660A3" stroke-width="2" fill="none"/>
<path d="M564.2,710.4 L568.8,710.4" stroke="#4C7CB4" stroke-width="2.4" fill="none"/>
<path d="M454.6,723.3 L459.2,724.7" stroke="#5468A4" stroke-width="2" fill="none"/>
<path d="M465,727.5 L470.8,729.3" stroke="#20C040" stroke-width="2.4" fill="none"/>
<path d="M537.2,729.5 L542.7,730.2" stroke="#62BEDC" stroke-width="2.8" fill="none"/>
<path d="M146.7,439.2 L148.1,445.1" stroke="#4C7CB4" stroke-width="2.4" fill="none"/>
<path d="M160,432.4 L162.6,443" stroke="#5468A4" stroke-width="2.4" fill="none"/>
<path d="M165,437.7 L166.2,443" stroke="#4A6CAA" stroke-width="2" fill="none"/>
<path d="M185.1,443 L185.6,456.9" stroke="#4660A3" stroke-width="1.76" fill="none"/>
<path d="M272.8,464.3 L273.1,470.8" stroke="#4C7CB4" stroke-width="2.24" fill="none"/>
<path d="M299.6,485 L301.4,493.8" stroke="#5468A4" stroke-width="1.44" fill="none"/>
<path d="M354.6,420.6 L356.3,424.4" stroke="#5AB0D4" stroke-width="2.4" fill="none"/>
<path d="M279.9,420 L280.4,424.4" stroke="#4660A3" stroke-width="1.44" fill="none"/>
<path d="M415.7,452.5 L418.1,458.4" stroke="#5AB0D4" stroke-width="1.6" fill="none"/>
<path d="M389.4,483.5 L395.3,488.5" stroke="#5468A4" stroke-width="3.2" fill="none"/>
<path d="M413.1,489.1 L419,492.1" stroke="#20C040" stroke-width="2.4" fill="none"/>
<path d="M423.4,492.4 L435.2,507.1" stroke="#4660A3" stroke-width="2.4" fill="none"/>
<path d="M331.5,530.8 L332.4,535.2" stroke="#4C7CB4" stroke-width="1.44" fill="none"/>
<path d="M272.5,557.3 L276.9,566.2" stroke="#5468A4" stroke-width="2" fill="none"/>
<path d="M282.8,589.2 L286.4,592.5" stroke="#4A6CAA" stroke-width="2.56" fill="none"/>
<path d="M198.3,575.1 L199.5,579.5" stroke="#4660A3" stroke-width="1.2" fill="none"/>
<path d="M203.7,572.4 L209.6,583" stroke="#4C7CB4" stroke-width="2" fill="none"/>
<path d="M388.8,570 L395.3,578" stroke="#14B81C" stroke-width="3.2" fill="none"/>
<path d="M401.2,578 L407.1,583" stroke="#FCD80C" stroke-width="2.8" fill="none"/>
<path d="M404.2,585.4 L411.6,592.8" stroke="#62BEDC" stroke-width="3.2" fill="none"/>
<path d="M428.4,588.3 L433.1,592.8" stroke="#20C040" stroke-width="2.4" fill="none"/>
<path d="M417.5,595.7 L423.4,598.7" stroke="#5468A4" stroke-width="2" fill="none"/>
<path d="M429.3,600.2 L436.7,603.7" stroke="#4A6CAA" stroke-width="2.4" fill="none"/>
<path d="M441.1,610.5 L444.1,612" stroke="#4660A3" stroke-width="2" fill="none"/>
<path d="M441.1,569.1 L447,575.1" stroke="#4C7CB4" stroke-width="1.44" fill="none"/>
<path d="M447,575.9 L454.4,578.9" stroke="#14B81C" stroke-width="2" fill="none"/>
<path d="M362.3,606.7 L365.8,609" stroke="#4A6CAA" stroke-width="2" fill="none"/>
<path d="M405.7,634.1 L410.7,637.1" stroke="#4660A3" stroke-width="1.44" fill="none"/>
<path d="M442.6,645.9 L448.5,651.8" stroke="#4C7CB4" stroke-width="2.4" fill="none"/>
<path d="M451.4,654.8 L460,663.7" stroke="#5468A4" stroke-width="2.8" fill="none"/>
<path d="M424.9,664.5 L442.6,671.6" stroke="#4A6CAA" stroke-width="1.6" fill="none"/>
<path d="M427.8,656.3 L430.8,657.7" stroke="#4660A3" stroke-width="1.6" fill="none"/>
<path d="M436.7,658.6 L439.6,659.8" stroke="#4C7CB4" stroke-width="1.6" fill="none"/>
<path d="M450,671.6 L452.9,673.4" stroke="#5468A4" stroke-width="1.6" fill="none"/>
<path d="M115.4,645 L119.2,651.8" stroke="#5AB0D4" stroke-width="1.44" fill="none"/>
<path d="M275.7,721 L281.6,724.8" stroke="#4660A3" stroke-width="2.4" fill="none"/>
<path d="M105.3,744.6 L110.3,750.5" stroke="#5AB0D4" stroke-width="1.76" fill="none"/>
<path d="M110.3,750.5 L118.3,759.4" stroke="#5468A4" stroke-width="2" fill="none"/>
<path d="M98.5,920.4 L116.2,935.7" stroke="#4A6CAA" stroke-width="2.4" fill="none"/>
<path d="M310.3,915.9 L320.9,920.4" stroke="#4660A3" stroke-width="2.8" fill="none"/>
<path d="M361.4,917.4 L370.2,921.8" stroke="#4C7CB4" stroke-width="3.2" fill="none"/>
<path d="M439,916.2 L447.9,917.1" stroke="#5468A4" stroke-width="1.44" fill="none"/>
<path d="M436.7,752.6 L443.2,755" stroke="#5AB0D4" stroke-width="1.6" fill="none"/>
<path d="M438.2,721 L442,723.1" stroke="#4660A3" stroke-width="1.44" fill="none"/>
<path d="M665.8,659.5 L677.1,654.8" stroke="#20C040" stroke-width="2.8" fill="none"/>
<path d="M652.6,659.5 L656.1,662.4" stroke="#5468A4" stroke-width="3.2" fill="none"/>
<path d="M684.5,646.5 L694.8,643" stroke="#20C040" stroke-width="2.8" fill="none"/>
<path d="M669.7,643.5 L684.5,641.8" stroke="#4660A3" stroke-width="2.4" fill="none"/>
<path d="M652,642.4 L660.8,641.8" stroke="#4C7CB4" stroke-width="2" fill="none"/>
<path d="M683,693.8 L693.3,690.8" stroke="#14B81C" stroke-width="2.4" fill="none"/>
<path d="M682.1,702 L691.8,699.7" stroke="#20C040" stroke-width="2.4" fill="none"/>
<path d="M697.7,677.5 L708.1,673.7" stroke="#4660A3" stroke-width="2" fill="none"/>
<path d="M685.9,672.2 L689.8,671" stroke="#4C7CB4" stroke-width="1.44" fill="none"/>
<path d="M725.8,683.1 L730.2,681.1" stroke="#5468A4" stroke-width="2.4" fill="none"/>
<path d="M748.8,689.3 L757.7,684" stroke="#4A6CAA" stroke-width="2" fill="none"/>
<path d="M743.5,736 L749.4,733.9" stroke="#4660A3" stroke-width="1.2" fill="none"/>
<path d="M695.7,751.3 L702.2,749.6" stroke="#4C7CB4" stroke-width="1.6" fill="none"/>
<path d="M623.9,761.1 L629.8,760.2" stroke="#5468A4" stroke-width="2.4" fill="none"/>
<path d="M675.6,767.3 L686.8,764.9" stroke="#5AB0D4" stroke-width="2" fill="none"/>
<path d="M545.1,776.1 L550.1,777.3" stroke="#4660A3" stroke-width="1.44" fill="none"/>
<path d="M551.6,782.1 L570.8,785.9" stroke="#4C7CB4" stroke-width="2.4" fill="none"/>
<path d="M471.8,744 L479.2,745.4" stroke="#5468A4" stroke-width="1.6" fill="none"/>
<path d="M780.4,814.5 L793.1,809.2" stroke="#5AB0D4" stroke-width="2.8" fill="none"/>
<path d="M891.7,610.2 L897.2,601.3" stroke="#4660A3" stroke-width="2.4" fill="none"/>
<path d="M869.5,627.1 L876.1,619.5" stroke="#4C7CB4" stroke-width="2.8" fill="none"/>
<path d="M1008.1,620.7 L1010.4,615.2" stroke="#5468A4" stroke-width="1.44" fill="none"/>
<path d="M983.7,662 L991.3,651.2" stroke="#4A6CAA" stroke-width="2" fill="none"/>
<path d="M1000.6,702.1 L1002.6,696.6" stroke="#4660A3" stroke-width="1.44" fill="none"/>
<path d="M938.3,721.2 L943.8,715.7" stroke="#4C7CB4" stroke-width="2" fill="none"/>
<path d="M983.9,743.4 L987.1,738.9" stroke="#5468A4" stroke-width="2" fill="none"/>
<path d="M961.1,798.8 L967.4,793.5" stroke="#4A6CAA" stroke-width="1.6" fill="none"/>
<path d="M861.1,795.2 L867.6,790.7" stroke="#62BEDC" stroke-width="1.6" fill="none"/>
<path d="M831.7,651.4 L833,648" stroke="#4C7CB4" stroke-width="1.44" fill="none"/>
<path d="M655.1,524.1 L661.3,528.2" stroke="#62BEDC" stroke-width="2.4" fill="none"/>
<path d="M650,547.3 L656.2,546.9" stroke="#4A6CAA" stroke-width="2.4" fill="none"/>
<path d="M685.9,567.8 L690,569.8" stroke="#4660A3" stroke-width="2.4" fill="none"/>
<path d="M691,569.8 L701.3,564.5" stroke="#20C040" stroke-width="3.2" fill="none"/>
<path d="M687.9,582.5 L694.1,580.9" stroke="#62BEDC" stroke-width="2.4" fill="none"/>
<path d="M689,597.3 L697.2,594.8" stroke="#20C040" stroke-width="3.2" fill="none"/>
<path d="M682.8,604.1 L694.1,605.1" stroke="#4660A3" stroke-width="2.4" fill="none"/>
<path d="M763.2,511.2 L765.5,513.4" stroke="#4C7CB4" stroke-width="2.4" fill="none"/>
<path d="M771.4,521.6 L774.7,516.3" stroke="#14B81C" stroke-width="2" fill="none"/>
<path d="M750.9,530.9 L754.2,526.6" stroke="#5AB0D4" stroke-width="2" fill="none"/>
<path d="M738.6,537 L741.9,532.7" stroke="#4660A3" stroke-width="2" fill="none"/>
<path d="M721.2,530.9 L726.5,526.6" stroke="#4C7CB4" stroke-width="1.44" fill="none"/>
<path d="M800.7,514.5 L803.4,517.5" stroke="#5468A4" stroke-width="2.4" fill="none"/>
<path d="M799.7,521.4 L800.9,525.1" stroke="#5AB0D4" stroke-width="2" fill="none"/>
<path d="M822.7,500.1 L824.5,492.7" stroke="#14B81C" stroke-width="1.44" fill="none"/>
<path d="M857.5,500.1 L858.8,495.8" stroke="#4C7CB4" stroke-width="1.44" fill="none"/>
<path d="M869,497 L871.1,492.7" stroke="#5468A4" stroke-width="2.4" fill="none"/>
<path d="M859.6,512.8 L864.9,517.3" stroke="#4A6CAA" stroke-width="2.4" fill="none"/>
<path d="M729.4,571.3 L733.7,568.6" stroke="#4660A3" stroke-width="2.4" fill="none"/>
<path d="M736.5,604.7 L742.9,598.3" stroke="#4C7CB4" stroke-width="2.4" fill="none"/>
<path d="M869.9,627.3 L876.2,617.8" stroke="#5468A4" stroke-width="2.8" fill="none"/>
<path d="M891.4,610.8 L897.7,600.4" stroke="#4A6CAA" stroke-width="2.8" fill="none"/>
<path d="M831.9,650.8 L833.3,647.6" stroke="#4660A3" stroke-width="1.44" fill="none"/>
<path d="M654.1,630.3 L663.3,627" stroke="#20C040" stroke-width="2.4" fill="none"/>
<path d="M670.5,633.4 L675.6,631.1" stroke="#5468A4" stroke-width="2.4" fill="none"/>
<path d="M652.1,643.7 L660.3,641.4" stroke="#5AB0D4" stroke-width="2" fill="none"/>
<path d="M669.5,644.1 L680.8,638.9" stroke="#4660A3" stroke-width="2" fill="none"/>
<path d="M672.6,646.5 L683.8,642" stroke="#4C7CB4" stroke-width="2" fill="none"/>
<path d="M670.5,638.9 L678.7,635.9" stroke="#5468A4" stroke-width="2" fill="none"/>
<path d="M675.6,635.9 L682.8,632.8" stroke="#4A6CAA" stroke-width="2" fill="none"/>
<path d="M664.4,630.7 L667.4,629.3" stroke="#4660A3" stroke-width="2" fill="none"/>
<path d="M682.8,645.7 L694.1,642.4" stroke="#20C040" stroke-width="2.8" fill="none"/>
<path d="M665.4,660.1 L677.7,654.7" stroke="#14B81C" stroke-width="3.2" fill="none"/>
<path d="M684.9,651.9 L694.1,647.8" stroke="#20C040" stroke-width="2.8" fill="none"/>
<path d="M658.2,656.8 L662.3,655.8" stroke="#4660A3" stroke-width="2.4" fill="none"/>
<path d="M651,662.5 L655.7,658.8" stroke="#4C7CB4" stroke-width="3.2" fill="none"/>
<path d="M697.2,676.5 L708.4,673.2" stroke="#5468A4" stroke-width="2" fill="none"/>
<path d="M685.9,672.4 L690,671.1" stroke="#4A6CAA" stroke-width="1.6" fill="none"/>
<path d="M717.7,650.8 L720.8,649.6" stroke="#4660A3" stroke-width="1.6" fill="none"/>
<path d="M655.1,609.8 L658.2,608.6" stroke="#20C040" stroke-width="1.6" fill="none"/>
<path d="M675.6,614.7 L682.8,613.7" stroke="#5468A4" stroke-width="1.44" fill="none"/>
<path d="M146.6,188.6 L150.1,182.2" stroke="#20C040" stroke-width="2.56" fill="none"/>
<path d="M118.3,182.2 L120.5,178.2" stroke="#14B81C" stroke-width="2.56" fill="none"/>
<path d="M150.2,230 L154.2,222.7" stroke="#20C040" stroke-width="2.56" fill="none"/>
<path d="M154.8,230.6 L158.3,224.2" stroke="#14B81C" stroke-width="2.56" fill="none"/>
<path d="M182.2,217.8 L184.7,213.2" stroke="#20C040" stroke-width="2.56" fill="none"/>
<path d="M185.8,218.7 L188,214.7" stroke="#14B81C" stroke-width="2.56" fill="none"/>
<path d="M233.3,224.7 L236.1,219.6" stroke="#20C040" stroke-width="2.56" fill="none"/>
<path d="M236,224.2 L238.1,220.5" stroke="#14B81C" stroke-width="2.56" fill="none"/>
<path d="M147.8,157.5 L150.9,152" stroke="#20C040" stroke-width="2.56" fill="none"/>
<path d="M596.6,470.9 L608.7,470.4" stroke="#FCD80C" stroke-width="1.28" fill="none"/>
<path d="M252.7,256.5 L256.9,252.6" stroke="#4C7CB4" stroke-width="2" fill="none"/>
<path d="M259.2,257.2 L261.5,254.4" stroke="#5468A4" stroke-width="1.6" fill="none"/>
<path d="M212.3,287.7 L212.8,292.7" stroke="#4A6CAA" stroke-width="2" fill="none"/>
<path d="M175,308 L178,301.5" stroke="#4660A3" stroke-width="2.4" fill="none"/>
<path d="M245.3,322.3 L246.7,319" stroke="#4C7CB4" stroke-width="1.6" fill="none"/>
<path d="M287.3,347.6 L290.1,338.4" stroke="#5468A4" stroke-width="2" fill="none"/>
<path d="M114.8,323.4 L115.2,331.5" stroke="#4A6CAA" stroke-width="2.8" fill="none"/>
<path d="M280.2,415.7 L280.6,424.9" stroke="#4660A3" stroke-width="1.6" fill="none"/>
<path d="M159.5,430.7 L160.4,438.8" stroke="#4C7CB4" stroke-width="2" fill="none"/>
<path d="M162.7,431.8 L163.7,437.6" stroke="#5468A4" stroke-width="1.6" fill="none"/>
<path d="M423.3,346.5 L426.3,346.1" stroke="#4A6CAA" stroke-width="2.8" fill="none"/>
<path d="M556.3,52.7 L577.3,53" stroke="#4660A3" stroke-width="1.44" fill="none"/>
<path d="M563.7,52.4 L570.5,52.7" stroke="#20C040" stroke-width="2.4" fill="none"/>
<path d="M558.1,95.5 L569,95.8" stroke="#5468A4" stroke-width="2.4" fill="none"/>
<path d="M581.7,98.5 L594.1,99.1" stroke="#5AB0D4" stroke-width="2" fill="none"/>
<path d="M600,101.1 L612.7,102.6" stroke="#0E7E16" stroke-width="2" fill="none"/>
<path d="M620.7,102.6 L636.3,104.4" stroke="#20C040" stroke-width="2.4" fill="none"/>
<path d="M642.8,107.3 L648.2,108.5" stroke="#5468A4" stroke-width="1.44" fill="none"/>
<path d="M649.3,105.6 L660.6,107.3" stroke="#B0B00C" stroke-width="2" fill="none"/>
<path d="M546.9,126.2 L551.9,126.5" stroke="#4660A3" stroke-width="1.44" fill="none"/>
<path d="M420.5,138.9 L425.8,136.9" stroke="#4C7CB4" stroke-width="1.2" fill="none"/>
<path d="M704.9,61.3 L712.3,64.2" stroke="#14B81C" stroke-width="2" fill="none"/>
<path d="M712.3,64.2 L718.2,66.6" stroke="#5AB0D4" stroke-width="2" fill="none"/>
<path d="M728.5,68.9 L734.4,71.9" stroke="#0E7E16" stroke-width="2.24" fill="none"/>
<path d="M734.4,71.9 L738.8,74" stroke="#4C7CB4" stroke-width="2" fill="none"/>
<path d="M703.4,46.5 L709.3,48.3" stroke="#5468A4" stroke-width="2" fill="none"/>
<path d="M754,76.4 L760.4,78.8" stroke="#4A6CAA" stroke-width="2" fill="none"/>
<path d="M989.8,562.9 L992.2,556.7" stroke="#4660A3" stroke-width="2.4" fill="none"/>
<path d="M947,586 L948.7,581.5" stroke="#4C7CB4" stroke-width="2.4" fill="none"/>
<path d="M966.6,587.2 L972.6,575.1" stroke="#62BEDC" stroke-width="4" fill="none"/>
<path d="M963.5,593.2 L965.7,587.2" stroke="#4A6CAA" stroke-width="1.6" fill="none"/>
<path d="M677.3,393.8 L690.0,389.2 L695.7,378.8 L703.8,380.0 L709.6,375.4 L715.4,382.3 L726.9,388.0 L737.3,390.3 L738.4,395.0 L731.5,399.6 L730.3,407.6 L735.0,414.6 L731.5,423.8 L726.9,430.7 L722.3,437.6 L717.7,449.2 M654.2,449.2 L664.6,451.5 L676.1,441.1 L685.4,449.2 L690.4,444.6 L695.7,453.8 L703.8,450.3 L713.0,456.1 L717.7,449.2 M717.7,449.2 L716.5,460.7 L711.9,465.3 L714.2,474.5 L729.2,472.2 L740.7,468.8 L750.0,475.7 L763.8,472.2 L777.6,473.4 L782.2,482.6 L796.1,486.1 L800.7,474.5 L805.3,465.3 L819.2,461.9 M738.4,395.0 L745.3,398.4 L743.0,410.0 L750.0,400.7 L759.2,400.7 L768.4,403.0 L774.2,410.0 M750.0,400.7 L752.3,412.3 L751.1,423.8 L755.7,430.7 L768.4,439.9 L777.6,449.2 L786.9,442.2 L794.9,441.1 M729.2,472.2 L724.6,481.5 M681.8,590.7 L686.9,591.8 L685.9,597.9 L694.1,594.8 L703.3,590.7 L710.5,586.6 L719.7,585.6 L722.8,582.5 L720.8,573.3 L731.0,567.2 L738.2,555.9 L741.3,550.8 L750.5,552.8 L748.4,541.5 L749.5,534.3 M686.9,524.7 L699.2,529.2 L711.5,521.0 L718.7,520.0 L720.8,530.2 L732.0,534.3 L740.2,531.3 L749.5,534.3 L756.6,534.3 L773.1,535.4 L778.2,523.1 L793.6,509.7 L797.7,507.7 M718.7,520.0 L714.6,500.5 L719.7,492.3 L720.8,485.1 L727.9,480.0 M795.6,486.6 L796.6,492.3 L804.8,496.4 L806.9,504.6 L803.8,510.8 L820.2,517.9 L832.5,513.8 L840.7,506.7 L846.9,509.7 L853.0,515.9 L861.2,512.8 L867.4,510.8 L875.6,514.9 M773.1,535.4 L789.5,537.4 L801.8,537.4 L807.9,547.7 L812.0,557.9 L817.1,565.1 L826.4,570.2 L837.7,575.4 M817.1,565.1 L810.0,570.2 L807.9,574.3 L813.0,577.4 L807.9,581.5 L801.8,584.6 L793.6,590.7 L789.5,596.9 L791.5,604.1 L793.6,616.4 M722.8,582.5 L736.1,580.5 L744.3,580.5 L750.5,588.7 L752.5,591.8 L764.8,594.8 L772.0,601.0 L770.0,611.3 L777.2,608.2 L791.5,604.1" stroke="#8c8c8c" stroke-width="1.4" fill="none" stroke-linejoin="round"/>
<path d="M100.0,228.1 L101.8,228.8 L108.8,225.8 L113.8,234.6 L125.4,246.1 L132.3,247.3 L138.1,254.2 L140.4,266.9 L143.8,270.4 L151.2,270.4 L151.9,266.9 L148.4,262.7 L151.2,259.5 L157.7,262.3 L164.6,265.7 L168.7,273.4 L157.7,285.4 L153.1,291.1 L147.8,292.7 L149.1,299.2 L147.8,310.7 L149.6,315.3 L142.7,321.1 L140.4,328.0 L146.1,331.0 L153.1,329.2 L161.1,329.2 L162.7,339.6 L165.7,343.0 L168.7,351.1 L172.0,356.9 L170.4,361.5 L162.3,364.9 L158.8,368.4 L150.7,369.6 L148.0,371.9 L142.7,383.4 L145.0,388.0 L150.7,391.9 L148.4,398.4 L144.3,400.7 L153.1,403.5 L160.4,406.5 L162.3,411.8 L176.1,408.8 L192.3,406.5 L196.9,405.3 L201.5,408.8 L206.6,409.5 L208.9,412.2 L220.0,412.2 L225.7,415.0 L232.6,417.3 L238.4,419.6 L247.6,415.7 L259.2,415.7 L264.2,412.2 L269.6,405.3 L275.3,404.2 L279.9,399.5 L286.9,397.2 L300.0,395.6 L296.1,396.1 L305.4,393.1 L315.1,392.0 L313.4,385.7 L315.1,375.4 L315.8,364.3 L312.3,361.0 L314.6,352.3 L319.2,345.8 L333.5,339.1 L336.5,329.2 L340.4,326.4 L352.0,317.7 L355.0,313.8 L357.3,318.8 L372.3,320.0 L374.1,324.6 L378.7,327.4 L373.4,331.1 L369.5,337.3 L370.4,346.5 L368.8,348.8 L366.5,345.4 L360.7,348.1 L360.3,356.9 L355.0,362.7 L359.6,366.1 L360.7,370.7 L356.1,377.7 L353.4,389.2 L350.4,397.3 L346.4,400.7 L345.7,407.6 L349.2,410.4 L359.6,413.4 L364.2,419.2 L372.3,426.1 L374.6,431.9 L373.4,439.9 L368.8,449.2 L364.9,454.9 L366.5,463.0 L370.0,468.8 L371.1,474.5 L367.2,481.5 L365.8,487.2 L371.1,486.5 L381.5,488.8 L388.4,488.4 L393.0,487.2 L396.5,483.3 L408.0,483.3 L413.8,490.7 L420.7,494.8 L432.2,501.1 L438.0,499.5 L444.2,508.0 L448.4,514.9 L449.6,520.7 L450.0,518.0 L454.6,523.1 L459.2,521.2 L462.7,532.3 L473.1,532.8 L477.7,534.6 L486.9,535.1 L493.8,531.1 L497.3,534.1 L505.4,543.8 L513.4,550.7 L510.4,555.4 L505.8,560.4 L508.1,570.4 L515.7,568.1 L518.1,561.8 L528.4,566.9 L536.5,573.4 L543.4,580.3 L545.7,587.2 L550.3,591.8 L546.9,599.2 L550.3,602.7 L554.3,608.4 L550.3,613.5 L553.8,617.6 L556.1,623.4 L560.3,619.5 L570.0,617.2 L578.0,614.2 L582.6,609.6 L588.4,608.9 L594.2,613.0 L598.8,619.5 L601.1,617.6 L602.7,607.3 L609.2,600.3 L614.9,598.0 L621.9,599.2 L627.6,602.7 L634.5,602.7 L639.2,601.0 L642.6,603.8 L645.6,595.7 L650.0,593.4 L650.0,592.8 L661.3,598.9 L663.3,603.1 L670.5,603.1 L669.5,611.3 L676.7,618.4 L691.0,621.9 L704.3,621.5 L711.5,626.6 L712.6,635.9 L715.2,644.1 L722.8,643.0 L733.1,646.1 L738.2,637.9 L746.4,638.9 L751.5,643.0 L752.5,635.9 L758.7,632.8 L761.8,626.0 L768.9,624.6 L771.0,620.5 L781.3,619.5 L793.6,616.4 L802.8,619.5 L808.9,626.6 L814.1,631.8 L824.3,636.9 L830.5,638.9 L834.6,638.9 L834.7,638.1 L843.7,637.6 L851.1,632.8 L855.4,637.0 L863.8,639.1 L869.1,644.0 L878.6,648.6 L887.1,652.4 L893.4,659.2 L887.1,663.4 L889.2,668.7 L897.7,673.6 L903.0,675.1 L904.0,681.4 L907.2,684.6 L903.0,690.9 L897.7,687.8 L895.6,690.9 L900.8,697.3 L905.1,699.4 L904.0,704.7 L909.3,711.0 L916.7,715.9 L923.0,721.0 L928.3,723.7 L927.3,731.1 L925.6,734.3 L931.5,736.4 L934.0,740.6 L934.7,750.1 L938.9,753.3 L945.2,752.7 L946.3,757.5 L941.0,766.0 L945.2,772.3 L950.5,777.2 L961.1,775.5 L969.6,777.6 L979.1,781.9 L982.3,780.8 L982.7,773.4 L987.5,769.2 L986.5,761.8 L981.2,756.5 L986.5,751.2 L993.9,755.4 L999.2,754.4 L1004.5,750.6 L1011.9,751.2 L1017.1,757.5 L1022.4,756.5 L1031.9,764.5 M724.9,42.8 L725.4,45.8 L728.8,52.7 L732.3,57.3 L736.9,55.7 L755.4,56.6 L760.4,65.4 L764.6,74.6 L770.4,83.8 L773.8,89.6 L773.4,95.4 L777.3,101.8 L780.7,99.5 L792.3,100.4 L804.3,101.8 L801.5,110.4 L793.4,118.0 L787.2,125.4 L779.6,130.0 L775.0,134.6 L777.3,141.5 L780.7,145.0 L779.6,148.4 L786.5,155.3 L790.4,161.1 L799.2,158.8 L808.4,160.0 L815.3,160.0 L824.6,164.6 L829.2,166.4 L825.7,173.8 L829.2,178.4 L836.1,181.9 L837.3,189.9 L834.9,201.5 L829.2,210.7 L826.9,216.5 L836.1,224.5 L844.2,233.8 L847.2,241.8 L838.4,244.2 L833.8,246.5 L826.9,243.0 L822.3,240.7 L815.3,243.0 L811.9,249.9 L809.6,261.5 L803.8,267.2 L792.3,270.7 L785.4,274.1 L781.9,279.9 L774.2,290.0 L777.6,295.8 L779.5,307.3 L773.0,309.6 L764.9,311.9 L762.6,321.1 M762.6,321.1 L758.0,324.6 L759.2,328.1 L763.8,326.9 L762.6,332.7 L760.3,338.4 L762.6,344.2 L758.0,348.8 L759.2,354.6 L755.7,361.5 L759.2,366.1 L762.6,371.9 L761.5,377.7 L764.9,382.3 L763.8,386.9 L768.4,391.5 L770.7,397.3 L774.2,403.0 L775.3,410.0 L780.0,405.8 L782.3,412.7 L788.1,415.0 L791.0,419.0 L789.2,426.0 L792.7,431.2 L794.4,436.9 L799.6,442.7 L804.2,446.7 L808.8,447.9 L812.9,451.9 L816.9,451.3 L819.2,456.5 L819.8,464.0 L822.7,466.3 L825.6,461.2 L829.6,459.8 L834.2,460.2 L838.8,466.3 L844.6,473.3 L850.4,476.2 L853.8,478.5 L859.6,477.3 L863.1,475.0 L866.5,473.3 L871.2,476.7 L876.9,478.5 L881.5,477.3 L885.0,479.6 L882.7,484.2 L878.1,487.7 L880.4,492.3 L879.2,496.9 L881.0,501.5 L876.9,505.0 L875.8,510.8 L876.3,516.5 L878.1,520.0 L876.6,523.1 L867.4,531.3 L859.2,536.4 L853.0,545.6 L857.1,550.8 L853.0,560.0 L846.9,568.2 L838.7,575.4 L835.6,580.5 L838.7,585.6 L831.5,588.7 L834.6,594.8 L838.7,597.9 L834.6,605.1 L831.5,613.3 L833.6,623.6 L834.6,638.9 M762.6,321.1 L759.2,314.2 L754.6,311.9 L745.3,311.9 L743.0,317.2 L731.5,313.1 L729.2,307.3 L709.6,311.2 L707.3,320.0 L703.8,331.5 L691.8,339.6 L688.8,347.7 L685.4,355.7 L677.3,360.4 L676.1,369.6 L675.0,378.8 L666.9,385.7 L668.1,393.8 L671.5,398.4 L664.6,403.0 L658.8,407.6 L653.1,410.0 L651.2,419.2 L647.3,428.4 L641.5,435.3 L646.1,442.2 L654.2,446.9 L647.3,450.3 L645.0,460.7 L642.7,466.5 L645.7,474.5 L646.1,483.8 L650.0,485.1 L656.2,487.2 L662.3,500.5 L667.4,512.8 L669.5,517.3 L677.7,516.9 L682.8,521.0 L686.9,524.7 L681.8,530.2 L683.8,538.4 L693.1,545.6 L692.7,554.9 L683.8,557.5 L680.8,568.2 L674.6,578.4 L680.8,582.5 L680.8,588.7 L674.6,594.8 L664.4,600.0 L661.3,598.9" stroke="#000" stroke-width="2.9" fill="none" stroke-linejoin="round" stroke-linecap="round"/>
<circle cx="567.5" cy="429.3" r="5.3" fill="#f01010" stroke="#000" stroke-width="0.8"/>
</g>
<rect x="107.5" y="51.5" width="265.5" height="49.5" fill="#fff" fill-opacity="0.9" stroke="#000" stroke-width="1.2"/>
<rect x="101.5" y="45.5" width="930.0" height="924.0" fill="none" stroke="#000" stroke-width="1.1"/>
<path d="M101.5,969.5v4.9M256.5,969.5v4.9M411.5,969.5v4.9M566.5,969.5v4.9M721.5,969.5v4.9M876.5,969.5v4.9M1031.5,969.5v4.9M101.5,969.5h-4.9M101.5,854.0h-4.9M101.5,738.5h-4.9M101.5,623.0h-4.9M101.5,507.5h-4.9M101.5,392.0h-4.9M101.5,276.5h-4.9M101.5,161.0h-4.9M101.5,45.5h-4.9" stroke="#000" stroke-width="1.1" fill="none"/>
<text x="43.8" y="976.2" font-size="17.6" textLength="46.2" lengthAdjust="spacingAndGlyphs" >48.75</text>
<text x="43.8" y="860.7" font-size="17.6" textLength="46.2" lengthAdjust="spacingAndGlyphs" >49.00</text>
<text x="43.8" y="745.2" font-size="17.6" textLength="46.2" lengthAdjust="spacingAndGlyphs" >49.25</text>
<text x="43.8" y="629.7" font-size="17.6" textLength="46.2" lengthAdjust="spacingAndGlyphs" >49.50</text>
<text x="43.8" y="514.2" font-size="17.6" textLength="46.2" lengthAdjust="spacingAndGlyphs" >49.75</text>
<text x="43.8" y="398.7" font-size="17.6" textLength="46.2" lengthAdjust="spacingAndGlyphs" >50.00</text>
<text x="43.8" y="283.2" font-size="17.6" textLength="46.2" lengthAdjust="spacingAndGlyphs" >50.25</text>
<text x="43.8" y="167.7" font-size="17.6" textLength="46.2" lengthAdjust="spacingAndGlyphs" >50.50</text>
<text x="43.8" y="52.2" font-size="17.6" textLength="46.2" lengthAdjust="spacingAndGlyphs" >50.75</text>
<text x="88.1" y="992.8" font-size="17.6" textLength="24.6" lengthAdjust="spacingAndGlyphs" >4.0</text>
<text x="243.1" y="992.8" font-size="17.6" textLength="24.6" lengthAdjust="spacingAndGlyphs" >4.5</text>
<text x="398.1" y="992.8" font-size="17.6" textLength="24.6" lengthAdjust="spacingAndGlyphs" >5.0</text>
<text x="553.1" y="992.8" font-size="17.6" textLength="24.6" lengthAdjust="spacingAndGlyphs" >5.5</text>
<text x="708.1" y="992.8" font-size="17.6" textLength="24.6" lengthAdjust="spacingAndGlyphs" >6.0</text>
<text x="863.1" y="992.8" font-size="17.6" textLength="24.6" lengthAdjust="spacingAndGlyphs" >6.5</text>
<text x="1018.1" y="992.8" font-size="17.6" textLength="24.6" lengthAdjust="spacingAndGlyphs" >7.0</text>
<text x="303.5" y="37.9" font-size="36.6" textLength="195.5" lengthAdjust="spacingAndGlyphs" >24.10.2025</text>
<text x="513.5" y="37.9" font-size="36.6" textLength="98.0" lengthAdjust="spacingAndGlyphs" >10:50</text>
<text x="624.5" y="37.9" font-size="36.6" textLength="10.8" lengthAdjust="spacingAndGlyphs" >-</text>
<text x="649.5" y="37.9" font-size="36.6" textLength="96.5" lengthAdjust="spacingAndGlyphs" >10:54</text>
<text x="759.5" y="37.9" font-size="36.6" textLength="68.0" lengthAdjust="spacingAndGlyphs" >UTC</text>
<text x="492.5" y="1024.3" font-size="28.4" textLength="138.0" lengthAdjust="spacingAndGlyphs" >Longitude</text>
<g transform="translate(34.2,565.7) rotate(-90)"><text x="0" y="0" font-size="29.2" textLength="111.5" lengthAdjust="spacingAndGlyphs" >Latitude</text></g>
<text x="113.0" y="70.6" font-size="16.6" textLength="255.0" lengthAdjust="spacingAndGlyphs" >Product: Maximum Reflectivity</text>
<text x="113.0" y="91.6" font-size="16.6" textLength="93.0" lengthAdjust="spacingAndGlyphs" >Data: RMIB</text>
<rect x="1089.5" y="893.60" width="41.0" height="30.20" fill="#6678A9"/>
<rect x="1089.5" y="863.90" width="41.0" height="30.20" fill="#5468A4"/>
<rect x="1089.5" y="834.20" width="41.0" height="30.20" fill="#4660A3"/>
<rect x="1089.5" y="804.50" width="41.0" height="30.20" fill="#4C7CB4"/>
<rect x="1089.5" y="774.80" width="41.0" height="30.20" fill="#5A9CC5"/>
<rect x="1089.5" y="745.10" width="41.0" height="30.20" fill="#62BEDC"/>
<rect x="1089.5" y="715.40" width="41.0" height="30.20" fill="#63D4C4"/>
<rect x="1089.5" y="685.70" width="41.0" height="30.20" fill="#40D466"/>
<rect x="1089.5" y="656.00" width="41.0" height="30.20" fill="#14C41E"/>
<rect x="1089.5" y="626.30" width="41.0" height="30.20" fill="#14B01C"/>
<rect x="1089.5" y="596.60" width="41.0" height="30.20" fill="#12A01A"/>
<rect x="1089.5" y="566.90" width="41.0" height="30.20" fill="#109018"/>
<rect x="1089.5" y="537.20" width="41.0" height="30.20" fill="#0E7E16"/>
<rect x="1089.5" y="507.50" width="41.0" height="30.20" fill="#0A5C10"/>
<rect x="1089.5" y="477.80" width="41.0" height="30.20" fill="#44800C"/>
<rect x="1089.5" y="448.10" width="41.0" height="30.20" fill="#B0B00C"/>
<rect x="1089.5" y="418.40" width="41.0" height="30.20" fill="#FCD80C"/>
<rect x="1089.5" y="388.70" width="41.0" height="30.20" fill="#FFB800"/>
<rect x="1089.5" y="359.00" width="41.0" height="30.20" fill="#FF9C00"/>
<rect x="1089.5" y="329.30" width="41.0" height="30.20" fill="#FF7F00"/>
<rect x="1089.5" y="299.60" width="41.0" height="30.20" fill="#E00000"/>
<rect x="1089.5" y="269.90" width="41.0" height="30.20" fill="#BE0000"/>
<rect x="1089.5" y="240.20" width="41.0" height="30.20" fill="#A00000"/>
<rect x="1089.5" y="210.50" width="41.0" height="30.20" fill="#7C0000"/>
<rect x="1089.5" y="180.80" width="41.0" height="30.20" fill="#FFDEFF"/>
<rect x="1089.5" y="151.10" width="41.0" height="30.20" fill="#FDB4FD"/>
<rect x="1089.5" y="121.40" width="41.0" height="30.20" fill="#FA6EFA"/>
<rect x="1089.5" y="91.70" width="41.0" height="30.20" fill="#E838E8"/>
<rect x="1089.5" y="91.7" width="41.0" height="831.5999999999999" fill="none" stroke="#000" stroke-width="1.1"/>
<path d="M1130.5,923.30h4.9M1130.5,804.50h4.9M1130.5,685.70h4.9M1130.5,566.90h4.9M1130.5,448.10h4.9M1130.5,329.30h4.9M1130.5,210.50h4.9M1130.5,91.70h4.9" stroke="#000" stroke-width="1.1" fill="none"/>
<text x="1140.3" y="933.8" font-size="29.3" textLength="18.0" lengthAdjust="spacingAndGlyphs" >0</text>
<text x="1140.3" y="815.0" font-size="29.3" textLength="35.0" lengthAdjust="spacingAndGlyphs" >10</text>
<text x="1140.3" y="696.2" font-size="29.3" textLength="35.0" lengthAdjust="spacingAndGlyphs" >20</text>
<text x="1140.3" y="577.4" font-size="29.3" textLength="35.0" lengthAdjust="spacingAndGlyphs" >30</text>
<text x="1140.3" y="458.6" font-size="29.3" textLength="35.0" lengthAdjust="spacingAndGlyphs" >40</text>
<text x="1140.3" y="339.8" font-size="29.3" textLength="35.0" lengthAdjust="spacingAndGlyphs" >50</text>
<text x="1140.3" y="221.0" font-size="29.3" textLength="35.0" lengthAdjust="spacingAndGlyphs" >60</text>
<text x="1140.3" y="102.2" font-size="29.3" textLength="35.0" lengthAdjust="spacingAndGlyphs" >70</text>
<g transform="translate(1204.8,536.5) rotate(-90)"><text x="0" y="0" font-size="30.0" textLength="54.5" lengthAdjust="spacingAndGlyphs" >dBZ</text></g>
</svg>
</body></html>
